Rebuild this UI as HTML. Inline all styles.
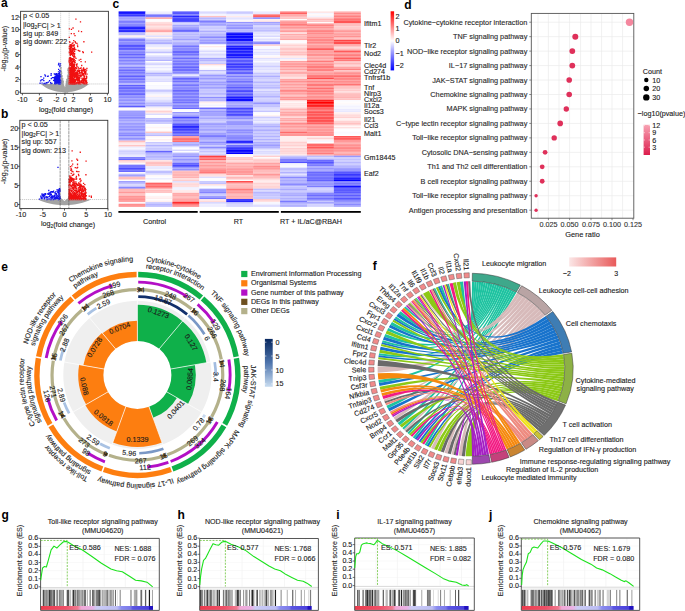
<!DOCTYPE html>
<html><head><meta charset="utf-8"><title>Figure</title>
<style>html,body{margin:0;padding:0;background:#fff;}svg{display:block;}text{font-family:"Liberation Sans", sans-serif;}</style>
</head><body>
<svg width="685" height="611" viewBox="0 0 685 611" font-family="Liberation Sans, sans-serif">
<rect width="685" height="611" fill="#fff"/>
<g>
<clipPath id="cpa"><rect x="20.6" y="11.3" width="87.8" height="82"/></clipPath>
<g clip-path="url(#cpa)">
<path d="M40.68 83.97 L60.57 83.97 L60.57 62.1 C61.93 77.1 64.05 86.16 64.69 88.66 L65.11 88.66 C65.75 86.16 67.88 77.1 69.23 62.1 L69.23 83.97 L89.12 83.97 C83.07 89.26 74.59 92.22 64.9 92.22 C55.21 92.22 46.73 89.26 40.68 83.97 Z" fill="#a3a3a3"/>
<path d="M62.02 82.63h1.3v1.3h-1.3zM63.14 86.59h1.3v1.3h-1.3zM65.32 90.94h1.3v1.3h-1.3zM60.11 67.9h1.3v1.3h-1.3zM62.2 87.96h1.3v1.3h-1.3zM68.46 78.22h1.3v1.3h-1.3zM67.11 81.53h1.3v1.3h-1.3zM65.43 90.15h1.3v1.3h-1.3zM65.4 84.21h1.3v1.3h-1.3zM64.45 90.39h1.3v1.3h-1.3zM65.71 90.77h1.3v1.3h-1.3zM66.44 82.01h1.3v1.3h-1.3zM62.56 91.07h1.3v1.3h-1.3zM67.36 80.76h1.3v1.3h-1.3zM66.11 79.55h1.3v1.3h-1.3zM66.07 79.25h1.3v1.3h-1.3zM63.36 86.24h1.3v1.3h-1.3zM63.78 88.24h1.3v1.3h-1.3zM67.47 89.17h1.3v1.3h-1.3zM61.16 86.56h1.3v1.3h-1.3zM68.21 79.18h1.3v1.3h-1.3zM65.33 89.09h1.3v1.3h-1.3zM64.31 91.28h1.3v1.3h-1.3zM62.98 86.05h1.3v1.3h-1.3zM64.97 86.74h1.3v1.3h-1.3zM65.8 80.99h1.3v1.3h-1.3zM67.28 69.6h1.3v1.3h-1.3zM65.71 89.72h1.3v1.3h-1.3zM67.32 69.92h1.3v1.3h-1.3zM67.69 77.2h1.3v1.3h-1.3zM66.07 88.66h1.3v1.3h-1.3zM67.07 79.68h1.3v1.3h-1.3zM62.42 90.61h1.3v1.3h-1.3zM67.26 69.77h1.3v1.3h-1.3zM60.75 71.07h1.3v1.3h-1.3zM63.49 90.61h1.3v1.3h-1.3zM62.5 81.65h1.3v1.3h-1.3zM67.42 90.43h1.3v1.3h-1.3zM65.22 91.13h1.3v1.3h-1.3zM66.11 86.98h1.3v1.3h-1.3zM67.49 68.34h1.3v1.3h-1.3zM64.3 91.12h1.3v1.3h-1.3zM62.63 90.54h1.3v1.3h-1.3zM65.1 91.26h1.3v1.3h-1.3zM61.68 83.81h1.3v1.3h-1.3zM65.19 90.38h1.3v1.3h-1.3zM60.36 67.04h1.3v1.3h-1.3zM62.67 80.41h1.3v1.3h-1.3zM67.62 82.18h1.3v1.3h-1.3zM63.91 90.18h1.3v1.3h-1.3zM65.47 86.15h1.3v1.3h-1.3zM64.75 89.18h1.3v1.3h-1.3zM68 77.63h1.3v1.3h-1.3zM63.67 88.38h1.3v1.3h-1.3zM62.02 86.56h1.3v1.3h-1.3zM68.31 76.79h1.3v1.3h-1.3zM64.66 91.42h1.3v1.3h-1.3zM63.53 88.41h1.3v1.3h-1.3zM60.17 74.13h1.3v1.3h-1.3zM65.37 90.96h1.3v1.3h-1.3zM65.33 87.78h1.3v1.3h-1.3zM65.77 87.54h1.3v1.3h-1.3zM66.01 82h1.3v1.3h-1.3zM60.19 89.75h1.3v1.3h-1.3zM65.75 80.96h1.3v1.3h-1.3zM62.13 84.42h1.3v1.3h-1.3zM65.04 89.61h1.3v1.3h-1.3zM63.09 88.82h1.3v1.3h-1.3zM63.14 86.63h1.3v1.3h-1.3zM62.55 86.79h1.3v1.3h-1.3zM66.56 91h1.3v1.3h-1.3zM64.84 88.3h1.3v1.3h-1.3zM62.64 88.83h1.3v1.3h-1.3zM66.83 86.96h1.3v1.3h-1.3zM61.59 83.03h1.3v1.3h-1.3zM65.93 90.2h1.3v1.3h-1.3zM62.74 87.77h1.3v1.3h-1.3zM67.09 82.4h1.3v1.3h-1.3zM67.27 87.73h1.3v1.3h-1.3zM62.86 84.88h1.3v1.3h-1.3zM67.52 80.71h1.3v1.3h-1.3zM61.91 89.39h1.3v1.3h-1.3zM64.5 91.1h1.3v1.3h-1.3zM66.86 75.53h1.3v1.3h-1.3zM61.56 86h1.3v1.3h-1.3zM66.86 79.25h1.3v1.3h-1.3zM66.85 84.91h1.3v1.3h-1.3zM61.1 84.76h1.3v1.3h-1.3zM66.75 86.52h1.3v1.3h-1.3zM62.94 87.49h1.3v1.3h-1.3zM63.57 89.42h1.3v1.3h-1.3zM67.83 87.39h1.3v1.3h-1.3zM60.04 64.92h1.3v1.3h-1.3zM67.48 68.25h1.3v1.3h-1.3zM63.69 87.59h1.3v1.3h-1.3zM67.88 85.58h1.3v1.3h-1.3zM66.34 78.74h1.3v1.3h-1.3zM65.64 86.22h1.3v1.3h-1.3zM62.46 87h1.3v1.3h-1.3zM61.93 90.3h1.3v1.3h-1.3zM65 89.88h1.3v1.3h-1.3zM66.89 90.58h1.3v1.3h-1.3zM67.68 74.13h1.3v1.3h-1.3zM67.85 67.94h1.3v1.3h-1.3zM67.65 77.18h1.3v1.3h-1.3zM60.11 70.49h1.3v1.3h-1.3zM61.46 85.36h1.3v1.3h-1.3zM65.63 86.16h1.3v1.3h-1.3zM63.52 86.44h1.3v1.3h-1.3zM65.2 89.08h1.3v1.3h-1.3zM62.15 78.25h1.3v1.3h-1.3zM64.06 90.35h1.3v1.3h-1.3zM62.99 89.64h1.3v1.3h-1.3zM64.54 89.7h1.3v1.3h-1.3zM61.46 75.35h1.3v1.3h-1.3zM67.84 70.41h1.3v1.3h-1.3zM67 91.3h1.3v1.3h-1.3zM65.34 84.59h1.3v1.3h-1.3zM60.42 83.89h1.3v1.3h-1.3zM62.28 83.9h1.3v1.3h-1.3zM63.6 89.2h1.3v1.3h-1.3zM66.6 91.42h1.3v1.3h-1.3zM60.47 87.96h1.3v1.3h-1.3zM61.06 89.86h1.3v1.3h-1.3zM68.28 67.42h1.3v1.3h-1.3zM60.73 78.59h1.3v1.3h-1.3zM62.69 87.87h1.3v1.3h-1.3zM62.99 85.5h1.3v1.3h-1.3zM64.99 89.52h1.3v1.3h-1.3zM61.62 85.17h1.3v1.3h-1.3zM61.05 78.52h1.3v1.3h-1.3zM66.09 86.37h1.3v1.3h-1.3zM60.68 86.81h1.3v1.3h-1.3zM63.17 86.71h1.3v1.3h-1.3zM66.65 84.8h1.3v1.3h-1.3zM66.81 79.84h1.3v1.3h-1.3zM63.67 89.87h1.3v1.3h-1.3zM64.22 91.28h1.3v1.3h-1.3zM63.57 88.04h1.3v1.3h-1.3zM63.92 90.86h1.3v1.3h-1.3zM64.55 89.91h1.3v1.3h-1.3zM60.61 80.19h1.3v1.3h-1.3zM63.62 87.41h1.3v1.3h-1.3zM67.96 81.34h1.3v1.3h-1.3zM67.63 71.98h1.3v1.3h-1.3zM62.23 84.62h1.3v1.3h-1.3zM61.05 72.49h1.3v1.3h-1.3zM65.63 82.54h1.3v1.3h-1.3zM66.74 79.37h1.3v1.3h-1.3zM66.24 83.3h1.3v1.3h-1.3z" fill="#a3a3a3"/>
<path d="M59.26 78h1.3v1.3h-1.3zM59.88 82.47h1.3v1.3h-1.3zM54.98 83.14h1.3v1.3h-1.3zM59.33 82.8h1.3v1.3h-1.3zM54.3 82.19h1.3v1.3h-1.3zM59.77 74.83h1.3v1.3h-1.3zM59.14 74.8h1.3v1.3h-1.3zM55.62 74.9h1.3v1.3h-1.3zM53.84 78.1h1.3v1.3h-1.3zM54.82 83.18h1.3v1.3h-1.3zM55.02 78.88h1.3v1.3h-1.3zM55.36 82.75h1.3v1.3h-1.3zM55.14 73.59h1.3v1.3h-1.3zM59.53 80.87h1.3v1.3h-1.3zM56.32 75.01h1.3v1.3h-1.3zM58.37 82.18h1.3v1.3h-1.3zM58.32 77.67h1.3v1.3h-1.3zM55.11 80.16h1.3v1.3h-1.3zM57.57 80.13h1.3v1.3h-1.3zM57.68 79.9h1.3v1.3h-1.3zM59.38 79.01h1.3v1.3h-1.3zM53.71 79.96h1.3v1.3h-1.3zM55.15 82.34h1.3v1.3h-1.3zM55.51 75.94h1.3v1.3h-1.3zM55.62 78.82h1.3v1.3h-1.3zM56.83 77.34h1.3v1.3h-1.3zM54.19 82.43h1.3v1.3h-1.3zM59.3 76.04h1.3v1.3h-1.3zM54.07 78.82h1.3v1.3h-1.3zM57.09 76.41h1.3v1.3h-1.3zM58.73 81.41h1.3v1.3h-1.3zM58.65 78.03h1.3v1.3h-1.3zM57.91 81.73h1.3v1.3h-1.3zM55.51 73.34h1.3v1.3h-1.3zM58.03 76.58h1.3v1.3h-1.3zM57.28 74.68h1.3v1.3h-1.3zM56.19 81.41h1.3v1.3h-1.3zM58.53 83.25h1.3v1.3h-1.3zM56.86 80.28h1.3v1.3h-1.3zM58.82 80.5h1.3v1.3h-1.3zM57.86 75.71h1.3v1.3h-1.3zM59 72.82h1.3v1.3h-1.3zM56.86 77.87h1.3v1.3h-1.3zM56.93 74.93h1.3v1.3h-1.3zM54.68 78.36h1.3v1.3h-1.3zM56.85 76.38h1.3v1.3h-1.3zM54.45 80.09h1.3v1.3h-1.3zM55.24 73.25h1.3v1.3h-1.3zM56.94 81.76h1.3v1.3h-1.3zM58.42 76.42h1.3v1.3h-1.3zM55.61 73.27h1.3v1.3h-1.3zM54.47 81.64h1.3v1.3h-1.3zM58.71 81.49h1.3v1.3h-1.3zM58.72 76.58h1.3v1.3h-1.3zM54.44 74.06h1.3v1.3h-1.3zM58.29 74.52h1.3v1.3h-1.3zM57.92 79.85h1.3v1.3h-1.3zM55.27 82.89h1.3v1.3h-1.3zM59.32 74.93h1.3v1.3h-1.3zM58.06 80.54h1.3v1.3h-1.3zM56.22 76.94h1.3v1.3h-1.3zM59.87 80.76h1.3v1.3h-1.3zM57.13 79.17h1.3v1.3h-1.3zM58.58 78.03h1.3v1.3h-1.3zM53.82 80.19h1.3v1.3h-1.3zM56.44 82.66h1.3v1.3h-1.3zM58.16 77.07h1.3v1.3h-1.3zM59.2 74.23h1.3v1.3h-1.3zM54.12 82.81h1.3v1.3h-1.3zM53.91 80.36h1.3v1.3h-1.3zM54.99 75.92h1.3v1.3h-1.3zM58.03 76.94h1.3v1.3h-1.3zM55.75 75.3h1.3v1.3h-1.3zM58.22 75.96h1.3v1.3h-1.3zM53.79 76.98h1.3v1.3h-1.3zM56.5 82.7h1.3v1.3h-1.3zM56.77 80.59h1.3v1.3h-1.3zM55.34 76.91h1.3v1.3h-1.3zM56.3 82.17h1.3v1.3h-1.3zM55.8 77.49h1.3v1.3h-1.3zM58.77 74.19h1.3v1.3h-1.3zM55.74 82.63h1.3v1.3h-1.3zM53.97 82.49h1.3v1.3h-1.3zM57.8 76.39h1.3v1.3h-1.3zM56.11 78.38h1.3v1.3h-1.3zM55.79 79.48h1.3v1.3h-1.3zM57.92 82.21h1.3v1.3h-1.3zM59.48 76.45h1.3v1.3h-1.3zM55.11 78.52h1.3v1.3h-1.3zM55.2 80.52h1.3v1.3h-1.3zM58.22 80.27h1.3v1.3h-1.3zM54.35 83.15h1.3v1.3h-1.3zM56.7 81.6h1.3v1.3h-1.3zM55.01 80.57h1.3v1.3h-1.3zM57.79 80.06h1.3v1.3h-1.3zM56.46 75.74h1.3v1.3h-1.3zM57.67 74.76h1.3v1.3h-1.3zM59.2 81.38h1.3v1.3h-1.3zM59.28 82.7h1.3v1.3h-1.3zM54.95 76.3h1.3v1.3h-1.3zM58.74 82.11h1.3v1.3h-1.3zM57.26 76.1h1.3v1.3h-1.3zM54.71 76.03h1.3v1.3h-1.3zM56.14 82.45h1.3v1.3h-1.3zM57.38 82.07h1.3v1.3h-1.3zM56.55 78.23h1.3v1.3h-1.3zM58.63 81.57h1.3v1.3h-1.3zM54.93 83.21h1.3v1.3h-1.3zM54.79 74.18h1.3v1.3h-1.3zM53.86 80.27h1.3v1.3h-1.3zM56.39 78.06h1.3v1.3h-1.3zM55.88 73.02h1.3v1.3h-1.3zM55.54 81.11h1.3v1.3h-1.3zM54.43 79.19h1.3v1.3h-1.3zM56.08 76.31h1.3v1.3h-1.3zM59.9 75.75h1.3v1.3h-1.3zM55.7 79.1h1.3v1.3h-1.3zM56.58 79.45h1.3v1.3h-1.3zM58.68 78.68h1.3v1.3h-1.3zM59.68 79h1.3v1.3h-1.3zM55.8 79.62h1.3v1.3h-1.3zM56.31 73.26h1.3v1.3h-1.3zM54.23 82.53h1.3v1.3h-1.3zM54.86 77.58h1.3v1.3h-1.3zM59.59 80.51h1.3v1.3h-1.3zM58.43 82.94h1.3v1.3h-1.3zM56.48 73.66h1.3v1.3h-1.3zM57.86 74.45h1.3v1.3h-1.3zM55.49 82.54h1.3v1.3h-1.3zM54.44 77.84h1.3v1.3h-1.3zM54.01 76.44h1.3v1.3h-1.3zM55.2 80.68h1.3v1.3h-1.3zM54.77 73.63h1.3v1.3h-1.3zM54.42 79.7h1.3v1.3h-1.3zM55.09 79.18h1.3v1.3h-1.3zM59.22 83.15h1.3v1.3h-1.3zM59.42 82.01h1.3v1.3h-1.3zM58.89 79.04h1.3v1.3h-1.3zM55.46 78.59h1.3v1.3h-1.3zM57.22 77.27h1.3v1.3h-1.3z" fill="#1212ee"/>
<path d="M59.14 74.86h1.3v1.3h-1.3zM57.98 76.22h1.3v1.3h-1.3zM59.45 64.61h1.3v1.3h-1.3zM58.08 76.94h1.3v1.3h-1.3zM58.97 73.42h1.3v1.3h-1.3zM58.39 79.8h1.3v1.3h-1.3zM59.91 80.08h1.3v1.3h-1.3zM57.92 81.26h1.3v1.3h-1.3zM58.74 80.33h1.3v1.3h-1.3zM59.38 80.78h1.3v1.3h-1.3zM58.89 80.82h1.3v1.3h-1.3zM59.84 81.82h1.3v1.3h-1.3zM59.49 74.29h1.3v1.3h-1.3zM59.76 83.1h1.3v1.3h-1.3zM58.77 76.08h1.3v1.3h-1.3zM58.12 82.73h1.3v1.3h-1.3zM58.89 76.32h1.3v1.3h-1.3zM59.85 62.95h1.3v1.3h-1.3zM59.36 82.08h1.3v1.3h-1.3zM58.7 80.88h1.3v1.3h-1.3zM58.33 77.37h1.3v1.3h-1.3zM59.6 82.71h1.3v1.3h-1.3zM58.06 78.81h1.3v1.3h-1.3zM57.91 74.84h1.3v1.3h-1.3zM57.54 78.3h1.3v1.3h-1.3zM59.28 78.99h1.3v1.3h-1.3zM57.84 71.14h1.3v1.3h-1.3zM59.04 82.08h1.3v1.3h-1.3zM58.17 62.86h1.3v1.3h-1.3zM58.4 83.3h1.3v1.3h-1.3zM59.84 82.14h1.3v1.3h-1.3zM59.48 82.92h1.3v1.3h-1.3zM59.78 70.55h1.3v1.3h-1.3zM57.62 80.23h1.3v1.3h-1.3zM57.43 74.59h1.3v1.3h-1.3zM57.87 64.16h1.3v1.3h-1.3zM57.52 82.95h1.3v1.3h-1.3zM59.14 71.65h1.3v1.3h-1.3zM57.5 82.18h1.3v1.3h-1.3zM59.17 65.84h1.3v1.3h-1.3zM59.62 76.46h1.3v1.3h-1.3zM59.06 69.95h1.3v1.3h-1.3zM57.55 80.71h1.3v1.3h-1.3zM58.03 68.66h1.3v1.3h-1.3zM57.78 72.88h1.3v1.3h-1.3z" fill="#1212ee"/>
<path d="M39.92 80.18h1.3v1.3h-1.3zM47.7 81.51h1.3v1.3h-1.3zM42.12 78.91h1.3v1.3h-1.3zM49.93 82.06h1.3v1.3h-1.3zM43.02 77.5h1.3v1.3h-1.3zM43.18 79.93h1.3v1.3h-1.3zM46.6 82.2h1.3v1.3h-1.3zM43.18 83.21h1.3v1.3h-1.3zM46.91 75.7h1.3v1.3h-1.3zM43.69 82.68h1.3v1.3h-1.3zM50.42 74.66h1.3v1.3h-1.3zM44.22 74.23h1.3v1.3h-1.3zM40.7 79.25h1.3v1.3h-1.3zM40.33 76.01h1.3v1.3h-1.3zM48.94 80.1h1.3v1.3h-1.3zM52.95 79.79h1.3v1.3h-1.3zM39.43 82.61h1.3v1.3h-1.3zM45.35 82.57h1.3v1.3h-1.3zM52.81 77h1.3v1.3h-1.3zM50.37 83.04h1.3v1.3h-1.3zM51.71 77.05h1.3v1.3h-1.3zM45.09 83.27h1.3v1.3h-1.3zM50.53 73.12h1.3v1.3h-1.3zM50.68 78h1.3v1.3h-1.3zM47.63 75.43h1.3v1.3h-1.3zM44.8 75.33h1.3v1.3h-1.3zM45.86 81.89h1.3v1.3h-1.3zM51.33 82.82h1.3v1.3h-1.3zM41.42 82.55h1.3v1.3h-1.3zM53.68 73.13h1.3v1.3h-1.3z" fill="#1212ee"/>
<path d="M69.38 50.08h1.3v1.3h-1.3zM68.87 70.83h1.3v1.3h-1.3zM69.5 53.58h1.3v1.3h-1.3zM71.67 63.08h1.3v1.3h-1.3zM72.57 51.28h1.3v1.3h-1.3zM70.13 64.88h1.3v1.3h-1.3zM70.68 81.87h1.3v1.3h-1.3zM73.04 65.28h1.3v1.3h-1.3zM72.91 79.64h1.3v1.3h-1.3zM71.22 70.87h1.3v1.3h-1.3zM72.36 82.48h1.3v1.3h-1.3zM70.13 70.04h1.3v1.3h-1.3zM68.82 67.15h1.3v1.3h-1.3zM72.41 72.5h1.3v1.3h-1.3zM71.87 64.76h1.3v1.3h-1.3zM69.45 75.15h1.3v1.3h-1.3zM74.08 75.68h1.3v1.3h-1.3zM70.6 82.36h1.3v1.3h-1.3zM69.47 80.68h1.3v1.3h-1.3zM73.66 58.95h1.3v1.3h-1.3zM73.29 44.74h1.3v1.3h-1.3zM71.65 47.93h1.3v1.3h-1.3zM71.2 72.66h1.3v1.3h-1.3zM73.77 49.53h1.3v1.3h-1.3zM73.78 70.06h1.3v1.3h-1.3zM72.64 73.1h1.3v1.3h-1.3zM74.09 48.56h1.3v1.3h-1.3zM69.85 47.77h1.3v1.3h-1.3zM69.31 82.16h1.3v1.3h-1.3zM72.32 77.04h1.3v1.3h-1.3zM71.1 63.2h1.3v1.3h-1.3zM68.7 58h1.3v1.3h-1.3zM69.76 72.13h1.3v1.3h-1.3zM70.12 58.15h1.3v1.3h-1.3zM72.48 77.26h1.3v1.3h-1.3zM68.95 76.88h1.3v1.3h-1.3zM70.49 82.47h1.3v1.3h-1.3zM69.17 57.1h1.3v1.3h-1.3zM72.19 45.34h1.3v1.3h-1.3zM73.98 51.03h1.3v1.3h-1.3zM70.27 80.77h1.3v1.3h-1.3zM69.95 70.91h1.3v1.3h-1.3zM71.14 67.61h1.3v1.3h-1.3zM70.2 52.32h1.3v1.3h-1.3zM69.81 70.91h1.3v1.3h-1.3zM73.37 54.77h1.3v1.3h-1.3zM69.87 78.62h1.3v1.3h-1.3zM72.85 83.29h1.3v1.3h-1.3zM69.07 68.1h1.3v1.3h-1.3zM71.2 80.67h1.3v1.3h-1.3zM68.74 79.7h1.3v1.3h-1.3zM72.62 70.81h1.3v1.3h-1.3zM73.97 55.91h1.3v1.3h-1.3zM73.97 83.07h1.3v1.3h-1.3zM69.31 83.27h1.3v1.3h-1.3zM70.6 75.58h1.3v1.3h-1.3zM68.74 67.44h1.3v1.3h-1.3zM68.91 76.48h1.3v1.3h-1.3zM69.62 55.04h1.3v1.3h-1.3zM70.53 78.09h1.3v1.3h-1.3zM68.72 72.24h1.3v1.3h-1.3zM71.74 61.48h1.3v1.3h-1.3zM73.54 54.7h1.3v1.3h-1.3zM69.62 81.36h1.3v1.3h-1.3zM72.55 55.7h1.3v1.3h-1.3zM71.04 53.5h1.3v1.3h-1.3zM71.29 77.5h1.3v1.3h-1.3zM69.24 83.24h1.3v1.3h-1.3zM71.84 49.88h1.3v1.3h-1.3zM73.49 70.74h1.3v1.3h-1.3zM71.97 48.09h1.3v1.3h-1.3zM72.9 64.9h1.3v1.3h-1.3zM70.5 68.63h1.3v1.3h-1.3zM69.25 80.24h1.3v1.3h-1.3zM72.09 44.41h1.3v1.3h-1.3zM71.26 73.06h1.3v1.3h-1.3zM70.16 71.24h1.3v1.3h-1.3zM72.83 71.34h1.3v1.3h-1.3zM73.84 80.92h1.3v1.3h-1.3zM69.97 68.48h1.3v1.3h-1.3zM70.49 52.41h1.3v1.3h-1.3zM72.99 47.94h1.3v1.3h-1.3zM71.65 83.11h1.3v1.3h-1.3zM71.43 67.28h1.3v1.3h-1.3zM70.92 77.5h1.3v1.3h-1.3zM72.24 49.05h1.3v1.3h-1.3zM68.94 61.79h1.3v1.3h-1.3zM70.27 68.78h1.3v1.3h-1.3zM73.43 46.27h1.3v1.3h-1.3zM71.84 79.93h1.3v1.3h-1.3zM73.59 80.29h1.3v1.3h-1.3zM70.33 53.65h1.3v1.3h-1.3zM69.97 77.77h1.3v1.3h-1.3zM73.78 47.22h1.3v1.3h-1.3zM69.98 73.64h1.3v1.3h-1.3zM69.79 81.45h1.3v1.3h-1.3zM69.63 45.12h1.3v1.3h-1.3zM68.85 78.99h1.3v1.3h-1.3zM69.39 82.44h1.3v1.3h-1.3zM71.14 58.11h1.3v1.3h-1.3zM73.06 63.58h1.3v1.3h-1.3zM72.93 83.31h1.3v1.3h-1.3zM69.8 46.22h1.3v1.3h-1.3zM68.81 77.87h1.3v1.3h-1.3zM70.89 77.87h1.3v1.3h-1.3zM71.26 82.92h1.3v1.3h-1.3zM69.56 46.43h1.3v1.3h-1.3zM69.13 49.4h1.3v1.3h-1.3zM69.28 44.37h1.3v1.3h-1.3zM72.03 62.84h1.3v1.3h-1.3zM69.12 82.82h1.3v1.3h-1.3zM72.56 80.41h1.3v1.3h-1.3zM69.34 53.94h1.3v1.3h-1.3zM73.29 82.9h1.3v1.3h-1.3zM73.85 67.93h1.3v1.3h-1.3zM70.33 81.95h1.3v1.3h-1.3zM70.37 44.68h1.3v1.3h-1.3zM69.79 81.45h1.3v1.3h-1.3zM69.13 81.54h1.3v1.3h-1.3zM70.17 48.86h1.3v1.3h-1.3zM68.84 80.01h1.3v1.3h-1.3zM73.71 44.13h1.3v1.3h-1.3zM73.98 78.52h1.3v1.3h-1.3zM70.18 46.82h1.3v1.3h-1.3zM70.9 60.1h1.3v1.3h-1.3zM69.96 83.2h1.3v1.3h-1.3zM70.13 57.84h1.3v1.3h-1.3zM72.7 66.43h1.3v1.3h-1.3zM70.78 67.78h1.3v1.3h-1.3zM70.66 67.94h1.3v1.3h-1.3zM73.02 79.79h1.3v1.3h-1.3zM71.54 47.85h1.3v1.3h-1.3zM73.12 80.33h1.3v1.3h-1.3zM73.87 53.01h1.3v1.3h-1.3zM69.23 77.93h1.3v1.3h-1.3zM69.4 82.84h1.3v1.3h-1.3zM73.97 73.01h1.3v1.3h-1.3zM73.28 81.8h1.3v1.3h-1.3zM68.62 51.39h1.3v1.3h-1.3zM72.77 44.45h1.3v1.3h-1.3zM72.1 68.34h1.3v1.3h-1.3zM72.6 82.22h1.3v1.3h-1.3zM71.22 71.79h1.3v1.3h-1.3zM69.14 65.01h1.3v1.3h-1.3zM70.01 69.14h1.3v1.3h-1.3zM70.28 76.26h1.3v1.3h-1.3zM70.2 64.98h1.3v1.3h-1.3zM73.98 47.66h1.3v1.3h-1.3zM73.21 53.27h1.3v1.3h-1.3zM69.82 45.32h1.3v1.3h-1.3zM69.73 81.62h1.3v1.3h-1.3zM70.99 58.65h1.3v1.3h-1.3zM70.1 62.92h1.3v1.3h-1.3zM69.8 45.89h1.3v1.3h-1.3zM70.72 70.32h1.3v1.3h-1.3zM71.17 51.1h1.3v1.3h-1.3zM74.02 68.2h1.3v1.3h-1.3zM70.66 64.2h1.3v1.3h-1.3zM68.81 72.4h1.3v1.3h-1.3zM73.11 56.34h1.3v1.3h-1.3zM68.77 52.22h1.3v1.3h-1.3zM70.34 45.05h1.3v1.3h-1.3zM70.24 79.41h1.3v1.3h-1.3zM71.27 50.61h1.3v1.3h-1.3zM70.6 51.51h1.3v1.3h-1.3zM72.26 74.77h1.3v1.3h-1.3zM69.89 69.18h1.3v1.3h-1.3zM70.42 74.37h1.3v1.3h-1.3zM71.89 51.09h1.3v1.3h-1.3zM71.49 81.12h1.3v1.3h-1.3zM69.48 74.43h1.3v1.3h-1.3zM71.67 81.27h1.3v1.3h-1.3zM68.86 76.18h1.3v1.3h-1.3zM69.8 83.13h1.3v1.3h-1.3zM71.22 48.5h1.3v1.3h-1.3zM71.19 58.39h1.3v1.3h-1.3zM72.99 53.14h1.3v1.3h-1.3zM73.54 71.78h1.3v1.3h-1.3zM72.08 81.67h1.3v1.3h-1.3zM73.32 74.17h1.3v1.3h-1.3zM70.85 50.25h1.3v1.3h-1.3zM69.82 80.07h1.3v1.3h-1.3zM72.96 65.08h1.3v1.3h-1.3zM68.87 83.14h1.3v1.3h-1.3zM70.16 83.3h1.3v1.3h-1.3zM73.02 80.23h1.3v1.3h-1.3zM69.75 73.78h1.3v1.3h-1.3zM71.06 72.13h1.3v1.3h-1.3zM71.75 62.22h1.3v1.3h-1.3zM70.63 82.13h1.3v1.3h-1.3zM73.97 60.7h1.3v1.3h-1.3zM68.87 71.77h1.3v1.3h-1.3zM72.52 44.43h1.3v1.3h-1.3zM68.8 83.29h1.3v1.3h-1.3zM70.87 72.53h1.3v1.3h-1.3zM73.42 53.74h1.3v1.3h-1.3zM70.05 72.65h1.3v1.3h-1.3zM71.48 50.59h1.3v1.3h-1.3zM69.4 73.67h1.3v1.3h-1.3zM68.89 63.1h1.3v1.3h-1.3zM68.66 47.72h1.3v1.3h-1.3zM71.13 66.21h1.3v1.3h-1.3zM68.87 78.92h1.3v1.3h-1.3zM70.81 52.07h1.3v1.3h-1.3zM71.22 77.35h1.3v1.3h-1.3zM73.99 62.14h1.3v1.3h-1.3zM71.15 79.74h1.3v1.3h-1.3zM69.88 49.71h1.3v1.3h-1.3zM69.08 68.06h1.3v1.3h-1.3zM71.7 75h1.3v1.3h-1.3zM72.61 49.15h1.3v1.3h-1.3zM73.18 58.36h1.3v1.3h-1.3zM69.4 82.75h1.3v1.3h-1.3zM70.61 76.46h1.3v1.3h-1.3zM69.36 51.3h1.3v1.3h-1.3zM69.46 53.94h1.3v1.3h-1.3zM73.7 81.69h1.3v1.3h-1.3zM73.54 73.47h1.3v1.3h-1.3zM69.44 80.15h1.3v1.3h-1.3zM68.69 69.46h1.3v1.3h-1.3zM70.34 52.39h1.3v1.3h-1.3zM73.02 82.79h1.3v1.3h-1.3zM70.43 73.76h1.3v1.3h-1.3zM69.28 78.38h1.3v1.3h-1.3zM69.7 60.55h1.3v1.3h-1.3zM70.1 81.87h1.3v1.3h-1.3zM69.48 71.75h1.3v1.3h-1.3zM71.37 78.54h1.3v1.3h-1.3zM72.18 79.39h1.3v1.3h-1.3zM72.01 64.6h1.3v1.3h-1.3zM69.27 57.7h1.3v1.3h-1.3zM70.39 67.72h1.3v1.3h-1.3zM71.56 63.72h1.3v1.3h-1.3zM70.66 82.8h1.3v1.3h-1.3zM72.73 51.94h1.3v1.3h-1.3zM70.93 65.98h1.3v1.3h-1.3zM69.73 49.78h1.3v1.3h-1.3zM72.1 79.21h1.3v1.3h-1.3zM72.92 44.77h1.3v1.3h-1.3zM70.13 44.21h1.3v1.3h-1.3zM70.89 80.35h1.3v1.3h-1.3zM72.29 75.56h1.3v1.3h-1.3zM72.39 65.78h1.3v1.3h-1.3zM68.97 68.21h1.3v1.3h-1.3zM73.14 70.32h1.3v1.3h-1.3zM71.22 51.75h1.3v1.3h-1.3zM70.69 69.71h1.3v1.3h-1.3zM71.48 53.88h1.3v1.3h-1.3zM69.4 82.2h1.3v1.3h-1.3zM72.57 67.15h1.3v1.3h-1.3zM69.9 50.14h1.3v1.3h-1.3zM73.35 67.64h1.3v1.3h-1.3zM74.03 53.23h1.3v1.3h-1.3zM72.48 77.13h1.3v1.3h-1.3zM68.61 61.31h1.3v1.3h-1.3zM72.4 75.15h1.3v1.3h-1.3zM70.87 66.51h1.3v1.3h-1.3zM69.63 60.38h1.3v1.3h-1.3zM71.36 73.9h1.3v1.3h-1.3zM68.97 67.09h1.3v1.3h-1.3zM69.99 59.02h1.3v1.3h-1.3zM69.26 73.57h1.3v1.3h-1.3zM69.37 73.05h1.3v1.3h-1.3zM71.44 81.95h1.3v1.3h-1.3zM68.75 70.14h1.3v1.3h-1.3zM69.39 69.19h1.3v1.3h-1.3zM69.23 82.07h1.3v1.3h-1.3zM71.21 48.4h1.3v1.3h-1.3zM73.25 68.75h1.3v1.3h-1.3zM70.41 82.66h1.3v1.3h-1.3zM69.77 76.39h1.3v1.3h-1.3zM73.72 81.75h1.3v1.3h-1.3zM73.77 70.36h1.3v1.3h-1.3zM70.61 78.04h1.3v1.3h-1.3zM73.86 80.16h1.3v1.3h-1.3zM71.41 68.95h1.3v1.3h-1.3zM69.38 79.18h1.3v1.3h-1.3zM74.01 55.64h1.3v1.3h-1.3zM72.39 49.54h1.3v1.3h-1.3zM68.93 60.09h1.3v1.3h-1.3zM72.5 79.11h1.3v1.3h-1.3zM70.74 45.45h1.3v1.3h-1.3zM70.03 57.12h1.3v1.3h-1.3zM69.22 61.87h1.3v1.3h-1.3zM69.73 69.03h1.3v1.3h-1.3zM70.27 51.36h1.3v1.3h-1.3zM72.46 69.23h1.3v1.3h-1.3zM72.11 72.31h1.3v1.3h-1.3zM72.84 78.18h1.3v1.3h-1.3zM71.25 65.68h1.3v1.3h-1.3zM70.36 82.93h1.3v1.3h-1.3zM69.24 63.14h1.3v1.3h-1.3zM69.44 57.33h1.3v1.3h-1.3zM71.02 46.69h1.3v1.3h-1.3zM73.12 58.9h1.3v1.3h-1.3zM70.27 82.97h1.3v1.3h-1.3zM71.32 57.97h1.3v1.3h-1.3zM73.59 79.73h1.3v1.3h-1.3zM69.19 45.1h1.3v1.3h-1.3zM72.43 70.04h1.3v1.3h-1.3zM72.43 81.05h1.3v1.3h-1.3zM71.25 61.8h1.3v1.3h-1.3zM71.6 80.78h1.3v1.3h-1.3zM69.09 63.88h1.3v1.3h-1.3zM73.35 81.3h1.3v1.3h-1.3zM68.6 82.39h1.3v1.3h-1.3zM72.72 73.71h1.3v1.3h-1.3zM70.74 44.3h1.3v1.3h-1.3zM71.64 78h1.3v1.3h-1.3zM72.19 83.32h1.3v1.3h-1.3zM69.79 60.33h1.3v1.3h-1.3zM69.25 83.09h1.3v1.3h-1.3zM71.1 75.93h1.3v1.3h-1.3zM73.92 82.05h1.3v1.3h-1.3zM72.83 73.79h1.3v1.3h-1.3zM72.85 71.63h1.3v1.3h-1.3zM71.99 75.98h1.3v1.3h-1.3zM69.51 71.34h1.3v1.3h-1.3zM72.81 75.34h1.3v1.3h-1.3zM69.53 72.77h1.3v1.3h-1.3zM68.92 76.34h1.3v1.3h-1.3zM71.42 67.46h1.3v1.3h-1.3zM71.56 77.18h1.3v1.3h-1.3zM68.65 83.16h1.3v1.3h-1.3zM70.09 79.9h1.3v1.3h-1.3zM71.39 77.94h1.3v1.3h-1.3zM72.57 64.96h1.3v1.3h-1.3zM71.95 58.49h1.3v1.3h-1.3zM71.12 72.35h1.3v1.3h-1.3zM69.93 82.7h1.3v1.3h-1.3zM72.78 69.4h1.3v1.3h-1.3zM68.93 48.2h1.3v1.3h-1.3zM71.47 63.94h1.3v1.3h-1.3zM70.64 81.56h1.3v1.3h-1.3zM74.11 80.61h1.3v1.3h-1.3zM70.24 43.99h1.3v1.3h-1.3zM69.03 69.42h1.3v1.3h-1.3zM70.87 78.47h1.3v1.3h-1.3zM73.61 72.83h1.3v1.3h-1.3zM68.61 70.49h1.3v1.3h-1.3zM68.59 59.84h1.3v1.3h-1.3zM73.25 49.39h1.3v1.3h-1.3zM68.73 61.48h1.3v1.3h-1.3zM69.91 70.53h1.3v1.3h-1.3zM69.89 76.69h1.3v1.3h-1.3zM69.07 63.84h1.3v1.3h-1.3zM68.89 46.05h1.3v1.3h-1.3zM68.71 46.05h1.3v1.3h-1.3zM69.35 82.38h1.3v1.3h-1.3zM72.46 68.09h1.3v1.3h-1.3zM72.62 69.05h1.3v1.3h-1.3zM71.76 82.39h1.3v1.3h-1.3zM72.03 68.88h1.3v1.3h-1.3zM73.86 83.31h1.3v1.3h-1.3zM68.81 61.43h1.3v1.3h-1.3zM73.62 72.54h1.3v1.3h-1.3zM72.25 66.8h1.3v1.3h-1.3zM70.37 70.82h1.3v1.3h-1.3zM71.59 83.13h1.3v1.3h-1.3zM69.92 58.36h1.3v1.3h-1.3zM69.67 70.51h1.3v1.3h-1.3zM69.67 74.9h1.3v1.3h-1.3zM71.88 58.07h1.3v1.3h-1.3zM73.82 70.36h1.3v1.3h-1.3zM69.4 75.62h1.3v1.3h-1.3zM68.77 78.71h1.3v1.3h-1.3zM71.49 64.52h1.3v1.3h-1.3zM69.59 80.28h1.3v1.3h-1.3zM68.93 80.35h1.3v1.3h-1.3zM71 78.25h1.3v1.3h-1.3zM73.35 66.61h1.3v1.3h-1.3zM70.1 72.18h1.3v1.3h-1.3zM68.7 58.62h1.3v1.3h-1.3zM72.5 74.69h1.3v1.3h-1.3zM72.34 77.72h1.3v1.3h-1.3zM69.48 79.03h1.3v1.3h-1.3zM69.37 64.76h1.3v1.3h-1.3zM71.83 58.88h1.3v1.3h-1.3zM68.95 56.91h1.3v1.3h-1.3zM70.87 74.16h1.3v1.3h-1.3z" fill="#f01010"/>
<path d="M76.41 77.86h1.3v1.3h-1.3zM71.17 78.47h1.3v1.3h-1.3zM79.15 72.81h1.3v1.3h-1.3zM84.63 81.39h1.3v1.3h-1.3zM84.13 71.16h1.3v1.3h-1.3zM80.48 67.51h1.3v1.3h-1.3zM70.24 71.63h1.3v1.3h-1.3zM84.3 82.27h1.3v1.3h-1.3zM78.15 68.19h1.3v1.3h-1.3zM72.68 70.06h1.3v1.3h-1.3zM84.45 77.82h1.3v1.3h-1.3zM70.35 81.11h1.3v1.3h-1.3zM82.86 78.03h1.3v1.3h-1.3zM73.06 77.69h1.3v1.3h-1.3zM84.91 80.59h1.3v1.3h-1.3zM68.73 68.14h1.3v1.3h-1.3zM73.08 78.62h1.3v1.3h-1.3zM85.92 80.19h1.3v1.3h-1.3zM69.52 69.41h1.3v1.3h-1.3zM71.87 81.03h1.3v1.3h-1.3zM85.11 80.93h1.3v1.3h-1.3zM84.34 79.43h1.3v1.3h-1.3zM72.85 81.11h1.3v1.3h-1.3zM77.15 75.68h1.3v1.3h-1.3zM74.5 76.6h1.3v1.3h-1.3zM72.76 70.42h1.3v1.3h-1.3zM85.03 72.09h1.3v1.3h-1.3zM82.65 82.81h1.3v1.3h-1.3zM71.97 81.27h1.3v1.3h-1.3zM70.49 67.74h1.3v1.3h-1.3zM84.43 68.86h1.3v1.3h-1.3zM77.45 82.33h1.3v1.3h-1.3zM75.01 82.94h1.3v1.3h-1.3zM84.41 80.43h1.3v1.3h-1.3zM72.6 68.21h1.3v1.3h-1.3zM71.18 68.69h1.3v1.3h-1.3zM72.98 73.77h1.3v1.3h-1.3zM69.8 69.19h1.3v1.3h-1.3zM74.5 79.25h1.3v1.3h-1.3zM79.32 75.08h1.3v1.3h-1.3zM71.98 82.25h1.3v1.3h-1.3zM77.78 83.19h1.3v1.3h-1.3zM83.72 79.27h1.3v1.3h-1.3zM70.71 79.51h1.3v1.3h-1.3zM69.9 79.68h1.3v1.3h-1.3zM77.17 78.28h1.3v1.3h-1.3zM73.38 80.06h1.3v1.3h-1.3zM76.1 71.59h1.3v1.3h-1.3zM75.21 71.8h1.3v1.3h-1.3zM76.03 82.29h1.3v1.3h-1.3zM70.72 70.22h1.3v1.3h-1.3zM75.97 78.67h1.3v1.3h-1.3zM76.65 70.25h1.3v1.3h-1.3zM74.09 78.99h1.3v1.3h-1.3zM73.93 83.28h1.3v1.3h-1.3zM77.2 77.08h1.3v1.3h-1.3zM76.28 77.54h1.3v1.3h-1.3zM75.84 72.81h1.3v1.3h-1.3zM70.96 67.47h1.3v1.3h-1.3zM69.91 69.84h1.3v1.3h-1.3zM70.79 71.26h1.3v1.3h-1.3zM72.14 82.73h1.3v1.3h-1.3zM77.12 70.39h1.3v1.3h-1.3zM83.18 69.62h1.3v1.3h-1.3zM86 82.97h1.3v1.3h-1.3zM74.16 82.44h1.3v1.3h-1.3zM81.33 77.55h1.3v1.3h-1.3zM81.1 71.25h1.3v1.3h-1.3zM86.41 73.54h1.3v1.3h-1.3zM83.8 75.88h1.3v1.3h-1.3zM69.46 69.34h1.3v1.3h-1.3zM69.59 82.66h1.3v1.3h-1.3zM82.87 80.21h1.3v1.3h-1.3zM79.47 83.16h1.3v1.3h-1.3zM71.34 72.81h1.3v1.3h-1.3zM68.93 76.54h1.3v1.3h-1.3zM85.1 81.13h1.3v1.3h-1.3zM80.32 72.26h1.3v1.3h-1.3zM78.64 71.83h1.3v1.3h-1.3zM80.18 83.26h1.3v1.3h-1.3zM71.05 76.09h1.3v1.3h-1.3zM85.79 81.1h1.3v1.3h-1.3zM78 82.2h1.3v1.3h-1.3zM83.21 77.65h1.3v1.3h-1.3zM76.77 73.68h1.3v1.3h-1.3zM70.22 72.55h1.3v1.3h-1.3zM82.24 69.98h1.3v1.3h-1.3zM72.48 80.86h1.3v1.3h-1.3zM70.64 69.17h1.3v1.3h-1.3zM75.21 78.55h1.3v1.3h-1.3zM76.74 73.13h1.3v1.3h-1.3zM73.1 79.38h1.3v1.3h-1.3zM81.55 71.63h1.3v1.3h-1.3zM72.73 82.78h1.3v1.3h-1.3zM84.91 72.54h1.3v1.3h-1.3zM78.14 78.31h1.3v1.3h-1.3zM85.56 77.89h1.3v1.3h-1.3zM71.43 82.51h1.3v1.3h-1.3zM73.67 74.95h1.3v1.3h-1.3zM73.9 68.18h1.3v1.3h-1.3zM79.23 77.43h1.3v1.3h-1.3zM79.43 74.93h1.3v1.3h-1.3zM78.6 76.81h1.3v1.3h-1.3zM76.79 76.88h1.3v1.3h-1.3zM82.89 81.42h1.3v1.3h-1.3zM81.94 79.95h1.3v1.3h-1.3zM83.25 82.79h1.3v1.3h-1.3zM76.08 77.69h1.3v1.3h-1.3zM80.45 81.29h1.3v1.3h-1.3zM72.17 82.15h1.3v1.3h-1.3zM77.51 75.38h1.3v1.3h-1.3zM68.59 81.6h1.3v1.3h-1.3zM71.17 67.97h1.3v1.3h-1.3zM75.52 75.58h1.3v1.3h-1.3zM72.62 73.86h1.3v1.3h-1.3zM82.51 73.65h1.3v1.3h-1.3zM68.59 77.74h1.3v1.3h-1.3zM76.15 83.04h1.3v1.3h-1.3zM82.04 79.65h1.3v1.3h-1.3zM72.68 74.5h1.3v1.3h-1.3zM77.96 76.79h1.3v1.3h-1.3zM83.47 76.4h1.3v1.3h-1.3zM73.53 82.87h1.3v1.3h-1.3zM77.35 78.97h1.3v1.3h-1.3zM77.04 79.21h1.3v1.3h-1.3zM68.63 83.1h1.3v1.3h-1.3zM70.53 82.57h1.3v1.3h-1.3zM83.3 75.31h1.3v1.3h-1.3zM71.78 72.9h1.3v1.3h-1.3zM78.93 82.89h1.3v1.3h-1.3zM81.25 80.94h1.3v1.3h-1.3zM86.38 82.04h1.3v1.3h-1.3zM72.56 80.66h1.3v1.3h-1.3zM83.53 70.8h1.3v1.3h-1.3zM77.86 81.96h1.3v1.3h-1.3zM75.04 73.07h1.3v1.3h-1.3zM69.17 68.73h1.3v1.3h-1.3zM83.09 68.5h1.3v1.3h-1.3zM80.19 74.64h1.3v1.3h-1.3zM85.9 80.41h1.3v1.3h-1.3zM72.89 82.26h1.3v1.3h-1.3zM70.87 71.2h1.3v1.3h-1.3zM69.65 72.26h1.3v1.3h-1.3zM74.46 69.61h1.3v1.3h-1.3zM81.42 73.35h1.3v1.3h-1.3zM83.17 83.06h1.3v1.3h-1.3zM72.22 78.89h1.3v1.3h-1.3zM75.06 73.66h1.3v1.3h-1.3zM83.88 72.34h1.3v1.3h-1.3zM84.92 73.18h1.3v1.3h-1.3zM73.76 76.59h1.3v1.3h-1.3zM81.19 70.87h1.3v1.3h-1.3zM74 79.09h1.3v1.3h-1.3zM78.54 80.94h1.3v1.3h-1.3zM83.96 83.32h1.3v1.3h-1.3zM79.2 76.97h1.3v1.3h-1.3zM71.1 75.5h1.3v1.3h-1.3zM75.88 67.87h1.3v1.3h-1.3zM83.99 75.2h1.3v1.3h-1.3zM83.72 69.49h1.3v1.3h-1.3zM70.64 70.62h1.3v1.3h-1.3zM82.93 67.27h1.3v1.3h-1.3zM81.42 78.51h1.3v1.3h-1.3zM71.27 73.99h1.3v1.3h-1.3zM71.34 72h1.3v1.3h-1.3zM77.76 70.66h1.3v1.3h-1.3zM73.76 79.88h1.3v1.3h-1.3zM84.41 73.81h1.3v1.3h-1.3zM74.14 75.67h1.3v1.3h-1.3zM75.17 74.17h1.3v1.3h-1.3zM76.67 80.14h1.3v1.3h-1.3zM86 69.46h1.3v1.3h-1.3zM81.4 80.24h1.3v1.3h-1.3zM71.08 72.51h1.3v1.3h-1.3zM82.7 73.99h1.3v1.3h-1.3zM71.38 72.72h1.3v1.3h-1.3zM76.79 78.81h1.3v1.3h-1.3zM78.04 77.59h1.3v1.3h-1.3zM79.21 72.11h1.3v1.3h-1.3zM86.07 82.39h1.3v1.3h-1.3zM77.7 68.22h1.3v1.3h-1.3zM79.37 75.33h1.3v1.3h-1.3zM83.33 83.14h1.3v1.3h-1.3zM82.09 74.54h1.3v1.3h-1.3zM77.95 79.77h1.3v1.3h-1.3zM78.63 82.23h1.3v1.3h-1.3zM76.83 80.54h1.3v1.3h-1.3zM84.98 71.07h1.3v1.3h-1.3zM75.85 72.05h1.3v1.3h-1.3zM74.26 76.32h1.3v1.3h-1.3zM70.59 70.01h1.3v1.3h-1.3zM81.51 71.95h1.3v1.3h-1.3zM69.49 70.78h1.3v1.3h-1.3zM68.67 75.59h1.3v1.3h-1.3zM76.13 82.91h1.3v1.3h-1.3zM74.92 69.42h1.3v1.3h-1.3zM78.73 79.71h1.3v1.3h-1.3zM82.54 79.09h1.3v1.3h-1.3zM84.25 78.37h1.3v1.3h-1.3zM69.42 67.67h1.3v1.3h-1.3zM69.33 80.6h1.3v1.3h-1.3zM81.65 82.35h1.3v1.3h-1.3zM77.18 69.99h1.3v1.3h-1.3zM78.06 79.2h1.3v1.3h-1.3zM81.39 70.66h1.3v1.3h-1.3zM77.86 74.47h1.3v1.3h-1.3zM73.17 78.27h1.3v1.3h-1.3zM86.26 67.67h1.3v1.3h-1.3zM68.59 81.37h1.3v1.3h-1.3zM71.57 71.31h1.3v1.3h-1.3zM71.18 81.71h1.3v1.3h-1.3zM81.55 81.72h1.3v1.3h-1.3zM85.95 77.48h1.3v1.3h-1.3zM84.29 70.78h1.3v1.3h-1.3zM71.28 71.45h1.3v1.3h-1.3zM74.8 81.03h1.3v1.3h-1.3zM69.03 73.04h1.3v1.3h-1.3zM77.51 79.88h1.3v1.3h-1.3zM82.92 81.36h1.3v1.3h-1.3zM75.34 82.64h1.3v1.3h-1.3zM73.66 69.47h1.3v1.3h-1.3zM76.36 81.9h1.3v1.3h-1.3zM71.75 74.15h1.3v1.3h-1.3zM72.42 69.42h1.3v1.3h-1.3zM69.2 69.79h1.3v1.3h-1.3zM78.68 70.73h1.3v1.3h-1.3zM73.72 82.82h1.3v1.3h-1.3zM70.75 74.47h1.3v1.3h-1.3zM68.81 82.4h1.3v1.3h-1.3zM81.88 69.6h1.3v1.3h-1.3zM83.4 70.42h1.3v1.3h-1.3zM77.39 69.66h1.3v1.3h-1.3zM80.17 75.72h1.3v1.3h-1.3zM74.99 83.2h1.3v1.3h-1.3zM69.57 80.65h1.3v1.3h-1.3zM75.63 82.28h1.3v1.3h-1.3zM85.8 75.38h1.3v1.3h-1.3zM81.03 69.3h1.3v1.3h-1.3zM71.58 69.44h1.3v1.3h-1.3zM85.54 80.4h1.3v1.3h-1.3zM70.06 71.17h1.3v1.3h-1.3zM84.1 71.2h1.3v1.3h-1.3zM74.68 74.92h1.3v1.3h-1.3zM69.9 80.86h1.3v1.3h-1.3zM74.87 72.25h1.3v1.3h-1.3zM69.56 68.57h1.3v1.3h-1.3zM68.85 67.71h1.3v1.3h-1.3zM71.76 70.79h1.3v1.3h-1.3zM82.61 68.03h1.3v1.3h-1.3zM75.8 73.13h1.3v1.3h-1.3zM72.66 70.51h1.3v1.3h-1.3zM69.83 69.49h1.3v1.3h-1.3zM78.11 82.89h1.3v1.3h-1.3zM85.19 79.69h1.3v1.3h-1.3zM69.3 80.52h1.3v1.3h-1.3zM68.82 80.2h1.3v1.3h-1.3zM80.42 67.32h1.3v1.3h-1.3zM78.86 70.09h1.3v1.3h-1.3zM82.7 72.82h1.3v1.3h-1.3zM74.25 80.62h1.3v1.3h-1.3zM70.51 75.91h1.3v1.3h-1.3zM71.24 72.34h1.3v1.3h-1.3zM73.14 75.33h1.3v1.3h-1.3zM77.23 74.45h1.3v1.3h-1.3zM70.5 80.56h1.3v1.3h-1.3zM79.99 81.15h1.3v1.3h-1.3zM79.65 67.81h1.3v1.3h-1.3zM74.34 67.88h1.3v1.3h-1.3zM78.53 68.24h1.3v1.3h-1.3zM76.85 72.09h1.3v1.3h-1.3zM79.87 81.38h1.3v1.3h-1.3zM76.69 75.3h1.3v1.3h-1.3zM75.68 73.86h1.3v1.3h-1.3zM84.51 71.27h1.3v1.3h-1.3zM82.49 82.02h1.3v1.3h-1.3zM80.28 74.46h1.3v1.3h-1.3zM85.12 83.32h1.3v1.3h-1.3zM70.75 67.59h1.3v1.3h-1.3zM74.04 73h1.3v1.3h-1.3zM78.1 78.42h1.3v1.3h-1.3zM75.22 75.64h1.3v1.3h-1.3zM86.12 76.15h1.3v1.3h-1.3zM82.04 79.88h1.3v1.3h-1.3zM80.45 74.88h1.3v1.3h-1.3zM81.09 69.57h1.3v1.3h-1.3zM69.44 67.77h1.3v1.3h-1.3zM78.45 80.51h1.3v1.3h-1.3zM75.69 82.54h1.3v1.3h-1.3zM71.66 70.42h1.3v1.3h-1.3zM80.44 69.84h1.3v1.3h-1.3zM70.6 82.42h1.3v1.3h-1.3zM74.16 76.8h1.3v1.3h-1.3zM80.44 79.95h1.3v1.3h-1.3zM80.97 75.25h1.3v1.3h-1.3zM72.6 71.41h1.3v1.3h-1.3zM69.37 75.1h1.3v1.3h-1.3zM70.98 83.06h1.3v1.3h-1.3zM75.95 76.38h1.3v1.3h-1.3zM78.5 78.78h1.3v1.3h-1.3zM84.94 71.48h1.3v1.3h-1.3zM70.48 83.31h1.3v1.3h-1.3zM85.59 78.21h1.3v1.3h-1.3zM69.78 81.61h1.3v1.3h-1.3zM80.22 81.62h1.3v1.3h-1.3zM74.05 73.54h1.3v1.3h-1.3zM73.69 73.98h1.3v1.3h-1.3zM85.33 71.31h1.3v1.3h-1.3zM78.8 74.49h1.3v1.3h-1.3zM72.96 74.22h1.3v1.3h-1.3zM79.21 75.19h1.3v1.3h-1.3zM76.18 72.12h1.3v1.3h-1.3zM71.24 72.85h1.3v1.3h-1.3zM85.98 83.11h1.3v1.3h-1.3zM72 67.38h1.3v1.3h-1.3zM69.48 70.81h1.3v1.3h-1.3zM77.89 82.82h1.3v1.3h-1.3zM78.83 83.3h1.3v1.3h-1.3zM83.26 79.89h1.3v1.3h-1.3zM84.82 69.2h1.3v1.3h-1.3zM70.22 78.34h1.3v1.3h-1.3z" fill="#f01010"/>
<path d="M75.17 48.88h1.3v1.3h-1.3zM70.78 77.81h1.3v1.3h-1.3zM78.61 50.36h1.3v1.3h-1.3zM68.7 61.25h1.3v1.3h-1.3zM76.71 72.82h1.3v1.3h-1.3zM82.68 51.88h1.3v1.3h-1.3zM72.75 59.39h1.3v1.3h-1.3zM71.88 69.09h1.3v1.3h-1.3zM74.53 41.09h1.3v1.3h-1.3zM74.36 35.05h1.3v1.3h-1.3zM71.46 61.61h1.3v1.3h-1.3zM70.15 73.3h1.3v1.3h-1.3zM73.73 64.03h1.3v1.3h-1.3zM70.9 70.28h1.3v1.3h-1.3zM70.67 33.03h1.3v1.3h-1.3zM74.48 60.06h1.3v1.3h-1.3zM74.42 61.93h1.3v1.3h-1.3zM75.43 82.95h1.3v1.3h-1.3zM73.11 40.04h1.3v1.3h-1.3zM75.57 63.88h1.3v1.3h-1.3zM68.74 28.18h1.3v1.3h-1.3zM69.83 68.72h1.3v1.3h-1.3zM77.61 49.79h1.3v1.3h-1.3zM71.53 78.04h1.3v1.3h-1.3zM72.51 81.4h1.3v1.3h-1.3zM79.84 21.31h1.3v1.3h-1.3zM71.57 42.81h1.3v1.3h-1.3zM80.4 60.94h1.3v1.3h-1.3zM69.39 81.17h1.3v1.3h-1.3zM72.4 27.36h1.3v1.3h-1.3zM75.74 75.22h1.3v1.3h-1.3zM73.56 70.28h1.3v1.3h-1.3zM72.44 42.27h1.3v1.3h-1.3zM91.02 51.4h1.3v1.3h-1.3zM76.89 44.45h1.3v1.3h-1.3zM69.78 67.46h1.3v1.3h-1.3zM72.03 53h1.3v1.3h-1.3zM77.33 79.84h1.3v1.3h-1.3zM70.12 67.72h1.3v1.3h-1.3zM74.12 70.8h1.3v1.3h-1.3zM83.24 41.1h1.3v1.3h-1.3zM78.77 80.78h1.3v1.3h-1.3zM70.64 71.3h1.3v1.3h-1.3zM74.96 42.2h1.3v1.3h-1.3zM70.83 28.8h1.3v1.3h-1.3zM73.45 33.11h1.3v1.3h-1.3zM71.76 58.9h1.3v1.3h-1.3zM71.24 73.06h1.3v1.3h-1.3zM75 79.96h1.3v1.3h-1.3zM73.2 79.25h1.3v1.3h-1.3zM70.81 62.86h1.3v1.3h-1.3zM70.83 77.2h1.3v1.3h-1.3zM80.13 58.68h1.3v1.3h-1.3zM73.28 74.91h1.3v1.3h-1.3zM71.84 83.12h1.3v1.3h-1.3zM69.41 79.81h1.3v1.3h-1.3zM81.07 64.87h1.3v1.3h-1.3zM69.71 63.25h1.3v1.3h-1.3zM69.4 73.74h1.3v1.3h-1.3zM78.56 79.31h1.3v1.3h-1.3zM75.66 67.22h1.3v1.3h-1.3zM74.25 56.55h1.3v1.3h-1.3zM73.03 61.24h1.3v1.3h-1.3zM69.97 48.76h1.3v1.3h-1.3zM69.3 75.18h1.3v1.3h-1.3zM69.01 59.07h1.3v1.3h-1.3zM74.02 82.6h1.3v1.3h-1.3zM71.43 67.23h1.3v1.3h-1.3zM73.82 70.22h1.3v1.3h-1.3zM69.07 73.38h1.3v1.3h-1.3zM71.9 70.89h1.3v1.3h-1.3zM73.81 65.88h1.3v1.3h-1.3zM84.73 61.13h1.3v1.3h-1.3zM79.92 74.45h1.3v1.3h-1.3zM68.96 61.1h1.3v1.3h-1.3zM73.84 82.71h1.3v1.3h-1.3zM71.28 69.16h1.3v1.3h-1.3zM69.21 41.79h1.3v1.3h-1.3zM74.47 66.9h1.3v1.3h-1.3zM77.81 77.22h1.3v1.3h-1.3zM69.17 78.4h1.3v1.3h-1.3zM72.78 60.12h1.3v1.3h-1.3zM77.96 30.49h1.3v1.3h-1.3zM68.85 60.12h1.3v1.3h-1.3zM75.79 79.21h1.3v1.3h-1.3zM74.71 74.37h1.3v1.3h-1.3zM75.87 64.43h1.3v1.3h-1.3zM68.93 40.99h1.3v1.3h-1.3zM74.15 79.61h1.3v1.3h-1.3zM71.99 59.14h1.3v1.3h-1.3zM73.34 73.08h1.3v1.3h-1.3zM75.4 74.72h1.3v1.3h-1.3zM82.15 51.12h1.3v1.3h-1.3zM70.86 71.51h1.3v1.3h-1.3zM68.88 66.51h1.3v1.3h-1.3zM75.34 57.77h1.3v1.3h-1.3zM76.39 79.29h1.3v1.3h-1.3zM77.52 66.75h1.3v1.3h-1.3zM71.75 61.03h1.3v1.3h-1.3zM72.91 71.34h1.3v1.3h-1.3zM77.85 73.29h1.3v1.3h-1.3zM76.32 73.63h1.3v1.3h-1.3zM72.92 83.1h1.3v1.3h-1.3zM68.68 36.71h1.3v1.3h-1.3zM71.18 70.06h1.3v1.3h-1.3zM70.37 53.7h1.3v1.3h-1.3zM73.67 69.52h1.3v1.3h-1.3zM70.68 67.64h1.3v1.3h-1.3zM77.79 82.36h1.3v1.3h-1.3zM76.29 65.58h1.3v1.3h-1.3zM75.27 18.5h1.3v1.3h-1.3zM71.92 78.29h1.3v1.3h-1.3zM70.66 61.62h1.3v1.3h-1.3zM79.21 50.48h1.3v1.3h-1.3zM78.61 59.39h1.3v1.3h-1.3zM80.87 31.04h1.3v1.3h-1.3zM78.17 70.47h1.3v1.3h-1.3zM76.31 42.79h1.3v1.3h-1.3zM72.16 66.58h1.3v1.3h-1.3zM70.82 53.01h1.3v1.3h-1.3zM73.95 70.86h1.3v1.3h-1.3zM77.05 46.02h1.3v1.3h-1.3zM71.84 54.78h1.3v1.3h-1.3zM70.09 67.81h1.3v1.3h-1.3zM69.84 71.13h1.3v1.3h-1.3zM76.42 63.36h1.3v1.3h-1.3zM69.34 67.31h1.3v1.3h-1.3zM74.73 66.95h1.3v1.3h-1.3zM69.6 72.61h1.3v1.3h-1.3zM73.68 64.65h1.3v1.3h-1.3z" fill="#f01010"/>
</g>
<line x1="60.65" y1="11.3" x2="60.65" y2="93.3" stroke="#aaa" stroke-width="0.6" stroke-dasharray="1 1"/>
<line x1="69.15" y1="11.3" x2="69.15" y2="93.3" stroke="#aaa" stroke-width="0.6" stroke-dasharray="1 1"/>
<line x1="20.6" y1="83.97" x2="108.4" y2="83.97" stroke="#999" stroke-width="0.6" stroke-dasharray="1 1"/>
<rect x="20.6" y="11.3" width="87.8" height="82" fill="none" stroke="#333" stroke-width="0.9"/>
<line x1="18.6" y1="92.1" x2="20.6" y2="92.1" stroke="#333" stroke-width="0.8"/>
<text x="19" y="92.1" font-size="7.2" text-anchor="end" dominant-baseline="central" fill="#222" stroke="#222" stroke-width="0.12">0</text>
<line x1="18.6" y1="79.6" x2="20.6" y2="79.6" stroke="#333" stroke-width="0.8"/>
<text x="19" y="79.6" font-size="7.2" text-anchor="end" dominant-baseline="central" fill="#222" stroke="#222" stroke-width="0.12">2</text>
<line x1="18.6" y1="67.1" x2="20.6" y2="67.1" stroke="#333" stroke-width="0.8"/>
<text x="19" y="67.1" font-size="7.2" text-anchor="end" dominant-baseline="central" fill="#222" stroke="#222" stroke-width="0.12">4</text>
<line x1="18.6" y1="54.6" x2="20.6" y2="54.6" stroke="#333" stroke-width="0.8"/>
<text x="19" y="54.6" font-size="7.2" text-anchor="end" dominant-baseline="central" fill="#222" stroke="#222" stroke-width="0.12">6</text>
<line x1="18.6" y1="42.1" x2="20.6" y2="42.1" stroke="#333" stroke-width="0.8"/>
<text x="19" y="42.1" font-size="7.2" text-anchor="end" dominant-baseline="central" fill="#222" stroke="#222" stroke-width="0.12">8</text>
<line x1="18.6" y1="29.6" x2="20.6" y2="29.6" stroke="#333" stroke-width="0.8"/>
<text x="19" y="29.6" font-size="7.2" text-anchor="end" dominant-baseline="central" fill="#222" stroke="#222" stroke-width="0.12">10</text>
<line x1="18.6" y1="17.1" x2="20.6" y2="17.1" stroke="#333" stroke-width="0.8"/>
<text x="19" y="17.1" font-size="7.2" text-anchor="end" dominant-baseline="central" fill="#222" stroke="#222" stroke-width="0.12">12</text>
<line x1="22.4" y1="93.3" x2="22.4" y2="95.3" stroke="#333" stroke-width="0.8"/>
<text x="22.4" y="99.6" font-size="7.2" text-anchor="middle" dominant-baseline="central" fill="#222" stroke="#222" stroke-width="0.12">-10</text>
<line x1="39.4" y1="93.3" x2="39.4" y2="95.3" stroke="#333" stroke-width="0.8"/>
<text x="39.4" y="99.6" font-size="7.2" text-anchor="middle" dominant-baseline="central" fill="#222" stroke="#222" stroke-width="0.12">-6</text>
<line x1="56.4" y1="93.3" x2="56.4" y2="95.3" stroke="#333" stroke-width="0.8"/>
<text x="56.4" y="99.6" font-size="7.2" text-anchor="middle" dominant-baseline="central" fill="#222" stroke="#222" stroke-width="0.12">-2</text>
<line x1="64.9" y1="93.3" x2="64.9" y2="95.3" stroke="#333" stroke-width="0.8"/>
<text x="64.9" y="99.6" font-size="7.2" text-anchor="middle" dominant-baseline="central" fill="#222" stroke="#222" stroke-width="0.12">0</text>
<line x1="73.4" y1="93.3" x2="73.4" y2="95.3" stroke="#333" stroke-width="0.8"/>
<text x="73.4" y="99.6" font-size="7.2" text-anchor="middle" dominant-baseline="central" fill="#222" stroke="#222" stroke-width="0.12">2</text>
<line x1="90.4" y1="93.3" x2="90.4" y2="95.3" stroke="#333" stroke-width="0.8"/>
<text x="90.4" y="99.6" font-size="7.2" text-anchor="middle" dominant-baseline="central" fill="#222" stroke="#222" stroke-width="0.12">6</text>
<line x1="107.4" y1="93.3" x2="107.4" y2="95.3" stroke="#333" stroke-width="0.8"/>
<text x="107.4" y="99.6" font-size="7.2" text-anchor="middle" dominant-baseline="central" fill="#222" stroke="#222" stroke-width="0.12">10</text>
<text x="66" y="109" font-size="7.2" text-anchor="middle" dominant-baseline="central" fill="#222" stroke="#222" stroke-width="0.12">log<tspan font-size="4.8" dy="2">2</tspan><tspan dy="-2">(fold change)</tspan></text>
<text x="3.6" y="48.6" font-size="7.2" text-anchor="middle" dominant-baseline="central" fill="#222" stroke="#222" stroke-width="0.12" transform="rotate(-90 3.6 48.6)">-log<tspan font-size="4.8" dy="2">10</tspan><tspan dy="-2">(p-value)</tspan></text>
<text x="23" y="15.8" font-size="7.2" text-anchor="start" dominant-baseline="central" fill="#222" stroke="#222" stroke-width="0.12">p &lt; 0.05</text>
<text x="23" y="24.5" font-size="7.2" dominant-baseline="central" fill="#222" stroke="#222" stroke-width="0.12">|log<tspan font-size="4.8" dy="2">2</tspan><tspan dy="-2">FC| &gt; 1</tspan></text>
<text x="23" y="33.2" font-size="7.2" text-anchor="start" dominant-baseline="central" fill="#222" stroke="#222" stroke-width="0.12">sig up: 849</text>
<text x="23" y="41.9" font-size="7.2" text-anchor="start" dominant-baseline="central" fill="#222" stroke="#222" stroke-width="0.12">sig down: 222</text>
<text x="0.9" y="7.4" font-size="12" text-anchor="start" dominant-baseline="alphabetic" fill="#000" font-weight="bold">a</text>
</g>
<g>
<clipPath id="cpb"><rect x="19.8" y="120.3" width="88" height="88.3"/></clipPath>
<g clip-path="url(#cpb)">
<path d="M37.97 199.53 L60.06 199.53 L60.06 196.1 C61.45 200.3 63.63 199.53 64.28 201.06 L64.72 201.06 C65.37 199.53 67.55 200.3 68.94 196.1 L68.94 199.53 L91.03 199.53 C84.4 202.76 75.11 205.26 64.5 205.26 C53.89 205.26 44.6 202.76 37.97 199.53 Z" fill="#a3a3a3"/>
<path d="M62.32 203.45h1.3v1.3h-1.3zM65.16 203.68h1.3v1.3h-1.3zM64.16 203.65h1.3v1.3h-1.3zM60 200.46h1.3v1.3h-1.3zM59.83 200.87h1.3v1.3h-1.3zM60.11 203.26h1.3v1.3h-1.3zM63.19 202.91h1.3v1.3h-1.3zM60.58 202.58h1.3v1.3h-1.3zM64.96 202.02h1.3v1.3h-1.3zM64.52 203.39h1.3v1.3h-1.3zM67.99 203.53h1.3v1.3h-1.3zM66.97 202.28h1.3v1.3h-1.3zM60.76 203.22h1.3v1.3h-1.3zM62.18 201.49h1.3v1.3h-1.3zM61.07 201.04h1.3v1.3h-1.3zM65.06 203.07h1.3v1.3h-1.3zM64.27 203.8h1.3v1.3h-1.3zM60.02 202.48h1.3v1.3h-1.3zM65.42 202.68h1.3v1.3h-1.3zM62.23 202.2h1.3v1.3h-1.3zM63.44 203.64h1.3v1.3h-1.3zM66.41 200.74h1.3v1.3h-1.3zM61.62 201.63h1.3v1.3h-1.3zM64.07 203.52h1.3v1.3h-1.3zM65.85 202.85h1.3v1.3h-1.3zM68.03 203.04h1.3v1.3h-1.3zM63.14 202.91h1.3v1.3h-1.3zM60.82 201.28h1.3v1.3h-1.3zM59.84 199.26h1.3v1.3h-1.3zM66.15 201.56h1.3v1.3h-1.3zM67.12 202.07h1.3v1.3h-1.3zM65.55 202.09h1.3v1.3h-1.3zM64.55 203.3h1.3v1.3h-1.3zM66.81 198.99h1.3v1.3h-1.3zM63.62 203.59h1.3v1.3h-1.3zM60.03 199.19h1.3v1.3h-1.3zM65.13 201.64h1.3v1.3h-1.3zM66.65 202.46h1.3v1.3h-1.3zM62.86 202.69h1.3v1.3h-1.3zM59.7 200.68h1.3v1.3h-1.3zM60.96 203.26h1.3v1.3h-1.3zM60.01 198.72h1.3v1.3h-1.3zM60.63 202.46h1.3v1.3h-1.3zM62.9 202.41h1.3v1.3h-1.3zM60.2 201h1.3v1.3h-1.3zM64.28 203.19h1.3v1.3h-1.3zM66.63 199.68h1.3v1.3h-1.3zM61.92 202.46h1.3v1.3h-1.3zM62.62 201.96h1.3v1.3h-1.3zM67.83 202.81h1.3v1.3h-1.3zM61.03 202.71h1.3v1.3h-1.3zM61.53 201.89h1.3v1.3h-1.3zM64.63 203.5h1.3v1.3h-1.3zM59.54 200.97h1.3v1.3h-1.3zM62.71 202.73h1.3v1.3h-1.3zM67.79 199.12h1.3v1.3h-1.3zM63.98 203.71h1.3v1.3h-1.3zM65.38 203.71h1.3v1.3h-1.3zM67.33 199.14h1.3v1.3h-1.3zM67.11 199.33h1.3v1.3h-1.3z" fill="#a3a3a3"/>
<path d="M53.13 196.37h1.3v1.3h-1.3zM58.21 193.08h1.3v1.3h-1.3zM58.8 198.63h1.3v1.3h-1.3zM56.51 198.07h1.3v1.3h-1.3zM54.14 198.73h1.3v1.3h-1.3zM59.5 198.07h1.3v1.3h-1.3zM58.24 196.22h1.3v1.3h-1.3zM59.26 189.46h1.3v1.3h-1.3zM48.6 198.37h1.3v1.3h-1.3zM55.75 196.59h1.3v1.3h-1.3zM53.68 198.39h1.3v1.3h-1.3zM43.42 193.41h1.3v1.3h-1.3zM51.67 195.78h1.3v1.3h-1.3zM58.47 198.43h1.3v1.3h-1.3zM54.09 197.41h1.3v1.3h-1.3zM43.87 198.44h1.3v1.3h-1.3zM59.29 188.28h1.3v1.3h-1.3zM50.4 198.33h1.3v1.3h-1.3zM50.09 198.83h1.3v1.3h-1.3zM50.4 191.02h1.3v1.3h-1.3zM43.09 195.63h1.3v1.3h-1.3zM55.59 196.42h1.3v1.3h-1.3zM57.21 191.49h1.3v1.3h-1.3zM50.31 193.19h1.3v1.3h-1.3zM54.33 197.71h1.3v1.3h-1.3zM44.26 193.17h1.3v1.3h-1.3zM43.33 194.82h1.3v1.3h-1.3zM44.11 195.09h1.3v1.3h-1.3zM56.2 194.81h1.3v1.3h-1.3zM53.84 198.82h1.3v1.3h-1.3zM59.23 196.98h1.3v1.3h-1.3zM55.63 192.89h1.3v1.3h-1.3zM40.94 197.39h1.3v1.3h-1.3zM41.39 194.18h1.3v1.3h-1.3zM40.98 197.76h1.3v1.3h-1.3zM56.31 197.6h1.3v1.3h-1.3zM56.72 197.75h1.3v1.3h-1.3zM48.38 192.53h1.3v1.3h-1.3zM43.61 196.88h1.3v1.3h-1.3zM47.76 193.67h1.3v1.3h-1.3zM58.49 192.68h1.3v1.3h-1.3zM42.02 195.33h1.3v1.3h-1.3zM45.64 196.63h1.3v1.3h-1.3zM57.02 191.31h1.3v1.3h-1.3zM54.28 191.9h1.3v1.3h-1.3zM40.59 197.66h1.3v1.3h-1.3zM52.95 190.5h1.3v1.3h-1.3zM46.2 198.34h1.3v1.3h-1.3zM57.85 198.11h1.3v1.3h-1.3zM42.14 195.14h1.3v1.3h-1.3zM57.55 190.66h1.3v1.3h-1.3zM40.39 196.43h1.3v1.3h-1.3zM53.94 194.82h1.3v1.3h-1.3zM57.79 198.86h1.3v1.3h-1.3zM40.61 196.43h1.3v1.3h-1.3zM50.43 191.51h1.3v1.3h-1.3zM52.31 191.61h1.3v1.3h-1.3zM43.93 198.24h1.3v1.3h-1.3zM55.76 197.08h1.3v1.3h-1.3zM55.96 194.07h1.3v1.3h-1.3zM55.62 195.92h1.3v1.3h-1.3zM57.79 189.39h1.3v1.3h-1.3zM53.87 195.74h1.3v1.3h-1.3zM49.25 192.21h1.3v1.3h-1.3zM52.58 190.99h1.3v1.3h-1.3zM50.95 195.45h1.3v1.3h-1.3zM50.5 198.85h1.3v1.3h-1.3zM52.19 198.07h1.3v1.3h-1.3zM59.47 190.52h1.3v1.3h-1.3zM57.13 195.17h1.3v1.3h-1.3zM46.19 196h1.3v1.3h-1.3zM54.4 195.07h1.3v1.3h-1.3zM49.83 193.27h1.3v1.3h-1.3zM58.17 194.01h1.3v1.3h-1.3zM55.82 197.21h1.3v1.3h-1.3zM45.14 196.5h1.3v1.3h-1.3zM49.7 193.54h1.3v1.3h-1.3zM41.96 197.29h1.3v1.3h-1.3zM48.63 196.02h1.3v1.3h-1.3zM50.73 193.96h1.3v1.3h-1.3zM51.94 195.29h1.3v1.3h-1.3zM51.43 191.09h1.3v1.3h-1.3zM46.76 193.26h1.3v1.3h-1.3zM41.28 198.17h1.3v1.3h-1.3zM49.75 191.64h1.3v1.3h-1.3zM43.62 198.54h1.3v1.3h-1.3zM57.94 195.41h1.3v1.3h-1.3zM58.66 197.37h1.3v1.3h-1.3zM58.65 192.53h1.3v1.3h-1.3zM44.88 193.67h1.3v1.3h-1.3zM57.42 192.18h1.3v1.3h-1.3zM47.61 198.42h1.3v1.3h-1.3zM42.64 193.88h1.3v1.3h-1.3zM56.33 189.27h1.3v1.3h-1.3zM53.02 195.57h1.3v1.3h-1.3zM40.16 195.54h1.3v1.3h-1.3zM57.31 195.6h1.3v1.3h-1.3zM50.66 197.08h1.3v1.3h-1.3zM56.73 196.78h1.3v1.3h-1.3zM46.25 198.86h1.3v1.3h-1.3zM49.86 196.38h1.3v1.3h-1.3zM59.34 196.45h1.3v1.3h-1.3zM48.39 196h1.3v1.3h-1.3zM58.77 187.93h1.3v1.3h-1.3zM44.78 193.09h1.3v1.3h-1.3zM58.19 197.17h1.3v1.3h-1.3zM59.09 190.91h1.3v1.3h-1.3zM55.42 198.31h1.3v1.3h-1.3zM52.54 191.07h1.3v1.3h-1.3zM44.1 198.01h1.3v1.3h-1.3zM57.5 189.35h1.3v1.3h-1.3zM49.52 194.16h1.3v1.3h-1.3zM58.42 198.68h1.3v1.3h-1.3zM47 196.81h1.3v1.3h-1.3zM58.66 188.68h1.3v1.3h-1.3zM48.16 193.54h1.3v1.3h-1.3zM58.5 189.96h1.3v1.3h-1.3zM58.74 189.79h1.3v1.3h-1.3zM51.92 196.98h1.3v1.3h-1.3zM49.88 191.77h1.3v1.3h-1.3zM55.47 198.32h1.3v1.3h-1.3zM50.43 197.79h1.3v1.3h-1.3zM58.12 198.03h1.3v1.3h-1.3zM58.96 197.69h1.3v1.3h-1.3zM54.66 197.05h1.3v1.3h-1.3z" fill="#1212ee"/>
<path d="M58.88 194.15h1.3v1.3h-1.3zM52.61 198.88h1.3v1.3h-1.3zM58.22 197.98h1.3v1.3h-1.3zM59.41 197.88h1.3v1.3h-1.3zM57.95 191.67h1.3v1.3h-1.3zM54.83 192.85h1.3v1.3h-1.3zM54.69 197.8h1.3v1.3h-1.3zM54.56 193.35h1.3v1.3h-1.3zM38.79 198.54h1.3v1.3h-1.3zM49.29 194.64h1.3v1.3h-1.3zM48.11 189.84h1.3v1.3h-1.3zM55.26 191.04h1.3v1.3h-1.3zM51.11 195.9h1.3v1.3h-1.3zM54.01 197.87h1.3v1.3h-1.3zM43.28 194.84h1.3v1.3h-1.3zM59.18 195.47h1.3v1.3h-1.3zM41.42 193.32h1.3v1.3h-1.3zM48.28 192.68h1.3v1.3h-1.3z" fill="#1212ee"/>
<path d="M57.33 166.8h1.3v1.3h-1.3z" fill="#1212ee"/>
<path d="M71.64 197.59h1.3v1.3h-1.3zM71.82 194.25h1.3v1.3h-1.3zM69.86 194.21h1.3v1.3h-1.3zM71.36 178.22h1.3v1.3h-1.3zM85.07 195.44h1.3v1.3h-1.3zM71.07 177.85h1.3v1.3h-1.3zM72.08 196.12h1.3v1.3h-1.3zM68.29 195.28h1.3v1.3h-1.3zM74.89 193.94h1.3v1.3h-1.3zM70.45 193.01h1.3v1.3h-1.3zM68.3 197.16h1.3v1.3h-1.3zM69.04 195.03h1.3v1.3h-1.3zM68.57 198.87h1.3v1.3h-1.3zM71.99 197.7h1.3v1.3h-1.3zM76.96 193.87h1.3v1.3h-1.3zM80.27 192.27h1.3v1.3h-1.3zM79.56 186.63h1.3v1.3h-1.3zM73.39 196.68h1.3v1.3h-1.3zM85.34 198.63h1.3v1.3h-1.3zM79.72 192.38h1.3v1.3h-1.3zM68.59 181.77h1.3v1.3h-1.3zM83.28 193.8h1.3v1.3h-1.3zM79.92 188.62h1.3v1.3h-1.3zM69.63 192.38h1.3v1.3h-1.3zM75.43 185.56h1.3v1.3h-1.3zM81.4 189.05h1.3v1.3h-1.3zM76.94 184.59h1.3v1.3h-1.3zM78.88 191.01h1.3v1.3h-1.3zM70.86 198.86h1.3v1.3h-1.3zM69.55 195.79h1.3v1.3h-1.3zM69.22 182.1h1.3v1.3h-1.3zM76.45 191.67h1.3v1.3h-1.3zM77.76 190.88h1.3v1.3h-1.3zM75.16 198.88h1.3v1.3h-1.3zM81.26 190.76h1.3v1.3h-1.3zM75.41 193.4h1.3v1.3h-1.3zM78.41 198.81h1.3v1.3h-1.3zM79.98 197.9h1.3v1.3h-1.3zM68.88 197.17h1.3v1.3h-1.3zM79.83 198.23h1.3v1.3h-1.3zM80.05 184.16h1.3v1.3h-1.3zM75.24 196.06h1.3v1.3h-1.3zM74.97 189.78h1.3v1.3h-1.3zM80.61 193.17h1.3v1.3h-1.3zM78.08 198.78h1.3v1.3h-1.3zM69.73 197.36h1.3v1.3h-1.3zM80.12 197.46h1.3v1.3h-1.3zM76.62 198.88h1.3v1.3h-1.3zM68.74 197.12h1.3v1.3h-1.3zM78.67 190.95h1.3v1.3h-1.3zM78.74 197.49h1.3v1.3h-1.3zM75.66 194.8h1.3v1.3h-1.3zM74.74 198.61h1.3v1.3h-1.3zM83.32 198.37h1.3v1.3h-1.3zM85.19 188.89h1.3v1.3h-1.3zM68.38 193.68h1.3v1.3h-1.3zM81.73 185.63h1.3v1.3h-1.3zM74.44 197.45h1.3v1.3h-1.3zM70.57 178.36h1.3v1.3h-1.3zM70.58 191.13h1.3v1.3h-1.3zM69.66 192.38h1.3v1.3h-1.3zM84.63 198.68h1.3v1.3h-1.3zM81.73 195.23h1.3v1.3h-1.3zM83.17 192.45h1.3v1.3h-1.3zM70.88 180.58h1.3v1.3h-1.3zM75.1 198.87h1.3v1.3h-1.3zM68.3 192.9h1.3v1.3h-1.3zM74.46 197.07h1.3v1.3h-1.3zM69.65 196.08h1.3v1.3h-1.3zM72.18 183.58h1.3v1.3h-1.3zM68.29 184.93h1.3v1.3h-1.3zM82.14 198.68h1.3v1.3h-1.3zM84.04 192.63h1.3v1.3h-1.3zM83.49 197.81h1.3v1.3h-1.3zM73.1 195.65h1.3v1.3h-1.3zM85.66 195.05h1.3v1.3h-1.3zM72.91 195.02h1.3v1.3h-1.3zM71.54 198.83h1.3v1.3h-1.3zM69.18 182.12h1.3v1.3h-1.3zM71.7 179.57h1.3v1.3h-1.3zM71.15 197.3h1.3v1.3h-1.3zM75.56 198.2h1.3v1.3h-1.3zM73.12 179.74h1.3v1.3h-1.3zM83.12 190.29h1.3v1.3h-1.3zM77.85 184.53h1.3v1.3h-1.3zM84.36 195.25h1.3v1.3h-1.3zM79.63 198.85h1.3v1.3h-1.3zM79.89 195.72h1.3v1.3h-1.3zM80.31 192.55h1.3v1.3h-1.3zM71.71 198.83h1.3v1.3h-1.3zM84.05 198.68h1.3v1.3h-1.3zM74.85 196.57h1.3v1.3h-1.3zM71.89 186.92h1.3v1.3h-1.3zM85.15 198.11h1.3v1.3h-1.3zM78.35 197.36h1.3v1.3h-1.3zM76.42 196.03h1.3v1.3h-1.3zM69.99 198.27h1.3v1.3h-1.3zM70.54 180.03h1.3v1.3h-1.3zM75.3 197.95h1.3v1.3h-1.3zM83.6 186.31h1.3v1.3h-1.3zM74.45 198.5h1.3v1.3h-1.3zM70.33 198.69h1.3v1.3h-1.3zM72.6 198.71h1.3v1.3h-1.3zM71 197.37h1.3v1.3h-1.3zM76.66 184.6h1.3v1.3h-1.3zM80.25 196.28h1.3v1.3h-1.3zM73.81 193.28h1.3v1.3h-1.3zM73.18 196.49h1.3v1.3h-1.3zM68.76 197.01h1.3v1.3h-1.3zM84.96 198.7h1.3v1.3h-1.3zM75.42 191.3h1.3v1.3h-1.3zM82.65 198.26h1.3v1.3h-1.3zM71.47 197.51h1.3v1.3h-1.3zM73.57 194.79h1.3v1.3h-1.3zM84.65 190.37h1.3v1.3h-1.3zM82.87 198.88h1.3v1.3h-1.3zM68.49 186.5h1.3v1.3h-1.3zM83.37 196.01h1.3v1.3h-1.3zM77 198.88h1.3v1.3h-1.3zM73.43 181.1h1.3v1.3h-1.3zM81.85 188.61h1.3v1.3h-1.3zM85.06 198.17h1.3v1.3h-1.3zM69.26 198.31h1.3v1.3h-1.3zM75.77 190.11h1.3v1.3h-1.3zM84.38 192.61h1.3v1.3h-1.3zM78.17 188.97h1.3v1.3h-1.3zM74.58 192.87h1.3v1.3h-1.3zM68.55 183.86h1.3v1.3h-1.3zM70.9 179.68h1.3v1.3h-1.3zM78.14 197.32h1.3v1.3h-1.3zM69.49 197.37h1.3v1.3h-1.3zM77.95 190.53h1.3v1.3h-1.3zM69.3 198.77h1.3v1.3h-1.3zM75.81 192.49h1.3v1.3h-1.3zM73.37 197.85h1.3v1.3h-1.3zM77.26 198.88h1.3v1.3h-1.3zM71.95 194.24h1.3v1.3h-1.3zM84.76 194.01h1.3v1.3h-1.3zM83.11 195.94h1.3v1.3h-1.3zM70.93 197.5h1.3v1.3h-1.3zM84.8 193.07h1.3v1.3h-1.3zM72.04 198.87h1.3v1.3h-1.3zM75.32 190.15h1.3v1.3h-1.3zM73.92 197.54h1.3v1.3h-1.3zM78.57 184.65h1.3v1.3h-1.3zM70.82 198.86h1.3v1.3h-1.3zM72.54 195.1h1.3v1.3h-1.3zM78.88 198.24h1.3v1.3h-1.3zM81.24 190.95h1.3v1.3h-1.3zM75.44 198.08h1.3v1.3h-1.3zM85.01 197.76h1.3v1.3h-1.3zM81.73 198.13h1.3v1.3h-1.3zM70.74 185.68h1.3v1.3h-1.3zM71.84 178.99h1.3v1.3h-1.3zM75.28 198.21h1.3v1.3h-1.3zM70.77 194.92h1.3v1.3h-1.3zM78.53 183.88h1.3v1.3h-1.3zM69.72 195.23h1.3v1.3h-1.3zM70.62 177.14h1.3v1.3h-1.3zM69.66 198.82h1.3v1.3h-1.3zM68.74 195.11h1.3v1.3h-1.3zM83.42 188.89h1.3v1.3h-1.3zM79.9 183.38h1.3v1.3h-1.3zM84.16 197.56h1.3v1.3h-1.3zM70.23 178.54h1.3v1.3h-1.3zM80.18 198.87h1.3v1.3h-1.3zM78.51 196.49h1.3v1.3h-1.3zM73.13 196.58h1.3v1.3h-1.3zM70.02 198.88h1.3v1.3h-1.3zM71.61 196.15h1.3v1.3h-1.3zM84.69 198.7h1.3v1.3h-1.3zM84.88 198.38h1.3v1.3h-1.3zM72.84 184.6h1.3v1.3h-1.3zM81.77 196.25h1.3v1.3h-1.3zM68.63 193.39h1.3v1.3h-1.3zM73.11 181.17h1.3v1.3h-1.3zM70.34 195.81h1.3v1.3h-1.3zM83.39 198.87h1.3v1.3h-1.3zM73.76 185.42h1.3v1.3h-1.3zM80.6 198.86h1.3v1.3h-1.3zM68.51 198.79h1.3v1.3h-1.3zM83.9 198.06h1.3v1.3h-1.3zM80.2 186.49h1.3v1.3h-1.3zM72.55 197.3h1.3v1.3h-1.3zM84.74 194.41h1.3v1.3h-1.3zM71.34 187.41h1.3v1.3h-1.3zM72.19 197.24h1.3v1.3h-1.3zM68.3 184.75h1.3v1.3h-1.3zM83.82 193.87h1.3v1.3h-1.3zM84.41 198.88h1.3v1.3h-1.3zM70.92 193.76h1.3v1.3h-1.3zM84.72 188.17h1.3v1.3h-1.3zM73.34 197.58h1.3v1.3h-1.3zM74.09 193.97h1.3v1.3h-1.3zM84.08 198.47h1.3v1.3h-1.3zM81.36 191.01h1.3v1.3h-1.3zM81.79 190.47h1.3v1.3h-1.3zM77.38 197h1.3v1.3h-1.3zM72.24 196.05h1.3v1.3h-1.3zM80.93 198.79h1.3v1.3h-1.3zM70.4 185.79h1.3v1.3h-1.3zM71.12 198.79h1.3v1.3h-1.3zM68.5 191.37h1.3v1.3h-1.3zM72.34 178.17h1.3v1.3h-1.3zM83.1 186.15h1.3v1.3h-1.3zM71.38 198.73h1.3v1.3h-1.3zM69.12 192.89h1.3v1.3h-1.3zM79.43 195.7h1.3v1.3h-1.3zM70.92 194.94h1.3v1.3h-1.3zM77.64 190.99h1.3v1.3h-1.3zM80.22 187.88h1.3v1.3h-1.3zM78.51 198.64h1.3v1.3h-1.3zM82.18 197.69h1.3v1.3h-1.3zM76.61 196.35h1.3v1.3h-1.3zM80.01 198.27h1.3v1.3h-1.3zM71.12 197.53h1.3v1.3h-1.3zM69.81 180.47h1.3v1.3h-1.3zM76.82 196.97h1.3v1.3h-1.3zM73.51 178.56h1.3v1.3h-1.3zM75.49 197.86h1.3v1.3h-1.3zM81.48 192.77h1.3v1.3h-1.3zM85.48 198.77h1.3v1.3h-1.3zM74.89 185.77h1.3v1.3h-1.3zM82.17 187.36h1.3v1.3h-1.3zM68.56 196.77h1.3v1.3h-1.3zM69.38 198.03h1.3v1.3h-1.3zM85.08 194.98h1.3v1.3h-1.3zM84.12 197.19h1.3v1.3h-1.3zM82.72 196.19h1.3v1.3h-1.3zM71.31 185.35h1.3v1.3h-1.3zM84.47 198.75h1.3v1.3h-1.3zM77.17 192.07h1.3v1.3h-1.3zM70.68 195.78h1.3v1.3h-1.3zM69.65 197.9h1.3v1.3h-1.3zM71.23 190.82h1.3v1.3h-1.3zM78.26 198.19h1.3v1.3h-1.3zM68.34 196.24h1.3v1.3h-1.3zM78.79 198.32h1.3v1.3h-1.3zM72.12 197.98h1.3v1.3h-1.3zM81.21 194.51h1.3v1.3h-1.3zM68.77 198.63h1.3v1.3h-1.3zM73.49 192.64h1.3v1.3h-1.3zM78.01 198.74h1.3v1.3h-1.3zM69.94 187.54h1.3v1.3h-1.3zM73.74 197.24h1.3v1.3h-1.3zM72.04 179.09h1.3v1.3h-1.3zM72.12 191.91h1.3v1.3h-1.3zM72.85 195.22h1.3v1.3h-1.3zM82.68 185.59h1.3v1.3h-1.3zM72.96 198.06h1.3v1.3h-1.3zM79.8 198.23h1.3v1.3h-1.3zM68.31 178.77h1.3v1.3h-1.3zM73.99 185.25h1.3v1.3h-1.3zM73.68 182.91h1.3v1.3h-1.3zM74.64 198.36h1.3v1.3h-1.3zM68.36 191.37h1.3v1.3h-1.3zM78.04 184.77h1.3v1.3h-1.3zM69.04 189.53h1.3v1.3h-1.3zM73.08 193.55h1.3v1.3h-1.3zM69.71 196.99h1.3v1.3h-1.3zM75.74 182.72h1.3v1.3h-1.3zM69.26 193.11h1.3v1.3h-1.3zM81.41 185.43h1.3v1.3h-1.3zM70.4 198.51h1.3v1.3h-1.3zM84.41 187.45h1.3v1.3h-1.3zM75.04 198.83h1.3v1.3h-1.3zM84.04 197.03h1.3v1.3h-1.3zM83.55 194h1.3v1.3h-1.3zM81.83 198.52h1.3v1.3h-1.3zM81.01 198.16h1.3v1.3h-1.3zM73.65 184.18h1.3v1.3h-1.3zM81.93 198.42h1.3v1.3h-1.3zM70.69 195.23h1.3v1.3h-1.3zM75.68 196.1h1.3v1.3h-1.3zM69.43 197.43h1.3v1.3h-1.3zM79.74 186.24h1.3v1.3h-1.3zM68.56 191.12h1.3v1.3h-1.3zM80.41 198.86h1.3v1.3h-1.3zM82.12 198.69h1.3v1.3h-1.3zM77.23 193.53h1.3v1.3h-1.3zM77.77 197.27h1.3v1.3h-1.3zM73.92 191.99h1.3v1.3h-1.3zM74.02 190.1h1.3v1.3h-1.3zM74.39 195.05h1.3v1.3h-1.3zM68.42 189.44h1.3v1.3h-1.3zM75.16 197.81h1.3v1.3h-1.3zM80.54 189.71h1.3v1.3h-1.3zM74.6 198.25h1.3v1.3h-1.3zM74.87 198.66h1.3v1.3h-1.3zM69.49 194.47h1.3v1.3h-1.3zM69.07 194.17h1.3v1.3h-1.3zM75.54 198.85h1.3v1.3h-1.3zM77.96 198.77h1.3v1.3h-1.3zM79.92 189.47h1.3v1.3h-1.3zM75.57 198.83h1.3v1.3h-1.3zM75.43 196.15h1.3v1.3h-1.3zM84.58 198.66h1.3v1.3h-1.3zM82.53 185.48h1.3v1.3h-1.3zM79.89 188.53h1.3v1.3h-1.3zM70.35 176.59h1.3v1.3h-1.3zM75.2 181.23h1.3v1.3h-1.3zM83.81 198.54h1.3v1.3h-1.3zM81.06 186.18h1.3v1.3h-1.3zM68.79 195.88h1.3v1.3h-1.3zM80.39 198.5h1.3v1.3h-1.3zM83.38 197.91h1.3v1.3h-1.3zM81.64 198.59h1.3v1.3h-1.3zM75.39 182.68h1.3v1.3h-1.3zM70.55 197.3h1.3v1.3h-1.3zM75.46 196.94h1.3v1.3h-1.3zM68.53 198.07h1.3v1.3h-1.3zM69.91 178.3h1.3v1.3h-1.3zM78.82 185.71h1.3v1.3h-1.3zM70.01 184.47h1.3v1.3h-1.3zM69.33 192.14h1.3v1.3h-1.3zM77.95 196.67h1.3v1.3h-1.3zM82.87 194.8h1.3v1.3h-1.3zM76.86 184.87h1.3v1.3h-1.3zM69.21 175.19h1.3v1.3h-1.3zM77.83 196.21h1.3v1.3h-1.3zM81.26 197.87h1.3v1.3h-1.3zM85.47 195.16h1.3v1.3h-1.3zM72.9 186.54h1.3v1.3h-1.3zM74.31 198.26h1.3v1.3h-1.3zM80.13 198.85h1.3v1.3h-1.3zM81.73 197.97h1.3v1.3h-1.3zM78.01 182.35h1.3v1.3h-1.3zM76.97 191h1.3v1.3h-1.3zM72.13 198.88h1.3v1.3h-1.3zM68.5 198.34h1.3v1.3h-1.3zM77.56 195.63h1.3v1.3h-1.3zM75.59 183.65h1.3v1.3h-1.3zM69.54 197.66h1.3v1.3h-1.3zM78.29 198.88h1.3v1.3h-1.3zM68.29 195.76h1.3v1.3h-1.3zM69.23 195.82h1.3v1.3h-1.3zM70.78 191.12h1.3v1.3h-1.3zM77.03 198.14h1.3v1.3h-1.3zM77.71 194.98h1.3v1.3h-1.3zM69.57 178.05h1.3v1.3h-1.3zM71.06 198.38h1.3v1.3h-1.3zM69.11 189.06h1.3v1.3h-1.3zM82.83 190.77h1.3v1.3h-1.3zM73.61 197.45h1.3v1.3h-1.3zM68.34 188.6h1.3v1.3h-1.3zM76.52 196.64h1.3v1.3h-1.3zM78.14 195.54h1.3v1.3h-1.3zM84.28 192.36h1.3v1.3h-1.3zM71.13 180.51h1.3v1.3h-1.3zM68.59 191.96h1.3v1.3h-1.3zM73.68 197.73h1.3v1.3h-1.3zM68.72 184.07h1.3v1.3h-1.3zM68.34 191.38h1.3v1.3h-1.3zM84.36 198.64h1.3v1.3h-1.3zM70.43 190.35h1.3v1.3h-1.3zM75.48 191.03h1.3v1.3h-1.3zM81.59 198.45h1.3v1.3h-1.3zM72.07 196.92h1.3v1.3h-1.3zM68.63 179.51h1.3v1.3h-1.3zM80.95 191.33h1.3v1.3h-1.3zM68.31 181.24h1.3v1.3h-1.3zM80.16 195.55h1.3v1.3h-1.3zM80.09 195.72h1.3v1.3h-1.3zM70.8 198.63h1.3v1.3h-1.3zM70.9 198.85h1.3v1.3h-1.3zM72.49 186.84h1.3v1.3h-1.3zM79.13 187.31h1.3v1.3h-1.3zM79.47 197.76h1.3v1.3h-1.3zM76.36 195.39h1.3v1.3h-1.3zM81.06 194.87h1.3v1.3h-1.3zM71.39 189.69h1.3v1.3h-1.3zM84.9 198.34h1.3v1.3h-1.3zM83.02 198.88h1.3v1.3h-1.3zM71.31 197.64h1.3v1.3h-1.3zM80.13 185.14h1.3v1.3h-1.3zM80.18 197.24h1.3v1.3h-1.3zM83.03 197.47h1.3v1.3h-1.3zM71 180.25h1.3v1.3h-1.3zM77.84 190.62h1.3v1.3h-1.3zM78.53 182.91h1.3v1.3h-1.3zM74.8 185.05h1.3v1.3h-1.3zM79.18 187.01h1.3v1.3h-1.3zM74.22 188.35h1.3v1.3h-1.3zM76.67 197.17h1.3v1.3h-1.3zM70.6 189.99h1.3v1.3h-1.3zM68.92 178.76h1.3v1.3h-1.3zM69.7 198.87h1.3v1.3h-1.3zM69.24 178.16h1.3v1.3h-1.3zM72.65 198.46h1.3v1.3h-1.3zM68.46 198.84h1.3v1.3h-1.3zM79.08 192.36h1.3v1.3h-1.3zM79.17 190.11h1.3v1.3h-1.3zM68.79 190.39h1.3v1.3h-1.3zM72.95 184.8h1.3v1.3h-1.3zM81.72 187.65h1.3v1.3h-1.3zM68.79 180.54h1.3v1.3h-1.3zM83.78 187.72h1.3v1.3h-1.3zM69.24 197.87h1.3v1.3h-1.3zM69.3 198.86h1.3v1.3h-1.3zM82.32 189.87h1.3v1.3h-1.3zM77.91 187.21h1.3v1.3h-1.3zM77.86 197.46h1.3v1.3h-1.3zM69.16 198.65h1.3v1.3h-1.3zM80.41 198.25h1.3v1.3h-1.3zM72.23 195h1.3v1.3h-1.3zM68.4 197.26h1.3v1.3h-1.3zM71.65 187.56h1.3v1.3h-1.3zM73.03 196.72h1.3v1.3h-1.3zM84.88 195.93h1.3v1.3h-1.3zM82.4 193.68h1.3v1.3h-1.3zM68.48 194.69h1.3v1.3h-1.3zM74.21 186.88h1.3v1.3h-1.3zM72.68 188.31h1.3v1.3h-1.3zM76.06 198.01h1.3v1.3h-1.3zM82.64 198.77h1.3v1.3h-1.3zM81.73 198.47h1.3v1.3h-1.3zM68.29 197.87h1.3v1.3h-1.3zM80.51 184.45h1.3v1.3h-1.3zM68.3 192.92h1.3v1.3h-1.3zM75.2 186.63h1.3v1.3h-1.3zM70.22 193.2h1.3v1.3h-1.3zM72.69 184.16h1.3v1.3h-1.3zM71.32 178.96h1.3v1.3h-1.3zM71.67 197.87h1.3v1.3h-1.3zM79.22 194.88h1.3v1.3h-1.3zM69.27 189.17h1.3v1.3h-1.3zM68.95 183.84h1.3v1.3h-1.3zM79.17 188.88h1.3v1.3h-1.3zM77.79 196.7h1.3v1.3h-1.3zM73.6 195.68h1.3v1.3h-1.3zM83.25 198.79h1.3v1.3h-1.3zM83.21 198.88h1.3v1.3h-1.3zM70.52 197.29h1.3v1.3h-1.3zM83.49 195.68h1.3v1.3h-1.3zM73.22 182.58h1.3v1.3h-1.3zM70.91 194.06h1.3v1.3h-1.3zM75.94 188.23h1.3v1.3h-1.3zM80.32 192.51h1.3v1.3h-1.3zM72.71 196.61h1.3v1.3h-1.3zM69.83 182.15h1.3v1.3h-1.3zM78.47 189.68h1.3v1.3h-1.3zM70.02 194.38h1.3v1.3h-1.3zM80.75 193.88h1.3v1.3h-1.3zM69.47 193.8h1.3v1.3h-1.3zM83.13 198.15h1.3v1.3h-1.3zM70.32 196.78h1.3v1.3h-1.3zM79.3 187.45h1.3v1.3h-1.3zM69.82 198.31h1.3v1.3h-1.3zM71.12 196.48h1.3v1.3h-1.3zM75.76 198.4h1.3v1.3h-1.3zM72.37 198.11h1.3v1.3h-1.3zM85.13 192.8h1.3v1.3h-1.3zM69.18 176.6h1.3v1.3h-1.3zM69.18 195.33h1.3v1.3h-1.3zM85.32 191.75h1.3v1.3h-1.3zM79.91 195.94h1.3v1.3h-1.3zM70.38 189.48h1.3v1.3h-1.3zM69.24 197.86h1.3v1.3h-1.3zM73.37 198.86h1.3v1.3h-1.3zM73.56 186h1.3v1.3h-1.3z" fill="#f01010"/>
<path d="M71.68 177.79h1.3v1.3h-1.3zM74.5 183.14h1.3v1.3h-1.3zM75.36 178.67h1.3v1.3h-1.3zM79.51 181.19h1.3v1.3h-1.3zM75.63 187.82h1.3v1.3h-1.3zM80.57 184.65h1.3v1.3h-1.3zM73.53 192.34h1.3v1.3h-1.3zM71.24 160.14h1.3v1.3h-1.3zM70.22 169.58h1.3v1.3h-1.3zM75.77 175.83h1.3v1.3h-1.3zM74.01 182.57h1.3v1.3h-1.3zM72.77 174.09h1.3v1.3h-1.3zM75.33 187.39h1.3v1.3h-1.3zM70.93 169.32h1.3v1.3h-1.3zM72.59 188.35h1.3v1.3h-1.3zM76.37 189.16h1.3v1.3h-1.3zM74.41 185.33h1.3v1.3h-1.3zM76.92 159.59h1.3v1.3h-1.3zM73.21 173.46h1.3v1.3h-1.3zM69.73 180.23h1.3v1.3h-1.3zM90.64 195.58h1.3v1.3h-1.3zM78.34 193.21h1.3v1.3h-1.3zM75.95 170.65h1.3v1.3h-1.3zM77.6 190.45h1.3v1.3h-1.3zM76.99 184.07h1.3v1.3h-1.3zM80.99 191.14h1.3v1.3h-1.3zM80.05 196.8h1.3v1.3h-1.3zM73.07 178.49h1.3v1.3h-1.3zM85.28 174.09h1.3v1.3h-1.3zM71.4 170.78h1.3v1.3h-1.3zM79.23 178.63h1.3v1.3h-1.3zM85.43 160.55h1.3v1.3h-1.3zM70.02 193.74h1.3v1.3h-1.3zM69.56 179.81h1.3v1.3h-1.3zM76.86 197.22h1.3v1.3h-1.3zM79.52 184.73h1.3v1.3h-1.3zM72.17 186.87h1.3v1.3h-1.3zM70.46 167.87h1.3v1.3h-1.3zM77.69 190.27h1.3v1.3h-1.3zM71.17 165.19h1.3v1.3h-1.3zM72.73 190.61h1.3v1.3h-1.3zM78.13 174.88h1.3v1.3h-1.3zM72.57 173.67h1.3v1.3h-1.3zM78.71 194.16h1.3v1.3h-1.3zM71.49 150.22h1.3v1.3h-1.3zM75.41 177.15h1.3v1.3h-1.3zM74.65 166.96h1.3v1.3h-1.3zM75.05 195.71h1.3v1.3h-1.3zM72.37 195.93h1.3v1.3h-1.3zM72.17 183.42h1.3v1.3h-1.3zM72.14 186.73h1.3v1.3h-1.3zM72.79 188.63h1.3v1.3h-1.3zM73.03 193.4h1.3v1.3h-1.3zM81.51 198.37h1.3v1.3h-1.3zM69.49 184.84h1.3v1.3h-1.3zM71.31 178.2h1.3v1.3h-1.3zM78.89 187.07h1.3v1.3h-1.3zM72.52 183.63h1.3v1.3h-1.3zM82.91 182.65h1.3v1.3h-1.3zM82.81 186.31h1.3v1.3h-1.3zM80.3 180.23h1.3v1.3h-1.3zM78.2 171.06h1.3v1.3h-1.3zM69.25 196.42h1.3v1.3h-1.3zM88.59 195.49h1.3v1.3h-1.3zM71.78 186.85h1.3v1.3h-1.3zM71.97 192.57h1.3v1.3h-1.3zM69.75 166h1.3v1.3h-1.3zM71 189.85h1.3v1.3h-1.3zM80.35 179.71h1.3v1.3h-1.3zM76.87 163.89h1.3v1.3h-1.3zM79.48 177.92h1.3v1.3h-1.3zM76.87 163.62h1.3v1.3h-1.3zM72.03 163.43h1.3v1.3h-1.3zM72.41 171.13h1.3v1.3h-1.3zM81.64 192.84h1.3v1.3h-1.3zM84.14 184h1.3v1.3h-1.3zM74.38 193.81h1.3v1.3h-1.3zM68.74 188.47h1.3v1.3h-1.3zM71.15 198.6h1.3v1.3h-1.3zM72.8 196.69h1.3v1.3h-1.3zM77.98 197.67h1.3v1.3h-1.3zM84.26 189.52h1.3v1.3h-1.3zM84.12 197.36h1.3v1.3h-1.3zM78.7 193.97h1.3v1.3h-1.3zM76.32 167.34h1.3v1.3h-1.3zM74.37 184.81h1.3v1.3h-1.3zM71.46 197.03h1.3v1.3h-1.3zM75.95 178.28h1.3v1.3h-1.3zM79.44 194.21h1.3v1.3h-1.3zM76.15 158.57h1.3v1.3h-1.3zM79.61 151.61h1.3v1.3h-1.3zM77.78 197.42h1.3v1.3h-1.3zM70.02 195.87h1.3v1.3h-1.3zM70.59 172.66h1.3v1.3h-1.3zM76.97 166.63h1.3v1.3h-1.3zM74.54 182.74h1.3v1.3h-1.3zM82.29 193.65h1.3v1.3h-1.3zM70.45 179.09h1.3v1.3h-1.3zM77.57 187.51h1.3v1.3h-1.3zM71.48 184.79h1.3v1.3h-1.3zM72.23 181.73h1.3v1.3h-1.3zM74.87 198.53h1.3v1.3h-1.3zM90.72 196.79h1.3v1.3h-1.3zM76.55 170.94h1.3v1.3h-1.3zM71.8 184.31h1.3v1.3h-1.3zM71.63 174.71h1.3v1.3h-1.3zM77.87 173.82h1.3v1.3h-1.3zM81.11 191.27h1.3v1.3h-1.3zM76.1 183.09h1.3v1.3h-1.3zM74.94 193.92h1.3v1.3h-1.3z" fill="#f01010"/>
</g>
<line x1="60.15" y1="120.3" x2="60.15" y2="208.6" stroke="#555" stroke-width="0.6" stroke-dasharray="3 0.6"/>
<line x1="68.85" y1="120.3" x2="68.85" y2="208.6" stroke="#555" stroke-width="0.6" stroke-dasharray="3 0.6"/>
<line x1="19.8" y1="199.53" x2="107.8" y2="199.53" stroke="#999" stroke-width="0.6" stroke-dasharray="1 1"/>
<rect x="19.8" y="120.3" width="88" height="88.3" fill="none" stroke="#333" stroke-width="0.9"/>
<line x1="17.8" y1="204.5" x2="19.8" y2="204.5" stroke="#333" stroke-width="0.8"/>
<text x="18.2" y="204.5" font-size="7.2" text-anchor="end" dominant-baseline="central" fill="#222" stroke="#222" stroke-width="0.12">0</text>
<line x1="17.8" y1="185.4" x2="19.8" y2="185.4" stroke="#333" stroke-width="0.8"/>
<text x="18.2" y="185.4" font-size="7.2" text-anchor="end" dominant-baseline="central" fill="#222" stroke="#222" stroke-width="0.12">5</text>
<line x1="17.8" y1="166.3" x2="19.8" y2="166.3" stroke="#333" stroke-width="0.8"/>
<text x="18.2" y="166.3" font-size="7.2" text-anchor="end" dominant-baseline="central" fill="#222" stroke="#222" stroke-width="0.12">10</text>
<line x1="17.8" y1="147.2" x2="19.8" y2="147.2" stroke="#333" stroke-width="0.8"/>
<text x="18.2" y="147.2" font-size="7.2" text-anchor="end" dominant-baseline="central" fill="#222" stroke="#222" stroke-width="0.12">15</text>
<line x1="17.8" y1="128.1" x2="19.8" y2="128.1" stroke="#333" stroke-width="0.8"/>
<text x="18.2" y="128.1" font-size="7.2" text-anchor="end" dominant-baseline="central" fill="#222" stroke="#222" stroke-width="0.12">20</text>
<line x1="21" y1="208.6" x2="21" y2="210.6" stroke="#333" stroke-width="0.8"/>
<text x="21" y="214.9" font-size="7.2" text-anchor="middle" dominant-baseline="central" fill="#222" stroke="#222" stroke-width="0.12">-10</text>
<line x1="42.75" y1="208.6" x2="42.75" y2="210.6" stroke="#333" stroke-width="0.8"/>
<text x="42.75" y="214.9" font-size="7.2" text-anchor="middle" dominant-baseline="central" fill="#222" stroke="#222" stroke-width="0.12">-5</text>
<line x1="64.5" y1="208.6" x2="64.5" y2="210.6" stroke="#333" stroke-width="0.8"/>
<text x="64.5" y="214.9" font-size="7.2" text-anchor="middle" dominant-baseline="central" fill="#222" stroke="#222" stroke-width="0.12">0</text>
<line x1="86.25" y1="208.6" x2="86.25" y2="210.6" stroke="#333" stroke-width="0.8"/>
<text x="86.25" y="214.9" font-size="7.2" text-anchor="middle" dominant-baseline="central" fill="#222" stroke="#222" stroke-width="0.12">5</text>
<line x1="108" y1="208.6" x2="108" y2="210.6" stroke="#333" stroke-width="0.8"/>
<text x="108" y="214.9" font-size="7.2" text-anchor="middle" dominant-baseline="central" fill="#222" stroke="#222" stroke-width="0.12">10</text>
<text x="68" y="223.8" font-size="7.2" text-anchor="middle" dominant-baseline="central" fill="#222" stroke="#222" stroke-width="0.12">log<tspan font-size="4.8" dy="2">2</tspan><tspan dy="-2">(fold change)</tspan></text>
<text x="3.7" y="161.4" font-size="7.2" text-anchor="middle" dominant-baseline="central" fill="#222" stroke="#222" stroke-width="0.12" transform="rotate(-90 3.7 161.4)">-log<tspan font-size="4.8" dy="2">10</tspan><tspan dy="-2">(p-value)</tspan></text>
<text x="21.6" y="124.6" font-size="7.2" text-anchor="start" dominant-baseline="central" fill="#222" stroke="#222" stroke-width="0.12">p &lt; 0.05</text>
<text x="21.6" y="133.1" font-size="7.2" dominant-baseline="central" fill="#222" stroke="#222" stroke-width="0.12">|log<tspan font-size="4.8" dy="2">2</tspan><tspan dy="-2">FC| &gt; 1</tspan></text>
<text x="21.6" y="141.6" font-size="7.2" text-anchor="start" dominant-baseline="central" fill="#222" stroke="#222" stroke-width="0.12">sig up: 557</text>
<text x="21.6" y="150.1" font-size="7.2" text-anchor="start" dominant-baseline="central" fill="#222" stroke="#222" stroke-width="0.12">sig down: 213</text>
<text x="1" y="117.6" font-size="12" text-anchor="start" dominant-baseline="alphabetic" fill="#000" font-weight="bold">b</text>
</g>
<g>
<rect x="118.6" y="11.4" width="26.96" height="1.55" fill="#0707ff"/>
<rect x="118.6" y="12.9" width="26.96" height="1.55" fill="#1f1fff"/>
<rect x="118.6" y="14.4" width="26.96" height="1.55" fill="#2929ff"/>
<rect x="118.6" y="15.91" width="26.96" height="1.55" fill="#7878ff"/>
<rect x="118.6" y="17.41" width="26.96" height="1.55" fill="#9e9eff"/>
<rect x="118.6" y="18.91" width="26.96" height="1.55" fill="#b1b1ff"/>
<rect x="118.6" y="20.41" width="26.96" height="1.55" fill="#7a7aff"/>
<rect x="118.6" y="21.92" width="26.96" height="1.55" fill="#8484ff"/>
<rect x="118.6" y="23.42" width="26.96" height="1.55" fill="#8686ff"/>
<rect x="118.6" y="24.92" width="26.96" height="1.55" fill="#8585ff"/>
<rect x="118.6" y="26.42" width="26.96" height="1.55" fill="#2424ff"/>
<rect x="118.6" y="27.93" width="26.96" height="1.55" fill="#2121ff"/>
<rect x="118.6" y="29.43" width="26.96" height="1.55" fill="#3131ff"/>
<rect x="118.6" y="30.93" width="26.96" height="1.55" fill="#2929ff"/>
<rect x="118.6" y="32.43" width="26.96" height="1.55" fill="#bebeff"/>
<rect x="118.6" y="33.93" width="26.96" height="1.55" fill="#bbbbff"/>
<rect x="118.6" y="35.44" width="26.96" height="1.55" fill="#fff1f1"/>
<rect x="118.6" y="36.94" width="26.96" height="1.55" fill="#e1e1ff"/>
<rect x="118.6" y="38.44" width="26.96" height="1.55" fill="#8080ff"/>
<rect x="118.6" y="39.94" width="26.96" height="1.55" fill="#7b7bff"/>
<rect x="118.6" y="41.45" width="26.96" height="3.05" fill="#8e8eff"/>
<rect x="118.6" y="44.45" width="26.96" height="1.55" fill="#5454ff"/>
<rect x="118.6" y="45.95" width="26.96" height="1.55" fill="#5858ff"/>
<rect x="118.6" y="47.46" width="26.96" height="1.55" fill="#5d5dff"/>
<rect x="118.6" y="48.96" width="26.96" height="1.55" fill="#6464ff"/>
<rect x="118.6" y="50.46" width="26.96" height="1.55" fill="#9090ff"/>
<rect x="118.6" y="51.96" width="26.96" height="1.55" fill="#8383ff"/>
<rect x="118.6" y="53.46" width="26.96" height="1.55" fill="#6464ff"/>
<rect x="118.6" y="54.97" width="26.96" height="1.55" fill="#8a8aff"/>
<rect x="118.6" y="56.47" width="26.96" height="1.55" fill="#6a6aff"/>
<rect x="118.6" y="57.97" width="26.96" height="1.55" fill="#9696ff"/>
<rect x="118.6" y="59.47" width="26.96" height="1.55" fill="#8282ff"/>
<rect x="118.6" y="60.98" width="26.96" height="1.55" fill="#9999ff"/>
<rect x="118.6" y="62.48" width="26.96" height="1.55" fill="#8d8dff"/>
<rect x="118.6" y="63.98" width="26.96" height="1.55" fill="#9c9cff"/>
<rect x="118.6" y="65.48" width="26.96" height="1.55" fill="#b2b2ff"/>
<rect x="118.6" y="66.99" width="26.96" height="1.55" fill="#7f7fff"/>
<rect x="118.6" y="68.49" width="26.96" height="1.55" fill="#8c8cff"/>
<rect x="118.6" y="69.99" width="26.96" height="1.55" fill="#6b6bff"/>
<rect x="118.6" y="71.49" width="26.96" height="1.55" fill="#7b7bff"/>
<rect x="118.6" y="72.99" width="26.96" height="1.55" fill="#8a8aff"/>
<rect x="118.6" y="74.5" width="26.96" height="1.55" fill="#7e7eff"/>
<rect x="118.6" y="76" width="26.96" height="1.55" fill="#5f5fff"/>
<rect x="118.6" y="77.5" width="26.96" height="1.55" fill="#8181ff"/>
<rect x="118.6" y="79" width="26.96" height="1.55" fill="#7070ff"/>
<rect x="118.6" y="80.51" width="26.96" height="1.55" fill="#8888ff"/>
<rect x="118.6" y="82.01" width="26.96" height="1.55" fill="#8d8dff"/>
<rect x="118.6" y="83.51" width="26.96" height="1.55" fill="#b6b6ff"/>
<rect x="118.6" y="85.01" width="26.96" height="1.55" fill="#5e5eff"/>
<rect x="118.6" y="86.52" width="26.96" height="1.55" fill="#7070ff"/>
<rect x="118.6" y="88.02" width="26.96" height="1.55" fill="#6666ff"/>
<rect x="118.6" y="89.52" width="26.96" height="1.55" fill="#7575ff"/>
<rect x="118.6" y="91.02" width="26.96" height="1.55" fill="#7676ff"/>
<rect x="118.6" y="92.52" width="26.96" height="1.55" fill="#7575ff"/>
<rect x="118.6" y="94.03" width="26.96" height="1.55" fill="#6464ff"/>
<rect x="118.6" y="95.53" width="26.96" height="1.55" fill="#9393ff"/>
<rect x="118.6" y="97.03" width="26.96" height="1.55" fill="#8989ff"/>
<rect x="118.6" y="98.53" width="26.96" height="1.55" fill="#9b9bff"/>
<rect x="118.6" y="100.04" width="26.96" height="1.55" fill="#8d8dff"/>
<rect x="118.6" y="101.54" width="26.96" height="1.55" fill="#a5a5ff"/>
<rect x="118.6" y="103.04" width="26.96" height="1.55" fill="#8787ff"/>
<rect x="118.6" y="104.54" width="26.96" height="1.55" fill="#9999ff"/>
<rect x="118.6" y="106.05" width="26.96" height="1.55" fill="#5353ff"/>
<rect x="118.6" y="107.55" width="26.96" height="3.05" fill="#fffbfb"/>
<rect x="118.6" y="110.55" width="26.96" height="1.55" fill="#9d9dff"/>
<rect x="118.6" y="112.05" width="26.96" height="3.05" fill="#9c9cff"/>
<rect x="118.6" y="115.06" width="26.96" height="1.55" fill="#9090ff"/>
<rect x="118.6" y="116.56" width="26.96" height="1.55" fill="#8989ff"/>
<rect x="118.6" y="118.06" width="26.96" height="1.55" fill="#9393ff"/>
<rect x="118.6" y="119.57" width="26.96" height="1.55" fill="#a2a2ff"/>
<rect x="118.6" y="121.07" width="26.96" height="1.55" fill="#b0b0ff"/>
<rect x="118.6" y="122.57" width="26.96" height="1.55" fill="#9b9bff"/>
<rect x="118.6" y="124.07" width="26.96" height="1.55" fill="#9c9cff"/>
<rect x="118.6" y="125.58" width="26.96" height="1.55" fill="#9898ff"/>
<rect x="118.6" y="127.08" width="26.96" height="1.55" fill="#9797ff"/>
<rect x="118.6" y="128.58" width="26.96" height="1.55" fill="#8f8fff"/>
<rect x="118.6" y="130.08" width="26.96" height="1.55" fill="#9898ff"/>
<rect x="118.6" y="131.58" width="26.96" height="1.55" fill="#a7a7ff"/>
<rect x="118.6" y="133.09" width="26.96" height="1.55" fill="#8787ff"/>
<rect x="118.6" y="134.59" width="26.96" height="1.55" fill="#8282ff"/>
<rect x="118.6" y="136.09" width="26.96" height="1.55" fill="#aaaaff"/>
<rect x="118.6" y="137.59" width="26.96" height="1.55" fill="#9090ff"/>
<rect x="118.6" y="139.1" width="26.96" height="1.55" fill="#9b9bff"/>
<rect x="118.6" y="140.6" width="26.96" height="1.55" fill="#ffbfbf"/>
<rect x="118.6" y="142.1" width="26.96" height="1.55" fill="#ffdddd"/>
<rect x="118.6" y="143.6" width="26.96" height="1.55" fill="#ffecec"/>
<rect x="118.6" y="145.11" width="26.96" height="1.55" fill="#ffbebe"/>
<rect x="118.6" y="146.61" width="26.96" height="1.55" fill="#efefff"/>
<rect x="118.6" y="148.11" width="26.96" height="1.55" fill="#f7f7ff"/>
<rect x="118.6" y="149.61" width="26.96" height="1.55" fill="#dbdbff"/>
<rect x="118.6" y="151.11" width="26.96" height="1.55" fill="#cbcbff"/>
<rect x="118.6" y="152.62" width="26.96" height="1.55" fill="#d7d7ff"/>
<rect x="118.6" y="154.12" width="26.96" height="1.55" fill="#dedeff"/>
<rect x="118.6" y="155.62" width="26.96" height="1.55" fill="#eaeaff"/>
<rect x="118.6" y="157.12" width="26.96" height="1.55" fill="#7171ff"/>
<rect x="118.6" y="158.63" width="26.96" height="1.55" fill="#6767ff"/>
<rect x="118.6" y="160.13" width="26.96" height="1.55" fill="#ffc4c4"/>
<rect x="118.6" y="161.63" width="26.96" height="1.55" fill="#ffe4e4"/>
<rect x="118.6" y="163.13" width="26.96" height="1.55" fill="#fff9f9"/>
<rect x="118.6" y="164.64" width="26.96" height="1.55" fill="#7777ff"/>
<rect x="118.6" y="166.14" width="26.96" height="1.55" fill="#6262ff"/>
<rect x="118.6" y="167.64" width="26.96" height="1.55" fill="#4b4bff"/>
<rect x="118.6" y="169.14" width="26.96" height="1.55" fill="#5858ff"/>
<rect x="118.6" y="170.64" width="26.96" height="1.55" fill="#6a6aff"/>
<rect x="118.6" y="172.15" width="26.96" height="1.55" fill="#fffbfb"/>
<rect x="118.6" y="173.65" width="26.96" height="1.55" fill="#bdbdff"/>
<rect x="118.6" y="175.15" width="26.96" height="1.55" fill="#9696ff"/>
<rect x="118.6" y="176.65" width="26.96" height="1.55" fill="#ffbfbf"/>
<rect x="118.6" y="178.16" width="26.96" height="1.55" fill="#ffb5b5"/>
<rect x="118.6" y="179.66" width="26.96" height="1.55" fill="#fefeff"/>
<rect x="118.6" y="181.16" width="26.96" height="1.55" fill="#8e8eff"/>
<rect x="118.6" y="182.66" width="26.96" height="1.55" fill="#bfbfff"/>
<rect x="118.6" y="184.17" width="26.96" height="1.55" fill="#d6d6ff"/>
<rect x="118.6" y="185.67" width="26.96" height="1.55" fill="#c2c2ff"/>
<rect x="118.6" y="187.17" width="26.96" height="1.55" fill="#7171ff"/>
<rect x="118.6" y="188.67" width="26.96" height="1.55" fill="#ffb9b9"/>
<rect x="118.6" y="190.17" width="26.96" height="1.55" fill="#ffafaf"/>
<rect x="118.6" y="191.68" width="26.96" height="1.55" fill="#ff9999"/>
<rect x="118.6" y="193.18" width="26.96" height="1.55" fill="#ffb6b6"/>
<rect x="118.6" y="194.68" width="26.96" height="1.55" fill="#ffbebe"/>
<rect x="118.6" y="196.18" width="26.96" height="1.55" fill="#ff8181"/>
<rect x="118.6" y="197.69" width="26.96" height="1.55" fill="#ff9a9a"/>
<rect x="118.6" y="199.19" width="26.96" height="1.55" fill="#ff7d7d"/>
<rect x="118.6" y="200.69" width="26.96" height="1.55" fill="#ffa3a3"/>
<rect x="118.6" y="202.19" width="26.96" height="1.55" fill="#fbfbff"/>
<rect x="118.6" y="203.7" width="26.96" height="1.55" fill="#ff8e8e"/>
<rect x="118.6" y="205.2" width="26.96" height="1.55" fill="#ff8383"/>
<rect x="145.51" y="11.4" width="26.96" height="1.55" fill="#f0f0ff"/>
<rect x="145.51" y="12.9" width="26.96" height="1.55" fill="#eaeaff"/>
<rect x="145.51" y="14.4" width="26.96" height="1.55" fill="#7070ff"/>
<rect x="145.51" y="15.91" width="26.96" height="1.55" fill="#8181ff"/>
<rect x="145.51" y="17.41" width="26.96" height="1.55" fill="#ffa2a2"/>
<rect x="145.51" y="18.91" width="26.96" height="1.55" fill="#fbfbff"/>
<rect x="145.51" y="20.41" width="26.96" height="1.55" fill="#fffbfb"/>
<rect x="145.51" y="21.92" width="26.96" height="1.55" fill="#ffdede"/>
<rect x="145.51" y="23.42" width="26.96" height="1.55" fill="#ffcdcd"/>
<rect x="145.51" y="24.92" width="26.96" height="1.55" fill="#ffd7d7"/>
<rect x="145.51" y="26.42" width="26.96" height="1.55" fill="#ffdede"/>
<rect x="145.51" y="27.93" width="26.96" height="1.55" fill="#ffd7d7"/>
<rect x="145.51" y="29.43" width="26.96" height="1.55" fill="#ffacac"/>
<rect x="145.51" y="30.93" width="26.96" height="1.55" fill="#ffa5a5"/>
<rect x="145.51" y="32.43" width="26.96" height="1.55" fill="#ffeded"/>
<rect x="145.51" y="33.93" width="26.96" height="1.55" fill="#ffe9e9"/>
<rect x="145.51" y="35.44" width="26.96" height="1.55" fill="#ddddff"/>
<rect x="145.51" y="36.94" width="26.96" height="1.55" fill="#fff3f3"/>
<rect x="145.51" y="38.44" width="26.96" height="1.55" fill="#d5d5ff"/>
<rect x="145.51" y="39.94" width="26.96" height="1.55" fill="#bdbdff"/>
<rect x="145.51" y="41.45" width="26.96" height="1.55" fill="#b8b8ff"/>
<rect x="145.51" y="42.95" width="26.96" height="1.55" fill="#acacff"/>
<rect x="145.51" y="44.45" width="26.96" height="1.55" fill="#e8e8ff"/>
<rect x="145.51" y="45.95" width="26.96" height="1.55" fill="#e9e9ff"/>
<rect x="145.51" y="47.46" width="26.96" height="1.55" fill="#fff7f7"/>
<rect x="145.51" y="48.96" width="26.96" height="1.55" fill="#e9e9ff"/>
<rect x="145.51" y="50.46" width="26.96" height="1.55" fill="#dadaff"/>
<rect x="145.51" y="51.96" width="26.96" height="1.55" fill="#c0c0ff"/>
<rect x="145.51" y="53.46" width="26.96" height="1.55" fill="#fbfbff"/>
<rect x="145.51" y="54.97" width="26.96" height="1.55" fill="#e8e8ff"/>
<rect x="145.51" y="56.47" width="26.96" height="1.55" fill="#cdcdff"/>
<rect x="145.51" y="57.97" width="26.96" height="1.55" fill="#cfcfff"/>
<rect x="145.51" y="59.47" width="26.96" height="1.55" fill="#b3b3ff"/>
<rect x="145.51" y="60.98" width="26.96" height="1.55" fill="#fffdfd"/>
<rect x="145.51" y="62.48" width="26.96" height="1.55" fill="#ddddff"/>
<rect x="145.51" y="63.98" width="26.96" height="1.55" fill="#d5d5ff"/>
<rect x="145.51" y="65.48" width="26.96" height="1.55" fill="#f7f7ff"/>
<rect x="145.51" y="66.99" width="26.96" height="1.55" fill="#e8e8ff"/>
<rect x="145.51" y="68.49" width="26.96" height="1.55" fill="#f8f8ff"/>
<rect x="145.51" y="69.99" width="26.96" height="1.55" fill="#ededff"/>
<rect x="145.51" y="71.49" width="26.96" height="1.55" fill="#d5d5ff"/>
<rect x="145.51" y="72.99" width="26.96" height="1.55" fill="#ababff"/>
<rect x="145.51" y="74.5" width="26.96" height="1.55" fill="#bebeff"/>
<rect x="145.51" y="76" width="26.96" height="1.55" fill="#dfdfff"/>
<rect x="145.51" y="77.5" width="26.96" height="1.55" fill="#e5e5ff"/>
<rect x="145.51" y="79" width="26.96" height="1.55" fill="#e0e0ff"/>
<rect x="145.51" y="80.51" width="26.96" height="1.55" fill="#dbdbff"/>
<rect x="145.51" y="82.01" width="26.96" height="1.55" fill="#fffefe"/>
<rect x="145.51" y="83.51" width="26.96" height="1.55" fill="#ffffff"/>
<rect x="145.51" y="85.01" width="26.96" height="1.55" fill="#f7f7ff"/>
<rect x="145.51" y="86.52" width="26.96" height="3.05" fill="#fafaff"/>
<rect x="145.51" y="89.52" width="26.96" height="1.55" fill="#c7c7ff"/>
<rect x="145.51" y="91.02" width="26.96" height="1.55" fill="#ceceff"/>
<rect x="145.51" y="92.52" width="26.96" height="1.55" fill="#ececff"/>
<rect x="145.51" y="94.03" width="26.96" height="1.55" fill="#f6f6ff"/>
<rect x="145.51" y="95.53" width="26.96" height="1.55" fill="#fff3f3"/>
<rect x="145.51" y="97.03" width="26.96" height="1.55" fill="#ebebff"/>
<rect x="145.51" y="98.53" width="26.96" height="1.55" fill="#eaeaff"/>
<rect x="145.51" y="100.04" width="26.96" height="1.55" fill="#ddddff"/>
<rect x="145.51" y="101.54" width="26.96" height="1.55" fill="#cacaff"/>
<rect x="145.51" y="103.04" width="26.96" height="1.55" fill="#b8b8ff"/>
<rect x="145.51" y="104.54" width="26.96" height="1.55" fill="#b1b1ff"/>
<rect x="145.51" y="106.05" width="26.96" height="1.55" fill="#d7d7ff"/>
<rect x="145.51" y="107.55" width="26.96" height="1.55" fill="#fff4f4"/>
<rect x="145.51" y="109.05" width="26.96" height="1.55" fill="#fff9f9"/>
<rect x="145.51" y="110.55" width="26.96" height="1.55" fill="#ffd1d1"/>
<rect x="145.51" y="112.05" width="26.96" height="1.55" fill="#ffe2e2"/>
<rect x="145.51" y="113.56" width="26.96" height="1.55" fill="#dbdbff"/>
<rect x="145.51" y="115.06" width="26.96" height="1.55" fill="#fffefe"/>
<rect x="145.51" y="116.56" width="26.96" height="1.55" fill="#fcfcff"/>
<rect x="145.51" y="118.06" width="26.96" height="1.55" fill="#bbbbff"/>
<rect x="145.51" y="119.57" width="26.96" height="1.55" fill="#b2b2ff"/>
<rect x="145.51" y="121.07" width="26.96" height="1.55" fill="#b5b5ff"/>
<rect x="145.51" y="122.57" width="26.96" height="1.55" fill="#ccccff"/>
<rect x="145.51" y="124.07" width="26.96" height="1.55" fill="#fffefe"/>
<rect x="145.51" y="125.58" width="26.96" height="1.55" fill="#fbfbff"/>
<rect x="145.51" y="127.08" width="26.96" height="1.55" fill="#fff4f4"/>
<rect x="145.51" y="128.58" width="26.96" height="1.55" fill="#fffefe"/>
<rect x="145.51" y="130.08" width="26.96" height="1.55" fill="#fffbfb"/>
<rect x="145.51" y="131.58" width="26.96" height="1.55" fill="#ffc6c6"/>
<rect x="145.51" y="133.09" width="26.96" height="1.55" fill="#ccccff"/>
<rect x="145.51" y="134.59" width="26.96" height="1.55" fill="#bbbbff"/>
<rect x="145.51" y="136.09" width="26.96" height="1.55" fill="#fff3f3"/>
<rect x="145.51" y="137.59" width="26.96" height="1.55" fill="#fffefe"/>
<rect x="145.51" y="139.1" width="26.96" height="1.55" fill="#ffefef"/>
<rect x="145.51" y="140.6" width="26.96" height="1.55" fill="#fffcfc"/>
<rect x="145.51" y="142.1" width="26.96" height="1.55" fill="#c2c2ff"/>
<rect x="145.51" y="143.6" width="26.96" height="1.55" fill="#d8d8ff"/>
<rect x="145.51" y="145.11" width="26.96" height="1.55" fill="#acacff"/>
<rect x="145.51" y="146.61" width="26.96" height="1.55" fill="#d7d7ff"/>
<rect x="145.51" y="148.11" width="26.96" height="1.55" fill="#c2c2ff"/>
<rect x="145.51" y="149.61" width="26.96" height="1.55" fill="#c0c0ff"/>
<rect x="145.51" y="151.11" width="26.96" height="1.55" fill="#5353ff"/>
<rect x="145.51" y="152.62" width="26.96" height="1.55" fill="#b2b2ff"/>
<rect x="145.51" y="154.12" width="26.96" height="1.55" fill="#b3b3ff"/>
<rect x="145.51" y="155.62" width="26.96" height="1.55" fill="#b5b5ff"/>
<rect x="145.51" y="157.12" width="26.96" height="1.55" fill="#b3b3ff"/>
<rect x="145.51" y="158.63" width="26.96" height="1.55" fill="#c3c3ff"/>
<rect x="145.51" y="160.13" width="26.96" height="1.55" fill="#ffe4e4"/>
<rect x="145.51" y="161.63" width="26.96" height="1.55" fill="#ffc1c1"/>
<rect x="145.51" y="163.13" width="26.96" height="1.55" fill="#ffb6b6"/>
<rect x="145.51" y="164.64" width="26.96" height="1.55" fill="#ffcbcb"/>
<rect x="145.51" y="166.14" width="26.96" height="3.05" fill="#e9e9ff"/>
<rect x="145.51" y="169.14" width="26.96" height="1.55" fill="#f5f5ff"/>
<rect x="145.51" y="170.64" width="26.96" height="3.05" fill="#bfbfff"/>
<rect x="145.51" y="173.65" width="26.96" height="1.55" fill="#e0e0ff"/>
<rect x="145.51" y="175.15" width="26.96" height="1.55" fill="#fff7f7"/>
<rect x="145.51" y="176.65" width="26.96" height="1.55" fill="#fdfdff"/>
<rect x="145.51" y="178.16" width="26.96" height="1.55" fill="#eaeaff"/>
<rect x="145.51" y="179.66" width="26.96" height="1.55" fill="#fffdfd"/>
<rect x="145.51" y="181.16" width="26.96" height="1.55" fill="#fffefe"/>
<rect x="145.51" y="182.66" width="26.96" height="1.55" fill="#ff6363"/>
<rect x="145.51" y="184.17" width="26.96" height="1.55" fill="#ff6969"/>
<rect x="145.51" y="185.67" width="26.96" height="1.55" fill="#ff6b6b"/>
<rect x="145.51" y="187.17" width="26.96" height="1.55" fill="#ff7979"/>
<rect x="145.51" y="188.67" width="26.96" height="1.55" fill="#ffd6d6"/>
<rect x="145.51" y="190.17" width="26.96" height="1.55" fill="#ffb3b3"/>
<rect x="145.51" y="191.68" width="26.96" height="1.55" fill="#ffc4c4"/>
<rect x="145.51" y="193.18" width="26.96" height="1.55" fill="#ffffff"/>
<rect x="145.51" y="194.68" width="26.96" height="1.55" fill="#fdfdff"/>
<rect x="145.51" y="196.18" width="26.96" height="1.55" fill="#fff1f1"/>
<rect x="145.51" y="197.69" width="26.96" height="1.55" fill="#ffeded"/>
<rect x="145.51" y="199.19" width="26.96" height="1.55" fill="#fffcfc"/>
<rect x="145.51" y="200.69" width="26.96" height="1.55" fill="#ffefef"/>
<rect x="145.51" y="202.19" width="26.96" height="1.55" fill="#c3c3ff"/>
<rect x="145.51" y="203.7" width="26.96" height="1.55" fill="#b4b4ff"/>
<rect x="145.51" y="205.2" width="26.96" height="1.55" fill="#b3b3ff"/>
<rect x="172.42" y="11.4" width="26.96" height="1.55" fill="#5757ff"/>
<rect x="172.42" y="12.9" width="26.96" height="1.55" fill="#5656ff"/>
<rect x="172.42" y="14.4" width="26.96" height="1.55" fill="#7474ff"/>
<rect x="172.42" y="15.91" width="26.96" height="1.55" fill="#2828ff"/>
<rect x="172.42" y="17.41" width="26.96" height="1.55" fill="#4848ff"/>
<rect x="172.42" y="18.91" width="26.96" height="3.05" fill="#4343ff"/>
<rect x="172.42" y="21.92" width="26.96" height="1.55" fill="#c1c1ff"/>
<rect x="172.42" y="23.42" width="26.96" height="1.55" fill="#d1d1ff"/>
<rect x="172.42" y="24.92" width="26.96" height="1.55" fill="#a7a7ff"/>
<rect x="172.42" y="26.42" width="26.96" height="1.55" fill="#a4a4ff"/>
<rect x="172.42" y="27.93" width="26.96" height="1.55" fill="#9c9cff"/>
<rect x="172.42" y="29.43" width="26.96" height="1.55" fill="#6464ff"/>
<rect x="172.42" y="30.93" width="26.96" height="1.55" fill="#7474ff"/>
<rect x="172.42" y="32.43" width="26.96" height="1.55" fill="#c6c6ff"/>
<rect x="172.42" y="33.93" width="26.96" height="1.55" fill="#babaff"/>
<rect x="172.42" y="35.44" width="26.96" height="1.55" fill="#b9b9ff"/>
<rect x="172.42" y="36.94" width="26.96" height="1.55" fill="#bbbbff"/>
<rect x="172.42" y="38.44" width="26.96" height="1.55" fill="#9d9dff"/>
<rect x="172.42" y="39.94" width="26.96" height="1.55" fill="#c3c3ff"/>
<rect x="172.42" y="41.45" width="26.96" height="1.55" fill="#b8b8ff"/>
<rect x="172.42" y="42.95" width="26.96" height="1.55" fill="#afafff"/>
<rect x="172.42" y="44.45" width="26.96" height="1.55" fill="#9696ff"/>
<rect x="172.42" y="45.95" width="26.96" height="1.55" fill="#7575ff"/>
<rect x="172.42" y="47.46" width="26.96" height="1.55" fill="#8b8bff"/>
<rect x="172.42" y="48.96" width="26.96" height="1.55" fill="#8c8cff"/>
<rect x="172.42" y="50.46" width="26.96" height="3.05" fill="#6868ff"/>
<rect x="172.42" y="53.46" width="26.96" height="1.55" fill="#7171ff"/>
<rect x="172.42" y="54.97" width="26.96" height="1.55" fill="#8d8dff"/>
<rect x="172.42" y="56.47" width="26.96" height="1.55" fill="#9393ff"/>
<rect x="172.42" y="57.97" width="26.96" height="1.55" fill="#6d6dff"/>
<rect x="172.42" y="59.47" width="26.96" height="1.55" fill="#9090ff"/>
<rect x="172.42" y="60.98" width="26.96" height="1.55" fill="#7a7aff"/>
<rect x="172.42" y="62.48" width="26.96" height="1.55" fill="#7979ff"/>
<rect x="172.42" y="63.98" width="26.96" height="1.55" fill="#7777ff"/>
<rect x="172.42" y="65.48" width="26.96" height="1.55" fill="#7b7bff"/>
<rect x="172.42" y="66.99" width="26.96" height="1.55" fill="#6464ff"/>
<rect x="172.42" y="68.49" width="26.96" height="1.55" fill="#7070ff"/>
<rect x="172.42" y="69.99" width="26.96" height="1.55" fill="#6d6dff"/>
<rect x="172.42" y="71.49" width="26.96" height="1.55" fill="#8787ff"/>
<rect x="172.42" y="72.99" width="26.96" height="1.55" fill="#9f9fff"/>
<rect x="172.42" y="74.5" width="26.96" height="1.55" fill="#e9e9ff"/>
<rect x="172.42" y="76" width="26.96" height="1.55" fill="#babaff"/>
<rect x="172.42" y="77.5" width="26.96" height="1.55" fill="#6565ff"/>
<rect x="172.42" y="79" width="26.96" height="1.55" fill="#7979ff"/>
<rect x="172.42" y="80.51" width="26.96" height="1.55" fill="#7171ff"/>
<rect x="172.42" y="82.01" width="26.96" height="1.55" fill="#9e9eff"/>
<rect x="172.42" y="83.51" width="26.96" height="1.55" fill="#8888ff"/>
<rect x="172.42" y="85.01" width="26.96" height="1.55" fill="#7474ff"/>
<rect x="172.42" y="86.52" width="26.96" height="1.55" fill="#8e8eff"/>
<rect x="172.42" y="88.02" width="26.96" height="1.55" fill="#8888ff"/>
<rect x="172.42" y="89.52" width="26.96" height="1.55" fill="#6767ff"/>
<rect x="172.42" y="91.02" width="26.96" height="1.55" fill="#7777ff"/>
<rect x="172.42" y="92.52" width="26.96" height="1.55" fill="#7c7cff"/>
<rect x="172.42" y="94.03" width="26.96" height="1.55" fill="#8080ff"/>
<rect x="172.42" y="95.53" width="26.96" height="1.55" fill="#8282ff"/>
<rect x="172.42" y="97.03" width="26.96" height="1.55" fill="#7a7aff"/>
<rect x="172.42" y="98.53" width="26.96" height="1.55" fill="#8282ff"/>
<rect x="172.42" y="100.04" width="26.96" height="1.55" fill="#7777ff"/>
<rect x="172.42" y="101.54" width="26.96" height="1.55" fill="#7272ff"/>
<rect x="172.42" y="103.04" width="26.96" height="1.55" fill="#9797ff"/>
<rect x="172.42" y="104.54" width="26.96" height="1.55" fill="#8585ff"/>
<rect x="172.42" y="106.05" width="26.96" height="1.55" fill="#8686ff"/>
<rect x="172.42" y="107.55" width="26.96" height="1.55" fill="#6767ff"/>
<rect x="172.42" y="109.05" width="26.96" height="1.55" fill="#f7f7ff"/>
<rect x="172.42" y="110.55" width="26.96" height="1.55" fill="#ffffff"/>
<rect x="172.42" y="112.05" width="26.96" height="1.55" fill="#9292ff"/>
<rect x="172.42" y="113.56" width="26.96" height="1.55" fill="#b7b7ff"/>
<rect x="172.42" y="115.06" width="26.96" height="1.55" fill="#a0a0ff"/>
<rect x="172.42" y="116.56" width="26.96" height="1.55" fill="#4646ff"/>
<rect x="172.42" y="118.06" width="26.96" height="1.55" fill="#7d7dff"/>
<rect x="172.42" y="119.57" width="26.96" height="1.55" fill="#8383ff"/>
<rect x="172.42" y="121.07" width="26.96" height="1.55" fill="#9292ff"/>
<rect x="172.42" y="122.57" width="26.96" height="1.55" fill="#7979ff"/>
<rect x="172.42" y="124.07" width="26.96" height="1.55" fill="#4b4bff"/>
<rect x="172.42" y="125.58" width="26.96" height="1.55" fill="#2727ff"/>
<rect x="172.42" y="127.08" width="26.96" height="1.55" fill="#2525ff"/>
<rect x="172.42" y="128.58" width="26.96" height="1.55" fill="#3e3eff"/>
<rect x="172.42" y="130.08" width="26.96" height="1.55" fill="#4949ff"/>
<rect x="172.42" y="131.58" width="26.96" height="1.55" fill="#5454ff"/>
<rect x="172.42" y="133.09" width="26.96" height="1.55" fill="#6767ff"/>
<rect x="172.42" y="134.59" width="26.96" height="1.55" fill="#6c6cff"/>
<rect x="172.42" y="136.09" width="26.96" height="1.55" fill="#ff9b9b"/>
<rect x="172.42" y="137.59" width="26.96" height="1.55" fill="#ff7878"/>
<rect x="172.42" y="139.1" width="26.96" height="1.55" fill="#ff6363"/>
<rect x="172.42" y="140.6" width="26.96" height="1.55" fill="#ff6d6d"/>
<rect x="172.42" y="142.1" width="26.96" height="1.55" fill="#afafff"/>
<rect x="172.42" y="143.6" width="26.96" height="1.55" fill="#a9a9ff"/>
<rect x="172.42" y="145.11" width="26.96" height="1.55" fill="#aeaeff"/>
<rect x="172.42" y="146.61" width="26.96" height="1.55" fill="#f6f6ff"/>
<rect x="172.42" y="148.11" width="26.96" height="1.55" fill="#fdfdff"/>
<rect x="172.42" y="149.61" width="26.96" height="1.55" fill="#d6d6ff"/>
<rect x="172.42" y="151.11" width="26.96" height="1.55" fill="#fefeff"/>
<rect x="172.42" y="152.62" width="26.96" height="1.55" fill="#b8b8ff"/>
<rect x="172.42" y="154.12" width="26.96" height="1.55" fill="#a2a2ff"/>
<rect x="172.42" y="155.62" width="26.96" height="1.55" fill="#8f8fff"/>
<rect x="172.42" y="157.12" width="26.96" height="1.55" fill="#b6b6ff"/>
<rect x="172.42" y="158.63" width="26.96" height="1.55" fill="#9595ff"/>
<rect x="172.42" y="160.13" width="26.96" height="1.55" fill="#9f9fff"/>
<rect x="172.42" y="161.63" width="26.96" height="1.55" fill="#a4a4ff"/>
<rect x="172.42" y="163.13" width="26.96" height="1.55" fill="#5454ff"/>
<rect x="172.42" y="164.64" width="26.96" height="1.55" fill="#4a4aff"/>
<rect x="172.42" y="166.14" width="26.96" height="1.55" fill="#5555ff"/>
<rect x="172.42" y="167.64" width="26.96" height="1.55" fill="#aeaeff"/>
<rect x="172.42" y="169.14" width="26.96" height="1.55" fill="#8383ff"/>
<rect x="172.42" y="170.64" width="26.96" height="1.55" fill="#ffc1c1"/>
<rect x="172.42" y="172.15" width="26.96" height="1.55" fill="#ffaeae"/>
<rect x="172.42" y="173.65" width="26.96" height="3.05" fill="#ffb4b4"/>
<rect x="172.42" y="176.65" width="26.96" height="1.55" fill="#ffb2b2"/>
<rect x="172.42" y="178.16" width="26.96" height="1.55" fill="#ffdddd"/>
<rect x="172.42" y="179.66" width="26.96" height="1.55" fill="#ffcccc"/>
<rect x="172.42" y="181.16" width="26.96" height="1.55" fill="#dbdbff"/>
<rect x="172.42" y="182.66" width="26.96" height="1.55" fill="#ffdede"/>
<rect x="172.42" y="184.17" width="26.96" height="1.55" fill="#ffd2d2"/>
<rect x="172.42" y="185.67" width="26.96" height="1.55" fill="#ffdede"/>
<rect x="172.42" y="187.17" width="26.96" height="1.55" fill="#efefff"/>
<rect x="172.42" y="188.67" width="26.96" height="1.55" fill="#f3f3ff"/>
<rect x="172.42" y="190.17" width="26.96" height="1.55" fill="#ffe9e9"/>
<rect x="172.42" y="191.68" width="26.96" height="1.55" fill="#ffe2e2"/>
<rect x="172.42" y="193.18" width="26.96" height="1.55" fill="#ff9b9b"/>
<rect x="172.42" y="194.68" width="26.96" height="1.55" fill="#ffabab"/>
<rect x="172.42" y="196.18" width="26.96" height="1.55" fill="#ffb2b2"/>
<rect x="172.42" y="197.69" width="26.96" height="1.55" fill="#ffb3b3"/>
<rect x="172.42" y="199.19" width="26.96" height="1.55" fill="#ff9595"/>
<rect x="172.42" y="200.69" width="26.96" height="1.55" fill="#ff9292"/>
<rect x="172.42" y="202.19" width="26.96" height="1.55" fill="#ff0000"/>
<rect x="172.42" y="203.7" width="26.96" height="1.55" fill="#ff7f7f"/>
<rect x="172.42" y="205.2" width="26.96" height="1.55" fill="#ff8080"/>
<rect x="199.33" y="11.4" width="26.96" height="1.55" fill="#d9d9ff"/>
<rect x="199.33" y="12.9" width="26.96" height="1.55" fill="#e3e3ff"/>
<rect x="199.33" y="14.4" width="26.96" height="1.55" fill="#f7f7ff"/>
<rect x="199.33" y="15.91" width="26.96" height="1.55" fill="#ffc2c2"/>
<rect x="199.33" y="17.41" width="26.96" height="1.55" fill="#b4b4ff"/>
<rect x="199.33" y="18.91" width="26.96" height="1.55" fill="#cacaff"/>
<rect x="199.33" y="20.41" width="26.96" height="1.55" fill="#7777ff"/>
<rect x="199.33" y="21.92" width="26.96" height="1.55" fill="#9797ff"/>
<rect x="199.33" y="23.42" width="26.96" height="1.55" fill="#9f9fff"/>
<rect x="199.33" y="24.92" width="26.96" height="1.55" fill="#aeaeff"/>
<rect x="199.33" y="26.42" width="26.96" height="1.55" fill="#cdcdff"/>
<rect x="199.33" y="27.93" width="26.96" height="1.55" fill="#cacaff"/>
<rect x="199.33" y="29.43" width="26.96" height="1.55" fill="#ccccff"/>
<rect x="199.33" y="30.93" width="26.96" height="1.55" fill="#aeaeff"/>
<rect x="199.33" y="32.43" width="26.96" height="1.55" fill="#c6c6ff"/>
<rect x="199.33" y="33.93" width="26.96" height="1.55" fill="#b7b7ff"/>
<rect x="199.33" y="35.44" width="26.96" height="1.55" fill="#a4a4ff"/>
<rect x="199.33" y="36.94" width="26.96" height="1.55" fill="#8a8aff"/>
<rect x="199.33" y="38.44" width="26.96" height="1.55" fill="#b1b1ff"/>
<rect x="199.33" y="39.94" width="26.96" height="1.55" fill="#9e9eff"/>
<rect x="199.33" y="41.45" width="26.96" height="1.55" fill="#9898ff"/>
<rect x="199.33" y="42.95" width="26.96" height="1.55" fill="#9f9fff"/>
<rect x="199.33" y="44.45" width="26.96" height="1.55" fill="#fefeff"/>
<rect x="199.33" y="45.95" width="26.96" height="1.55" fill="#ffebeb"/>
<rect x="199.33" y="47.46" width="26.96" height="1.55" fill="#fcfcff"/>
<rect x="199.33" y="48.96" width="26.96" height="1.55" fill="#f6f6ff"/>
<rect x="199.33" y="50.46" width="26.96" height="1.55" fill="#dadaff"/>
<rect x="199.33" y="51.96" width="26.96" height="1.55" fill="#f1f1ff"/>
<rect x="199.33" y="53.46" width="26.96" height="1.55" fill="#d8d8ff"/>
<rect x="199.33" y="54.97" width="26.96" height="1.55" fill="#e0e0ff"/>
<rect x="199.33" y="56.47" width="26.96" height="1.55" fill="#e1e1ff"/>
<rect x="199.33" y="57.97" width="26.96" height="1.55" fill="#a5a5ff"/>
<rect x="199.33" y="59.47" width="26.96" height="1.55" fill="#b4b4ff"/>
<rect x="199.33" y="60.98" width="26.96" height="1.55" fill="#d1d1ff"/>
<rect x="199.33" y="62.48" width="26.96" height="1.55" fill="#c6c6ff"/>
<rect x="199.33" y="63.98" width="26.96" height="1.55" fill="#ffd8d8"/>
<rect x="199.33" y="65.48" width="26.96" height="1.55" fill="#fffafa"/>
<rect x="199.33" y="66.99" width="26.96" height="1.55" fill="#fffefe"/>
<rect x="199.33" y="68.49" width="26.96" height="1.55" fill="#f8f8ff"/>
<rect x="199.33" y="69.99" width="26.96" height="1.55" fill="#babaff"/>
<rect x="199.33" y="71.49" width="26.96" height="1.55" fill="#e0e0ff"/>
<rect x="199.33" y="72.99" width="26.96" height="1.55" fill="#d7d7ff"/>
<rect x="199.33" y="74.5" width="26.96" height="1.55" fill="#9999ff"/>
<rect x="199.33" y="76" width="26.96" height="1.55" fill="#b2b2ff"/>
<rect x="199.33" y="77.5" width="26.96" height="1.55" fill="#9b9bff"/>
<rect x="199.33" y="79" width="26.96" height="1.55" fill="#b2b2ff"/>
<rect x="199.33" y="80.51" width="26.96" height="1.55" fill="#b5b5ff"/>
<rect x="199.33" y="82.01" width="26.96" height="1.55" fill="#9e9eff"/>
<rect x="199.33" y="83.51" width="26.96" height="1.55" fill="#9c9cff"/>
<rect x="199.33" y="85.01" width="26.96" height="1.55" fill="#b5b5ff"/>
<rect x="199.33" y="86.52" width="26.96" height="1.55" fill="#a1a1ff"/>
<rect x="199.33" y="88.02" width="26.96" height="1.55" fill="#adadff"/>
<rect x="199.33" y="89.52" width="26.96" height="1.55" fill="#c4c4ff"/>
<rect x="199.33" y="91.02" width="26.96" height="1.55" fill="#c8c8ff"/>
<rect x="199.33" y="92.52" width="26.96" height="1.55" fill="#b7b7ff"/>
<rect x="199.33" y="94.03" width="26.96" height="1.55" fill="#bcbcff"/>
<rect x="199.33" y="95.53" width="26.96" height="1.55" fill="#ccccff"/>
<rect x="199.33" y="97.03" width="26.96" height="1.55" fill="#8b8bff"/>
<rect x="199.33" y="98.53" width="26.96" height="1.55" fill="#b9b9ff"/>
<rect x="199.33" y="100.04" width="26.96" height="1.55" fill="#afafff"/>
<rect x="199.33" y="101.54" width="26.96" height="1.55" fill="#ffeeee"/>
<rect x="199.33" y="103.04" width="26.96" height="1.55" fill="#fff8f8"/>
<rect x="199.33" y="104.54" width="26.96" height="1.55" fill="#f2f2ff"/>
<rect x="199.33" y="106.05" width="26.96" height="1.55" fill="#fffcfc"/>
<rect x="199.33" y="107.55" width="26.96" height="1.55" fill="#6b6bff"/>
<rect x="199.33" y="109.05" width="26.96" height="1.55" fill="#b5b5ff"/>
<rect x="199.33" y="110.55" width="26.96" height="1.55" fill="#9696ff"/>
<rect x="199.33" y="112.05" width="26.96" height="4.56" fill="#a4a4ff"/>
<rect x="199.33" y="116.56" width="26.96" height="1.55" fill="#b6b6ff"/>
<rect x="199.33" y="118.06" width="26.96" height="1.55" fill="#a3a3ff"/>
<rect x="199.33" y="119.57" width="26.96" height="1.55" fill="#c6c6ff"/>
<rect x="199.33" y="121.07" width="26.96" height="1.55" fill="#cfcfff"/>
<rect x="199.33" y="122.57" width="26.96" height="1.55" fill="#a5a5ff"/>
<rect x="199.33" y="124.07" width="26.96" height="1.55" fill="#9696ff"/>
<rect x="199.33" y="125.58" width="26.96" height="1.55" fill="#a9a9ff"/>
<rect x="199.33" y="127.08" width="26.96" height="1.55" fill="#aeaeff"/>
<rect x="199.33" y="128.58" width="26.96" height="1.55" fill="#a3a3ff"/>
<rect x="199.33" y="130.08" width="26.96" height="1.55" fill="#a6a6ff"/>
<rect x="199.33" y="131.58" width="26.96" height="1.55" fill="#bbbbff"/>
<rect x="199.33" y="133.09" width="26.96" height="1.55" fill="#9595ff"/>
<rect x="199.33" y="134.59" width="26.96" height="1.55" fill="#8484ff"/>
<rect x="199.33" y="136.09" width="26.96" height="1.55" fill="#6f6fff"/>
<rect x="199.33" y="137.59" width="26.96" height="1.55" fill="#a8a8ff"/>
<rect x="199.33" y="139.1" width="26.96" height="1.55" fill="#a7a7ff"/>
<rect x="199.33" y="140.6" width="26.96" height="1.55" fill="#b1b1ff"/>
<rect x="199.33" y="142.1" width="26.96" height="1.55" fill="#8282ff"/>
<rect x="199.33" y="143.6" width="26.96" height="1.55" fill="#a8a8ff"/>
<rect x="199.33" y="145.11" width="26.96" height="1.55" fill="#c9c9ff"/>
<rect x="199.33" y="146.61" width="26.96" height="1.55" fill="#8b8bff"/>
<rect x="199.33" y="148.11" width="26.96" height="1.55" fill="#aeaeff"/>
<rect x="199.33" y="149.61" width="26.96" height="1.55" fill="#d8d8ff"/>
<rect x="199.33" y="151.11" width="26.96" height="1.55" fill="#bebeff"/>
<rect x="199.33" y="152.62" width="26.96" height="1.55" fill="#dfdfff"/>
<rect x="199.33" y="154.12" width="26.96" height="1.55" fill="#cacaff"/>
<rect x="199.33" y="155.62" width="26.96" height="1.55" fill="#ff4040"/>
<rect x="199.33" y="157.12" width="26.96" height="1.55" fill="#ff6c6c"/>
<rect x="199.33" y="158.63" width="26.96" height="1.55" fill="#ff6262"/>
<rect x="199.33" y="160.13" width="26.96" height="1.55" fill="#ffb2b2"/>
<rect x="199.33" y="161.63" width="26.96" height="1.55" fill="#ff9898"/>
<rect x="199.33" y="163.13" width="26.96" height="1.55" fill="#ffa9a9"/>
<rect x="199.33" y="164.64" width="26.96" height="1.55" fill="#ff9a9a"/>
<rect x="199.33" y="166.14" width="26.96" height="1.55" fill="#ff9f9f"/>
<rect x="199.33" y="167.64" width="26.96" height="1.55" fill="#ffa2a2"/>
<rect x="199.33" y="169.14" width="26.96" height="3.05" fill="#ff8b8b"/>
<rect x="199.33" y="172.15" width="26.96" height="1.55" fill="#ff6565"/>
<rect x="199.33" y="173.65" width="26.96" height="1.55" fill="#ffdada"/>
<rect x="199.33" y="175.15" width="26.96" height="1.55" fill="#ffdcdc"/>
<rect x="199.33" y="176.65" width="26.96" height="1.55" fill="#ddddff"/>
<rect x="199.33" y="178.16" width="26.96" height="1.55" fill="#fdfdff"/>
<rect x="199.33" y="179.66" width="26.96" height="1.55" fill="#fcfcff"/>
<rect x="199.33" y="181.16" width="26.96" height="1.55" fill="#c0c0ff"/>
<rect x="199.33" y="182.66" width="26.96" height="1.55" fill="#c1c1ff"/>
<rect x="199.33" y="184.17" width="26.96" height="1.55" fill="#ffdddd"/>
<rect x="199.33" y="185.67" width="26.96" height="1.55" fill="#f8f8ff"/>
<rect x="199.33" y="187.17" width="26.96" height="1.55" fill="#fdfdff"/>
<rect x="199.33" y="188.67" width="26.96" height="1.55" fill="#a2a2ff"/>
<rect x="199.33" y="190.17" width="26.96" height="1.55" fill="#8c8cff"/>
<rect x="199.33" y="191.68" width="26.96" height="1.55" fill="#8484ff"/>
<rect x="199.33" y="193.18" width="26.96" height="1.55" fill="#b3b3ff"/>
<rect x="199.33" y="194.68" width="26.96" height="1.55" fill="#cfcfff"/>
<rect x="199.33" y="196.18" width="26.96" height="1.55" fill="#8c8cff"/>
<rect x="199.33" y="197.69" width="26.96" height="1.55" fill="#7979ff"/>
<rect x="199.33" y="199.19" width="26.96" height="1.55" fill="#ffe9e9"/>
<rect x="199.33" y="200.69" width="26.96" height="1.55" fill="#ffd9d9"/>
<rect x="199.33" y="202.19" width="26.96" height="1.55" fill="#cfcfff"/>
<rect x="199.33" y="203.7" width="26.96" height="1.55" fill="#efefff"/>
<rect x="199.33" y="205.2" width="26.96" height="1.55" fill="#e9e9ff"/>
<rect x="226.24" y="11.4" width="26.96" height="1.55" fill="#c7c7ff"/>
<rect x="226.24" y="12.9" width="26.96" height="1.55" fill="#d1d1ff"/>
<rect x="226.24" y="14.4" width="26.96" height="1.55" fill="#f2f2ff"/>
<rect x="226.24" y="15.91" width="26.96" height="1.55" fill="#ffebeb"/>
<rect x="226.24" y="17.41" width="26.96" height="1.55" fill="#e1e1ff"/>
<rect x="226.24" y="18.91" width="26.96" height="1.55" fill="#ededff"/>
<rect x="226.24" y="20.41" width="26.96" height="1.55" fill="#fff8f8"/>
<rect x="226.24" y="21.92" width="26.96" height="1.55" fill="#9595ff"/>
<rect x="226.24" y="23.42" width="26.96" height="1.55" fill="#afafff"/>
<rect x="226.24" y="24.92" width="26.96" height="1.55" fill="#9898ff"/>
<rect x="226.24" y="26.42" width="26.96" height="1.55" fill="#9b9bff"/>
<rect x="226.24" y="27.93" width="26.96" height="1.55" fill="#9393ff"/>
<rect x="226.24" y="29.43" width="26.96" height="1.55" fill="#b7b7ff"/>
<rect x="226.24" y="30.93" width="26.96" height="1.55" fill="#bdbdff"/>
<rect x="226.24" y="32.43" width="26.96" height="1.55" fill="#2222ff"/>
<rect x="226.24" y="33.93" width="26.96" height="1.55" fill="#0a0aff"/>
<rect x="226.24" y="35.44" width="26.96" height="1.55" fill="#0909ff"/>
<rect x="226.24" y="36.94" width="26.96" height="1.55" fill="#0f0fff"/>
<rect x="226.24" y="38.44" width="26.96" height="1.55" fill="#0909ff"/>
<rect x="226.24" y="39.94" width="26.96" height="1.55" fill="#1010ff"/>
<rect x="226.24" y="41.45" width="26.96" height="1.55" fill="#6262ff"/>
<rect x="226.24" y="42.95" width="26.96" height="1.55" fill="#6363ff"/>
<rect x="226.24" y="44.45" width="26.96" height="1.55" fill="#7575ff"/>
<rect x="226.24" y="45.95" width="26.96" height="1.55" fill="#2121ff"/>
<rect x="226.24" y="47.46" width="26.96" height="1.55" fill="#1212ff"/>
<rect x="226.24" y="48.96" width="26.96" height="1.55" fill="#2323ff"/>
<rect x="226.24" y="50.46" width="26.96" height="1.55" fill="#1e1eff"/>
<rect x="226.24" y="51.96" width="26.96" height="1.55" fill="#3030ff"/>
<rect x="226.24" y="53.46" width="26.96" height="1.55" fill="#1b1bff"/>
<rect x="226.24" y="54.97" width="26.96" height="1.55" fill="#1616ff"/>
<rect x="226.24" y="56.47" width="26.96" height="1.55" fill="#2121ff"/>
<rect x="226.24" y="57.97" width="26.96" height="1.55" fill="#7171ff"/>
<rect x="226.24" y="59.47" width="26.96" height="1.55" fill="#5959ff"/>
<rect x="226.24" y="60.98" width="26.96" height="1.55" fill="#5c5cff"/>
<rect x="226.24" y="62.48" width="26.96" height="1.55" fill="#5959ff"/>
<rect x="226.24" y="63.98" width="26.96" height="1.55" fill="#3838ff"/>
<rect x="226.24" y="65.48" width="26.96" height="1.55" fill="#4141ff"/>
<rect x="226.24" y="66.99" width="26.96" height="1.55" fill="#4848ff"/>
<rect x="226.24" y="68.49" width="26.96" height="1.55" fill="#4d4dff"/>
<rect x="226.24" y="69.99" width="26.96" height="1.55" fill="#7b7bff"/>
<rect x="226.24" y="71.49" width="26.96" height="1.55" fill="#6666ff"/>
<rect x="226.24" y="72.99" width="26.96" height="1.55" fill="#6161ff"/>
<rect x="226.24" y="74.5" width="26.96" height="1.55" fill="#a4a4ff"/>
<rect x="226.24" y="76" width="26.96" height="1.55" fill="#7d7dff"/>
<rect x="226.24" y="77.5" width="26.96" height="1.55" fill="#9d9dff"/>
<rect x="226.24" y="79" width="26.96" height="1.55" fill="#8e8eff"/>
<rect x="226.24" y="80.51" width="26.96" height="1.55" fill="#7070ff"/>
<rect x="226.24" y="82.01" width="26.96" height="1.55" fill="#8787ff"/>
<rect x="226.24" y="83.51" width="26.96" height="1.55" fill="#8b8bff"/>
<rect x="226.24" y="85.01" width="26.96" height="1.55" fill="#7e7eff"/>
<rect x="226.24" y="86.52" width="26.96" height="1.55" fill="#5c5cff"/>
<rect x="226.24" y="88.02" width="26.96" height="1.55" fill="#7a7aff"/>
<rect x="226.24" y="89.52" width="26.96" height="1.55" fill="#5656ff"/>
<rect x="226.24" y="91.02" width="26.96" height="1.55" fill="#4848ff"/>
<rect x="226.24" y="92.52" width="26.96" height="1.55" fill="#7575ff"/>
<rect x="226.24" y="94.03" width="26.96" height="1.55" fill="#5656ff"/>
<rect x="226.24" y="95.53" width="26.96" height="1.55" fill="#5353ff"/>
<rect x="226.24" y="97.03" width="26.96" height="1.55" fill="#1515ff"/>
<rect x="226.24" y="98.53" width="26.96" height="3.05" fill="#0e0eff"/>
<rect x="226.24" y="101.54" width="26.96" height="1.55" fill="#a7a7ff"/>
<rect x="226.24" y="103.04" width="26.96" height="1.55" fill="#ababff"/>
<rect x="226.24" y="104.54" width="26.96" height="1.55" fill="#9e9eff"/>
<rect x="226.24" y="106.05" width="26.96" height="1.55" fill="#a4a4ff"/>
<rect x="226.24" y="107.55" width="26.96" height="1.55" fill="#4444ff"/>
<rect x="226.24" y="109.05" width="26.96" height="1.55" fill="#6161ff"/>
<rect x="226.24" y="110.55" width="26.96" height="1.55" fill="#4e4eff"/>
<rect x="226.24" y="112.05" width="26.96" height="1.55" fill="#5d5dff"/>
<rect x="226.24" y="113.56" width="26.96" height="1.55" fill="#4b4bff"/>
<rect x="226.24" y="115.06" width="26.96" height="1.55" fill="#5151ff"/>
<rect x="226.24" y="116.56" width="26.96" height="1.55" fill="#9c9cff"/>
<rect x="226.24" y="118.06" width="26.96" height="1.55" fill="#8686ff"/>
<rect x="226.24" y="119.57" width="26.96" height="1.55" fill="#bfbfff"/>
<rect x="226.24" y="121.07" width="26.96" height="3.05" fill="#9898ff"/>
<rect x="226.24" y="124.07" width="26.96" height="1.55" fill="#8e8eff"/>
<rect x="226.24" y="125.58" width="26.96" height="1.55" fill="#b1b1ff"/>
<rect x="226.24" y="127.08" width="26.96" height="1.55" fill="#aeaeff"/>
<rect x="226.24" y="128.58" width="26.96" height="1.55" fill="#9e9eff"/>
<rect x="226.24" y="130.08" width="26.96" height="1.55" fill="#8484ff"/>
<rect x="226.24" y="131.58" width="26.96" height="1.55" fill="#9191ff"/>
<rect x="226.24" y="133.09" width="26.96" height="1.55" fill="#a2a2ff"/>
<rect x="226.24" y="134.59" width="26.96" height="1.55" fill="#9191ff"/>
<rect x="226.24" y="136.09" width="26.96" height="3.05" fill="#8787ff"/>
<rect x="226.24" y="139.1" width="26.96" height="1.55" fill="#8d8dff"/>
<rect x="226.24" y="140.6" width="26.96" height="1.55" fill="#2626ff"/>
<rect x="226.24" y="142.1" width="26.96" height="1.55" fill="#1c1cff"/>
<rect x="226.24" y="143.6" width="26.96" height="1.55" fill="#c0c0ff"/>
<rect x="226.24" y="145.11" width="26.96" height="1.55" fill="#5e5eff"/>
<rect x="226.24" y="146.61" width="26.96" height="1.55" fill="#4e4eff"/>
<rect x="226.24" y="148.11" width="26.96" height="1.55" fill="#2323ff"/>
<rect x="226.24" y="149.61" width="26.96" height="1.55" fill="#0505ff"/>
<rect x="226.24" y="151.11" width="26.96" height="1.55" fill="#0101ff"/>
<rect x="226.24" y="152.62" width="26.96" height="1.55" fill="#0000ff"/>
<rect x="226.24" y="154.12" width="26.96" height="1.55" fill="#fff7f7"/>
<rect x="226.24" y="155.62" width="26.96" height="1.55" fill="#fcfcff"/>
<rect x="226.24" y="157.12" width="26.96" height="1.55" fill="#ffc4c4"/>
<rect x="226.24" y="158.63" width="26.96" height="1.55" fill="#ffc5c5"/>
<rect x="226.24" y="160.13" width="26.96" height="1.55" fill="#ffdada"/>
<rect x="226.24" y="161.63" width="26.96" height="1.55" fill="#ffc5c5"/>
<rect x="226.24" y="163.13" width="26.96" height="1.55" fill="#ff9a9a"/>
<rect x="226.24" y="164.64" width="26.96" height="1.55" fill="#ffbaba"/>
<rect x="226.24" y="166.14" width="26.96" height="1.55" fill="#ffa0a0"/>
<rect x="226.24" y="167.64" width="26.96" height="1.55" fill="#ffa5a5"/>
<rect x="226.24" y="169.14" width="26.96" height="1.55" fill="#ff8d8d"/>
<rect x="226.24" y="170.64" width="26.96" height="1.55" fill="#ff9696"/>
<rect x="226.24" y="172.15" width="26.96" height="1.55" fill="#ff8b8b"/>
<rect x="226.24" y="173.65" width="26.96" height="1.55" fill="#ff9a9a"/>
<rect x="226.24" y="175.15" width="26.96" height="1.55" fill="#ffdcdc"/>
<rect x="226.24" y="176.65" width="26.96" height="1.55" fill="#ffb8b8"/>
<rect x="226.24" y="178.16" width="26.96" height="1.55" fill="#ffbcbc"/>
<rect x="226.24" y="179.66" width="26.96" height="1.55" fill="#fffbfb"/>
<rect x="226.24" y="181.16" width="26.96" height="1.55" fill="#ff2d2d"/>
<rect x="226.24" y="182.66" width="26.96" height="1.55" fill="#ffb1b1"/>
<rect x="226.24" y="184.17" width="26.96" height="3.05" fill="#ffbdbd"/>
<rect x="226.24" y="187.17" width="26.96" height="1.55" fill="#ffadad"/>
<rect x="226.24" y="188.67" width="26.96" height="1.55" fill="#ff7a7a"/>
<rect x="226.24" y="190.17" width="26.96" height="1.55" fill="#ff8d8d"/>
<rect x="226.24" y="191.68" width="26.96" height="1.55" fill="#ff9a9a"/>
<rect x="226.24" y="193.18" width="26.96" height="1.55" fill="#ffa5a5"/>
<rect x="226.24" y="194.68" width="26.96" height="1.55" fill="#ffbbbb"/>
<rect x="226.24" y="196.18" width="26.96" height="1.55" fill="#ffa1a1"/>
<rect x="226.24" y="197.69" width="26.96" height="1.55" fill="#ffb3b3"/>
<rect x="226.24" y="199.19" width="26.96" height="1.55" fill="#1111ff"/>
<rect x="226.24" y="200.69" width="26.96" height="1.55" fill="#2626ff"/>
<rect x="226.24" y="202.19" width="26.96" height="1.55" fill="#b9b9ff"/>
<rect x="226.24" y="203.7" width="26.96" height="1.55" fill="#d9d9ff"/>
<rect x="226.24" y="205.2" width="26.96" height="1.55" fill="#d1d1ff"/>
<rect x="253.15" y="11.4" width="26.96" height="1.55" fill="#ebebff"/>
<rect x="253.15" y="12.9" width="26.96" height="1.55" fill="#e9e9ff"/>
<rect x="253.15" y="14.4" width="26.96" height="1.55" fill="#ff6969"/>
<rect x="253.15" y="15.91" width="26.96" height="1.55" fill="#ff6060"/>
<rect x="253.15" y="17.41" width="26.96" height="1.55" fill="#8787ff"/>
<rect x="253.15" y="18.91" width="26.96" height="1.55" fill="#fff1f1"/>
<rect x="253.15" y="20.41" width="26.96" height="1.55" fill="#ffe5e5"/>
<rect x="253.15" y="21.92" width="26.96" height="1.55" fill="#a0a0ff"/>
<rect x="253.15" y="23.42" width="26.96" height="1.55" fill="#ababff"/>
<rect x="253.15" y="24.92" width="26.96" height="1.55" fill="#d5d5ff"/>
<rect x="253.15" y="26.42" width="26.96" height="1.55" fill="#cbcbff"/>
<rect x="253.15" y="27.93" width="26.96" height="1.55" fill="#c6c6ff"/>
<rect x="253.15" y="29.43" width="26.96" height="1.55" fill="#bcbcff"/>
<rect x="253.15" y="30.93" width="26.96" height="1.55" fill="#ceceff"/>
<rect x="253.15" y="32.43" width="26.96" height="1.55" fill="#e4e4ff"/>
<rect x="253.15" y="33.93" width="26.96" height="1.55" fill="#eeeeff"/>
<rect x="253.15" y="35.44" width="26.96" height="1.55" fill="#d6d6ff"/>
<rect x="253.15" y="36.94" width="26.96" height="1.55" fill="#f9f9ff"/>
<rect x="253.15" y="38.44" width="26.96" height="1.55" fill="#e0e0ff"/>
<rect x="253.15" y="39.94" width="26.96" height="1.55" fill="#ebebff"/>
<rect x="253.15" y="41.45" width="26.96" height="1.55" fill="#9494ff"/>
<rect x="253.15" y="42.95" width="26.96" height="1.55" fill="#8686ff"/>
<rect x="253.15" y="44.45" width="26.96" height="1.55" fill="#ffd3d3"/>
<rect x="253.15" y="45.95" width="26.96" height="3.05" fill="#fafaff"/>
<rect x="253.15" y="48.96" width="26.96" height="1.55" fill="#e3e3ff"/>
<rect x="253.15" y="50.46" width="26.96" height="1.55" fill="#f0f0ff"/>
<rect x="253.15" y="51.96" width="26.96" height="1.55" fill="#e0e0ff"/>
<rect x="253.15" y="53.46" width="26.96" height="1.55" fill="#e6e6ff"/>
<rect x="253.15" y="54.97" width="26.96" height="1.55" fill="#fafaff"/>
<rect x="253.15" y="56.47" width="26.96" height="1.55" fill="#fff4f4"/>
<rect x="253.15" y="57.97" width="26.96" height="1.55" fill="#dfdfff"/>
<rect x="253.15" y="59.47" width="26.96" height="1.55" fill="#ececff"/>
<rect x="253.15" y="60.98" width="26.96" height="1.55" fill="#fafaff"/>
<rect x="253.15" y="62.48" width="26.96" height="1.55" fill="#e2e2ff"/>
<rect x="253.15" y="63.98" width="26.96" height="1.55" fill="#e4e4ff"/>
<rect x="253.15" y="65.48" width="26.96" height="1.55" fill="#cdcdff"/>
<rect x="253.15" y="66.99" width="26.96" height="1.55" fill="#e2e2ff"/>
<rect x="253.15" y="68.49" width="26.96" height="1.55" fill="#dfdfff"/>
<rect x="253.15" y="69.99" width="26.96" height="1.55" fill="#ebebff"/>
<rect x="253.15" y="71.49" width="26.96" height="1.55" fill="#dedeff"/>
<rect x="253.15" y="72.99" width="26.96" height="1.55" fill="#c6c6ff"/>
<rect x="253.15" y="74.5" width="26.96" height="1.55" fill="#c9c9ff"/>
<rect x="253.15" y="76" width="26.96" height="1.55" fill="#aeaeff"/>
<rect x="253.15" y="77.5" width="26.96" height="1.55" fill="#cbcbff"/>
<rect x="253.15" y="79" width="26.96" height="1.55" fill="#d6d6ff"/>
<rect x="253.15" y="80.51" width="26.96" height="1.55" fill="#c8c8ff"/>
<rect x="253.15" y="82.01" width="26.96" height="1.55" fill="#b7b7ff"/>
<rect x="253.15" y="83.51" width="26.96" height="1.55" fill="#d1d1ff"/>
<rect x="253.15" y="85.01" width="26.96" height="1.55" fill="#c2c2ff"/>
<rect x="253.15" y="86.52" width="26.96" height="1.55" fill="#b9b9ff"/>
<rect x="253.15" y="88.02" width="26.96" height="1.55" fill="#c7c7ff"/>
<rect x="253.15" y="89.52" width="26.96" height="1.55" fill="#e2e2ff"/>
<rect x="253.15" y="91.02" width="26.96" height="1.55" fill="#c7c7ff"/>
<rect x="253.15" y="92.52" width="26.96" height="1.55" fill="#ceceff"/>
<rect x="253.15" y="94.03" width="26.96" height="1.55" fill="#c7c7ff"/>
<rect x="253.15" y="95.53" width="26.96" height="1.55" fill="#b2b2ff"/>
<rect x="253.15" y="97.03" width="26.96" height="1.55" fill="#c4c4ff"/>
<rect x="253.15" y="98.53" width="26.96" height="1.55" fill="#d1d1ff"/>
<rect x="253.15" y="100.04" width="26.96" height="1.55" fill="#cfcfff"/>
<rect x="253.15" y="101.54" width="26.96" height="1.55" fill="#b0b0ff"/>
<rect x="253.15" y="103.04" width="26.96" height="1.55" fill="#9292ff"/>
<rect x="253.15" y="104.54" width="26.96" height="1.55" fill="#c5c5ff"/>
<rect x="253.15" y="106.05" width="26.96" height="1.55" fill="#bebeff"/>
<rect x="253.15" y="107.55" width="26.96" height="1.55" fill="#dcdcff"/>
<rect x="253.15" y="109.05" width="26.96" height="1.55" fill="#e0e0ff"/>
<rect x="253.15" y="110.55" width="26.96" height="1.55" fill="#c5c5ff"/>
<rect x="253.15" y="112.05" width="26.96" height="1.55" fill="#fafaff"/>
<rect x="253.15" y="113.56" width="26.96" height="1.55" fill="#fffdfd"/>
<rect x="253.15" y="115.06" width="26.96" height="1.55" fill="#fff2f2"/>
<rect x="253.15" y="116.56" width="26.96" height="1.55" fill="#ccccff"/>
<rect x="253.15" y="118.06" width="26.96" height="1.55" fill="#e2e2ff"/>
<rect x="253.15" y="119.57" width="26.96" height="1.55" fill="#dbdbff"/>
<rect x="253.15" y="121.07" width="26.96" height="1.55" fill="#eeeeff"/>
<rect x="253.15" y="122.57" width="26.96" height="1.55" fill="#d6d6ff"/>
<rect x="253.15" y="124.07" width="26.96" height="1.55" fill="#bbbbff"/>
<rect x="253.15" y="125.58" width="26.96" height="1.55" fill="#acacff"/>
<rect x="253.15" y="127.08" width="26.96" height="1.55" fill="#c0c0ff"/>
<rect x="253.15" y="128.58" width="26.96" height="1.55" fill="#bbbbff"/>
<rect x="253.15" y="130.08" width="26.96" height="1.55" fill="#a8a8ff"/>
<rect x="253.15" y="131.58" width="26.96" height="1.55" fill="#cdcdff"/>
<rect x="253.15" y="133.09" width="26.96" height="1.55" fill="#b7b7ff"/>
<rect x="253.15" y="134.59" width="26.96" height="1.55" fill="#cacaff"/>
<rect x="253.15" y="136.09" width="26.96" height="1.55" fill="#ababff"/>
<rect x="253.15" y="137.59" width="26.96" height="1.55" fill="#d0d0ff"/>
<rect x="253.15" y="139.1" width="26.96" height="1.55" fill="#a9a9ff"/>
<rect x="253.15" y="140.6" width="26.96" height="1.55" fill="#cfcfff"/>
<rect x="253.15" y="142.1" width="26.96" height="1.55" fill="#a4a4ff"/>
<rect x="253.15" y="143.6" width="26.96" height="1.55" fill="#aeaeff"/>
<rect x="253.15" y="145.11" width="26.96" height="1.55" fill="#9393ff"/>
<rect x="253.15" y="146.61" width="26.96" height="1.55" fill="#b4b4ff"/>
<rect x="253.15" y="148.11" width="26.96" height="1.55" fill="#c8c8ff"/>
<rect x="253.15" y="149.61" width="26.96" height="1.55" fill="#ebebff"/>
<rect x="253.15" y="151.11" width="26.96" height="1.55" fill="#d6d6ff"/>
<rect x="253.15" y="152.62" width="26.96" height="1.55" fill="#dedeff"/>
<rect x="253.15" y="154.12" width="26.96" height="1.55" fill="#eaeaff"/>
<rect x="253.15" y="155.62" width="26.96" height="1.55" fill="#ffcfcf"/>
<rect x="253.15" y="157.12" width="26.96" height="1.55" fill="#fffbfb"/>
<rect x="253.15" y="158.63" width="26.96" height="1.55" fill="#ffd3d3"/>
<rect x="253.15" y="160.13" width="26.96" height="1.55" fill="#ffc5c5"/>
<rect x="253.15" y="161.63" width="26.96" height="1.55" fill="#ffc7c7"/>
<rect x="253.15" y="163.13" width="26.96" height="1.55" fill="#ff9696"/>
<rect x="253.15" y="164.64" width="26.96" height="1.55" fill="#ffb0b0"/>
<rect x="253.15" y="166.14" width="26.96" height="1.55" fill="#ff7f7f"/>
<rect x="253.15" y="167.64" width="26.96" height="1.55" fill="#ff9a9a"/>
<rect x="253.15" y="169.14" width="26.96" height="1.55" fill="#ffa1a1"/>
<rect x="253.15" y="170.64" width="26.96" height="1.55" fill="#ffbbbb"/>
<rect x="253.15" y="172.15" width="26.96" height="1.55" fill="#ffbdbd"/>
<rect x="253.15" y="173.65" width="26.96" height="1.55" fill="#ff9797"/>
<rect x="253.15" y="175.15" width="26.96" height="1.55" fill="#ffa2a2"/>
<rect x="253.15" y="176.65" width="26.96" height="1.55" fill="#ffbcbc"/>
<rect x="253.15" y="178.16" width="26.96" height="1.55" fill="#ffc6c6"/>
<rect x="253.15" y="179.66" width="26.96" height="1.55" fill="#ffe9e9"/>
<rect x="253.15" y="181.16" width="26.96" height="1.55" fill="#ffeaea"/>
<rect x="253.15" y="182.66" width="26.96" height="1.55" fill="#ffd2d2"/>
<rect x="253.15" y="184.17" width="26.96" height="1.55" fill="#ffd7d7"/>
<rect x="253.15" y="185.67" width="26.96" height="1.55" fill="#ffd4d4"/>
<rect x="253.15" y="187.17" width="26.96" height="1.55" fill="#ffcfcf"/>
<rect x="253.15" y="188.67" width="26.96" height="1.55" fill="#c1c1ff"/>
<rect x="253.15" y="190.17" width="26.96" height="1.55" fill="#d7d7ff"/>
<rect x="253.15" y="191.68" width="26.96" height="1.55" fill="#b6b6ff"/>
<rect x="253.15" y="193.18" width="26.96" height="1.55" fill="#b9b9ff"/>
<rect x="253.15" y="194.68" width="26.96" height="1.55" fill="#c4c4ff"/>
<rect x="253.15" y="196.18" width="26.96" height="3.05" fill="#cbcbff"/>
<rect x="253.15" y="199.19" width="26.96" height="1.55" fill="#ffc2c2"/>
<rect x="253.15" y="200.69" width="26.96" height="1.55" fill="#ffe0e0"/>
<rect x="253.15" y="202.19" width="26.96" height="1.55" fill="#f7f7ff"/>
<rect x="253.15" y="203.7" width="26.96" height="1.55" fill="#ededff"/>
<rect x="253.15" y="205.2" width="26.96" height="1.55" fill="#d6d6ff"/>
<rect x="280.06" y="11.4" width="26.96" height="1.55" fill="#ff8282"/>
<rect x="280.06" y="12.9" width="26.96" height="1.55" fill="#ff6060"/>
<rect x="280.06" y="14.4" width="26.96" height="1.55" fill="#ffa6a6"/>
<rect x="280.06" y="15.91" width="26.96" height="1.55" fill="#ffbaba"/>
<rect x="280.06" y="17.41" width="26.96" height="1.55" fill="#ffbebe"/>
<rect x="280.06" y="18.91" width="26.96" height="1.55" fill="#fffefe"/>
<rect x="280.06" y="20.41" width="26.96" height="1.55" fill="#ffa4a4"/>
<rect x="280.06" y="21.92" width="26.96" height="1.55" fill="#ff9898"/>
<rect x="280.06" y="23.42" width="26.96" height="1.55" fill="#ff7676"/>
<rect x="280.06" y="24.92" width="26.96" height="1.55" fill="#ff8e8e"/>
<rect x="280.06" y="26.42" width="26.96" height="1.55" fill="#ff9494"/>
<rect x="280.06" y="27.93" width="26.96" height="1.55" fill="#ffa7a7"/>
<rect x="280.06" y="29.43" width="26.96" height="1.55" fill="#ffabab"/>
<rect x="280.06" y="30.93" width="26.96" height="1.55" fill="#ff9c9c"/>
<rect x="280.06" y="32.43" width="26.96" height="1.55" fill="#ffe0e0"/>
<rect x="280.06" y="33.93" width="26.96" height="1.55" fill="#ffabab"/>
<rect x="280.06" y="35.44" width="26.96" height="1.55" fill="#ffb9b9"/>
<rect x="280.06" y="36.94" width="26.96" height="1.55" fill="#ffbcbc"/>
<rect x="280.06" y="38.44" width="26.96" height="1.55" fill="#ffa1a1"/>
<rect x="280.06" y="39.94" width="26.96" height="1.55" fill="#fff8f8"/>
<rect x="280.06" y="41.45" width="26.96" height="1.55" fill="#fcfcff"/>
<rect x="280.06" y="42.95" width="26.96" height="1.55" fill="#ffefef"/>
<rect x="280.06" y="44.45" width="26.96" height="1.55" fill="#ffd1d1"/>
<rect x="280.06" y="45.95" width="26.96" height="1.55" fill="#ffe0e0"/>
<rect x="280.06" y="47.46" width="26.96" height="1.55" fill="#ffc7c7"/>
<rect x="280.06" y="48.96" width="26.96" height="1.55" fill="#ffc5c5"/>
<rect x="280.06" y="50.46" width="26.96" height="1.55" fill="#ffd1d1"/>
<rect x="280.06" y="51.96" width="26.96" height="1.55" fill="#ffc1c1"/>
<rect x="280.06" y="53.46" width="26.96" height="1.55" fill="#ffbfbf"/>
<rect x="280.06" y="54.97" width="26.96" height="1.55" fill="#ffd9d9"/>
<rect x="280.06" y="56.47" width="26.96" height="1.55" fill="#ffebeb"/>
<rect x="280.06" y="57.97" width="26.96" height="1.55" fill="#e7e7ff"/>
<rect x="280.06" y="59.47" width="26.96" height="1.55" fill="#fff4f4"/>
<rect x="280.06" y="60.98" width="26.96" height="1.55" fill="#ffa0a0"/>
<rect x="280.06" y="62.48" width="26.96" height="1.55" fill="#ffa3a3"/>
<rect x="280.06" y="63.98" width="26.96" height="1.55" fill="#ff9d9d"/>
<rect x="280.06" y="65.48" width="26.96" height="1.55" fill="#ff9696"/>
<rect x="280.06" y="66.99" width="26.96" height="1.55" fill="#ffb2b2"/>
<rect x="280.06" y="68.49" width="26.96" height="1.55" fill="#ffa2a2"/>
<rect x="280.06" y="69.99" width="26.96" height="1.55" fill="#ffcaca"/>
<rect x="280.06" y="71.49" width="26.96" height="1.55" fill="#ffa8a8"/>
<rect x="280.06" y="72.99" width="26.96" height="1.55" fill="#ffacac"/>
<rect x="280.06" y="74.5" width="26.96" height="1.55" fill="#ffcdcd"/>
<rect x="280.06" y="76" width="26.96" height="1.55" fill="#ffd3d3"/>
<rect x="280.06" y="77.5" width="26.96" height="1.55" fill="#ffdddd"/>
<rect x="280.06" y="79" width="26.96" height="1.55" fill="#ffa4a4"/>
<rect x="280.06" y="80.51" width="26.96" height="1.55" fill="#ff9292"/>
<rect x="280.06" y="82.01" width="26.96" height="1.55" fill="#ffabab"/>
<rect x="280.06" y="83.51" width="26.96" height="1.55" fill="#ff9e9e"/>
<rect x="280.06" y="85.01" width="26.96" height="1.55" fill="#ffb0b0"/>
<rect x="280.06" y="86.52" width="26.96" height="1.55" fill="#ffa2a2"/>
<rect x="280.06" y="88.02" width="26.96" height="1.55" fill="#ffb5b5"/>
<rect x="280.06" y="89.52" width="26.96" height="1.55" fill="#ff8686"/>
<rect x="280.06" y="91.02" width="26.96" height="1.55" fill="#ff9090"/>
<rect x="280.06" y="92.52" width="26.96" height="1.55" fill="#ffa1a1"/>
<rect x="280.06" y="94.03" width="26.96" height="1.55" fill="#ffafaf"/>
<rect x="280.06" y="95.53" width="26.96" height="1.55" fill="#ffb8b8"/>
<rect x="280.06" y="97.03" width="26.96" height="1.55" fill="#ff9191"/>
<rect x="280.06" y="98.53" width="26.96" height="1.55" fill="#ff9696"/>
<rect x="280.06" y="100.04" width="26.96" height="1.55" fill="#ffdada"/>
<rect x="280.06" y="101.54" width="26.96" height="1.55" fill="#fff7f7"/>
<rect x="280.06" y="103.04" width="26.96" height="1.55" fill="#ffe6e6"/>
<rect x="280.06" y="104.54" width="26.96" height="1.55" fill="#ffe7e7"/>
<rect x="280.06" y="106.05" width="26.96" height="1.55" fill="#ffecec"/>
<rect x="280.06" y="107.55" width="26.96" height="1.55" fill="#ffcaca"/>
<rect x="280.06" y="109.05" width="26.96" height="1.55" fill="#ffaeae"/>
<rect x="280.06" y="110.55" width="26.96" height="1.55" fill="#ffc1c1"/>
<rect x="280.06" y="112.05" width="26.96" height="1.55" fill="#ffa1a1"/>
<rect x="280.06" y="113.56" width="26.96" height="1.55" fill="#ffa6a6"/>
<rect x="280.06" y="115.06" width="26.96" height="1.55" fill="#ffa9a9"/>
<rect x="280.06" y="116.56" width="26.96" height="1.55" fill="#ffd9d9"/>
<rect x="280.06" y="118.06" width="26.96" height="1.55" fill="#ffa9a9"/>
<rect x="280.06" y="119.57" width="26.96" height="1.55" fill="#ffa8a8"/>
<rect x="280.06" y="121.07" width="26.96" height="1.55" fill="#ffc6c6"/>
<rect x="280.06" y="122.57" width="26.96" height="1.55" fill="#ff8a8a"/>
<rect x="280.06" y="124.07" width="26.96" height="1.55" fill="#ff9898"/>
<rect x="280.06" y="125.58" width="26.96" height="1.55" fill="#ff9c9c"/>
<rect x="280.06" y="127.08" width="26.96" height="1.55" fill="#ffa4a4"/>
<rect x="280.06" y="128.58" width="26.96" height="1.55" fill="#ffa9a9"/>
<rect x="280.06" y="130.08" width="26.96" height="1.55" fill="#ffa0a0"/>
<rect x="280.06" y="131.58" width="26.96" height="1.55" fill="#ff6a6a"/>
<rect x="280.06" y="133.09" width="26.96" height="3.05" fill="#ff9696"/>
<rect x="280.06" y="136.09" width="26.96" height="3.05" fill="#ffefef"/>
<rect x="280.06" y="139.1" width="26.96" height="1.55" fill="#ffeeee"/>
<rect x="280.06" y="140.6" width="26.96" height="1.55" fill="#ffe6e6"/>
<rect x="280.06" y="142.1" width="26.96" height="1.55" fill="#ffcbcb"/>
<rect x="280.06" y="143.6" width="26.96" height="1.55" fill="#ffdddd"/>
<rect x="280.06" y="145.11" width="26.96" height="1.55" fill="#ffcccc"/>
<rect x="280.06" y="146.61" width="26.96" height="1.55" fill="#ffeaea"/>
<rect x="280.06" y="148.11" width="26.96" height="1.55" fill="#ffcbcb"/>
<rect x="280.06" y="149.61" width="26.96" height="1.55" fill="#ffd9d9"/>
<rect x="280.06" y="151.11" width="26.96" height="1.55" fill="#ffcfcf"/>
<rect x="280.06" y="152.62" width="26.96" height="1.55" fill="#ffdada"/>
<rect x="280.06" y="154.12" width="26.96" height="1.55" fill="#ffe6e6"/>
<rect x="280.06" y="155.62" width="26.96" height="1.55" fill="#c5c5ff"/>
<rect x="280.06" y="157.12" width="26.96" height="1.55" fill="#acacff"/>
<rect x="280.06" y="158.63" width="26.96" height="1.55" fill="#7d7dff"/>
<rect x="280.06" y="160.13" width="26.96" height="1.55" fill="#7272ff"/>
<rect x="280.06" y="161.63" width="26.96" height="1.55" fill="#5050ff"/>
<rect x="280.06" y="163.13" width="26.96" height="1.55" fill="#ececff"/>
<rect x="280.06" y="164.64" width="26.96" height="1.55" fill="#f7f7ff"/>
<rect x="280.06" y="166.14" width="26.96" height="1.55" fill="#f8f8ff"/>
<rect x="280.06" y="167.64" width="26.96" height="1.55" fill="#c1c1ff"/>
<rect x="280.06" y="169.14" width="26.96" height="1.55" fill="#b6b6ff"/>
<rect x="280.06" y="170.64" width="26.96" height="1.55" fill="#d3d3ff"/>
<rect x="280.06" y="172.15" width="26.96" height="1.55" fill="#a7a7ff"/>
<rect x="280.06" y="173.65" width="26.96" height="1.55" fill="#e3e3ff"/>
<rect x="280.06" y="175.15" width="26.96" height="1.55" fill="#c7c7ff"/>
<rect x="280.06" y="176.65" width="26.96" height="1.55" fill="#8989ff"/>
<rect x="280.06" y="178.16" width="26.96" height="1.55" fill="#acacff"/>
<rect x="280.06" y="179.66" width="26.96" height="1.55" fill="#aaaaff"/>
<rect x="280.06" y="181.16" width="26.96" height="1.55" fill="#acacff"/>
<rect x="280.06" y="182.66" width="26.96" height="1.55" fill="#a1a1ff"/>
<rect x="280.06" y="184.17" width="26.96" height="1.55" fill="#7676ff"/>
<rect x="280.06" y="185.67" width="26.96" height="1.55" fill="#cdcdff"/>
<rect x="280.06" y="187.17" width="26.96" height="1.55" fill="#b8b8ff"/>
<rect x="280.06" y="188.67" width="26.96" height="1.55" fill="#a9a9ff"/>
<rect x="280.06" y="190.17" width="26.96" height="1.55" fill="#bebeff"/>
<rect x="280.06" y="191.68" width="26.96" height="1.55" fill="#c2c2ff"/>
<rect x="280.06" y="193.18" width="26.96" height="1.55" fill="#a3a3ff"/>
<rect x="280.06" y="194.68" width="26.96" height="1.55" fill="#a8a8ff"/>
<rect x="280.06" y="196.18" width="26.96" height="1.55" fill="#bcbcff"/>
<rect x="280.06" y="197.69" width="26.96" height="1.55" fill="#b0b0ff"/>
<rect x="280.06" y="199.19" width="26.96" height="1.55" fill="#b4b4ff"/>
<rect x="280.06" y="200.69" width="26.96" height="1.55" fill="#7979ff"/>
<rect x="280.06" y="202.19" width="26.96" height="1.55" fill="#9a9aff"/>
<rect x="280.06" y="203.7" width="26.96" height="1.55" fill="#c1c1ff"/>
<rect x="280.06" y="205.2" width="26.96" height="1.55" fill="#a3a3ff"/>
<rect x="306.97" y="11.4" width="26.96" height="1.55" fill="#ffe4e4"/>
<rect x="306.97" y="12.9" width="26.96" height="1.55" fill="#f6f6ff"/>
<rect x="306.97" y="14.4" width="26.96" height="1.55" fill="#fff8f8"/>
<rect x="306.97" y="15.91" width="26.96" height="1.55" fill="#f4f4ff"/>
<rect x="306.97" y="17.41" width="26.96" height="1.55" fill="#ffd8d8"/>
<rect x="306.97" y="18.91" width="26.96" height="1.55" fill="#ffb9b9"/>
<rect x="306.97" y="20.41" width="26.96" height="1.55" fill="#ffc0c0"/>
<rect x="306.97" y="21.92" width="26.96" height="1.55" fill="#fffafa"/>
<rect x="306.97" y="23.42" width="26.96" height="1.55" fill="#ff9a9a"/>
<rect x="306.97" y="24.92" width="26.96" height="1.55" fill="#ff8181"/>
<rect x="306.97" y="26.42" width="26.96" height="1.55" fill="#ff8f8f"/>
<rect x="306.97" y="27.93" width="26.96" height="1.55" fill="#ffacac"/>
<rect x="306.97" y="29.43" width="26.96" height="1.55" fill="#ff8b8b"/>
<rect x="306.97" y="30.93" width="26.96" height="1.55" fill="#ff8383"/>
<rect x="306.97" y="32.43" width="26.96" height="1.55" fill="#ff8989"/>
<rect x="306.97" y="33.93" width="26.96" height="3.05" fill="#ffa4a4"/>
<rect x="306.97" y="36.94" width="26.96" height="1.55" fill="#ff8b8b"/>
<rect x="306.97" y="38.44" width="26.96" height="1.55" fill="#ff8a8a"/>
<rect x="306.97" y="39.94" width="26.96" height="1.55" fill="#ff8686"/>
<rect x="306.97" y="41.45" width="26.96" height="1.55" fill="#ff8787"/>
<rect x="306.97" y="42.95" width="26.96" height="1.55" fill="#ff9b9b"/>
<rect x="306.97" y="44.45" width="26.96" height="1.55" fill="#ff9f9f"/>
<rect x="306.97" y="45.95" width="26.96" height="1.55" fill="#ff9c9c"/>
<rect x="306.97" y="47.46" width="26.96" height="1.55" fill="#ff7474"/>
<rect x="306.97" y="48.96" width="26.96" height="1.55" fill="#ff5d5d"/>
<rect x="306.97" y="50.46" width="26.96" height="3.05" fill="#ffa0a0"/>
<rect x="306.97" y="53.46" width="26.96" height="1.55" fill="#ff8f8f"/>
<rect x="306.97" y="54.97" width="26.96" height="1.55" fill="#ff9393"/>
<rect x="306.97" y="56.47" width="26.96" height="1.55" fill="#ffaeae"/>
<rect x="306.97" y="57.97" width="26.96" height="1.55" fill="#ffa4a4"/>
<rect x="306.97" y="59.47" width="26.96" height="1.55" fill="#ffaaaa"/>
<rect x="306.97" y="60.98" width="26.96" height="1.55" fill="#ff7a7a"/>
<rect x="306.97" y="62.48" width="26.96" height="1.55" fill="#ffa4a4"/>
<rect x="306.97" y="63.98" width="26.96" height="1.55" fill="#ff8c8c"/>
<rect x="306.97" y="65.48" width="26.96" height="3.05" fill="#ff7c7c"/>
<rect x="306.97" y="68.49" width="26.96" height="1.55" fill="#ff8383"/>
<rect x="306.97" y="69.99" width="26.96" height="1.55" fill="#ff8080"/>
<rect x="306.97" y="71.49" width="26.96" height="1.55" fill="#ffacac"/>
<rect x="306.97" y="72.99" width="26.96" height="1.55" fill="#ff9e9e"/>
<rect x="306.97" y="74.5" width="26.96" height="1.55" fill="#ff7e7e"/>
<rect x="306.97" y="76" width="26.96" height="1.55" fill="#ff7777"/>
<rect x="306.97" y="77.5" width="26.96" height="1.55" fill="#ff4b4b"/>
<rect x="306.97" y="79" width="26.96" height="1.55" fill="#ffa6a6"/>
<rect x="306.97" y="80.51" width="26.96" height="1.55" fill="#ff8484"/>
<rect x="306.97" y="82.01" width="26.96" height="1.55" fill="#ff9f9f"/>
<rect x="306.97" y="83.51" width="26.96" height="3.05" fill="#ff7878"/>
<rect x="306.97" y="86.52" width="26.96" height="1.55" fill="#ff9494"/>
<rect x="306.97" y="88.02" width="26.96" height="1.55" fill="#ff6d6d"/>
<rect x="306.97" y="89.52" width="26.96" height="1.55" fill="#ff8b8b"/>
<rect x="306.97" y="91.02" width="26.96" height="1.55" fill="#ff7878"/>
<rect x="306.97" y="92.52" width="26.96" height="1.55" fill="#ff8787"/>
<rect x="306.97" y="94.03" width="26.96" height="1.55" fill="#ff9595"/>
<rect x="306.97" y="95.53" width="26.96" height="1.55" fill="#ff9292"/>
<rect x="306.97" y="97.03" width="26.96" height="1.55" fill="#ff8e8e"/>
<rect x="306.97" y="98.53" width="26.96" height="1.55" fill="#ff8383"/>
<rect x="306.97" y="100.04" width="26.96" height="1.55" fill="#ff1818"/>
<rect x="306.97" y="101.54" width="26.96" height="1.55" fill="#ff0000"/>
<rect x="306.97" y="103.04" width="26.96" height="1.55" fill="#ff1c1c"/>
<rect x="306.97" y="104.54" width="26.96" height="1.55" fill="#ff2121"/>
<rect x="306.97" y="106.05" width="26.96" height="1.55" fill="#ff2525"/>
<rect x="306.97" y="107.55" width="26.96" height="1.55" fill="#ff6565"/>
<rect x="306.97" y="109.05" width="26.96" height="1.55" fill="#ff6f6f"/>
<rect x="306.97" y="110.55" width="26.96" height="1.55" fill="#ff6868"/>
<rect x="306.97" y="112.05" width="26.96" height="1.55" fill="#ff4b4b"/>
<rect x="306.97" y="113.56" width="26.96" height="1.55" fill="#ff5858"/>
<rect x="306.97" y="115.06" width="26.96" height="1.55" fill="#ff5c5c"/>
<rect x="306.97" y="116.56" width="26.96" height="1.55" fill="#ff5454"/>
<rect x="306.97" y="118.06" width="26.96" height="1.55" fill="#ff4949"/>
<rect x="306.97" y="119.57" width="26.96" height="1.55" fill="#ff5050"/>
<rect x="306.97" y="121.07" width="26.96" height="1.55" fill="#ff4d4d"/>
<rect x="306.97" y="122.57" width="26.96" height="1.55" fill="#ff6262"/>
<rect x="306.97" y="124.07" width="26.96" height="1.55" fill="#ff9090"/>
<rect x="306.97" y="125.58" width="26.96" height="1.55" fill="#ff9898"/>
<rect x="306.97" y="127.08" width="26.96" height="1.55" fill="#ff8e8e"/>
<rect x="306.97" y="128.58" width="26.96" height="1.55" fill="#ff9999"/>
<rect x="306.97" y="130.08" width="26.96" height="1.55" fill="#ff9292"/>
<rect x="306.97" y="131.58" width="26.96" height="1.55" fill="#ff8f8f"/>
<rect x="306.97" y="133.09" width="26.96" height="3.05" fill="#ff9090"/>
<rect x="306.97" y="136.09" width="26.96" height="1.55" fill="#ffeded"/>
<rect x="306.97" y="137.59" width="26.96" height="1.55" fill="#ffd1d1"/>
<rect x="306.97" y="139.1" width="26.96" height="1.55" fill="#ffebeb"/>
<rect x="306.97" y="140.6" width="26.96" height="1.55" fill="#f7f7ff"/>
<rect x="306.97" y="142.1" width="26.96" height="1.55" fill="#fffefe"/>
<rect x="306.97" y="143.6" width="26.96" height="3.05" fill="#ff6a6a"/>
<rect x="306.97" y="146.61" width="26.96" height="1.55" fill="#ff5858"/>
<rect x="306.97" y="148.11" width="26.96" height="1.55" fill="#ff7373"/>
<rect x="306.97" y="149.61" width="26.96" height="1.55" fill="#ff8b8b"/>
<rect x="306.97" y="151.11" width="26.96" height="1.55" fill="#ff8888"/>
<rect x="306.97" y="152.62" width="26.96" height="1.55" fill="#ff7c7c"/>
<rect x="306.97" y="154.12" width="26.96" height="1.55" fill="#ffa6a6"/>
<rect x="306.97" y="155.62" width="26.96" height="1.55" fill="#bebeff"/>
<rect x="306.97" y="157.12" width="26.96" height="1.55" fill="#d5d5ff"/>
<rect x="306.97" y="158.63" width="26.96" height="1.55" fill="#aeaeff"/>
<rect x="306.97" y="160.13" width="26.96" height="1.55" fill="#5959ff"/>
<rect x="306.97" y="161.63" width="26.96" height="1.55" fill="#5454ff"/>
<rect x="306.97" y="163.13" width="26.96" height="1.55" fill="#6363ff"/>
<rect x="306.97" y="164.64" width="26.96" height="1.55" fill="#7b7bff"/>
<rect x="306.97" y="166.14" width="26.96" height="1.55" fill="#a7a7ff"/>
<rect x="306.97" y="167.64" width="26.96" height="1.55" fill="#9797ff"/>
<rect x="306.97" y="169.14" width="26.96" height="1.55" fill="#9e9eff"/>
<rect x="306.97" y="170.64" width="26.96" height="1.55" fill="#9494ff"/>
<rect x="306.97" y="172.15" width="26.96" height="1.55" fill="#5252ff"/>
<rect x="306.97" y="173.65" width="26.96" height="1.55" fill="#7070ff"/>
<rect x="306.97" y="175.15" width="26.96" height="1.55" fill="#5e5eff"/>
<rect x="306.97" y="176.65" width="26.96" height="1.55" fill="#7373ff"/>
<rect x="306.97" y="178.16" width="26.96" height="1.55" fill="#5959ff"/>
<rect x="306.97" y="179.66" width="26.96" height="1.55" fill="#6161ff"/>
<rect x="306.97" y="181.16" width="26.96" height="1.55" fill="#8989ff"/>
<rect x="306.97" y="182.66" width="26.96" height="3.05" fill="#9898ff"/>
<rect x="306.97" y="185.67" width="26.96" height="1.55" fill="#7d7dff"/>
<rect x="306.97" y="187.17" width="26.96" height="1.55" fill="#bfbfff"/>
<rect x="306.97" y="188.67" width="26.96" height="1.55" fill="#d6d6ff"/>
<rect x="306.97" y="190.17" width="26.96" height="1.55" fill="#c7c7ff"/>
<rect x="306.97" y="191.68" width="26.96" height="1.55" fill="#b4b4ff"/>
<rect x="306.97" y="193.18" width="26.96" height="1.55" fill="#7171ff"/>
<rect x="306.97" y="194.68" width="26.96" height="1.55" fill="#6d6dff"/>
<rect x="306.97" y="196.18" width="26.96" height="1.55" fill="#8181ff"/>
<rect x="306.97" y="197.69" width="26.96" height="1.55" fill="#7373ff"/>
<rect x="306.97" y="199.19" width="26.96" height="1.55" fill="#7878ff"/>
<rect x="306.97" y="200.69" width="26.96" height="1.55" fill="#c8c8ff"/>
<rect x="306.97" y="202.19" width="26.96" height="1.55" fill="#9191ff"/>
<rect x="306.97" y="203.7" width="26.96" height="1.55" fill="#d6d6ff"/>
<rect x="306.97" y="205.2" width="26.96" height="1.55" fill="#cbcbff"/>
<rect x="333.88" y="11.4" width="26.96" height="1.55" fill="#ffb1b1"/>
<rect x="333.88" y="12.9" width="26.96" height="1.55" fill="#ff8c8c"/>
<rect x="333.88" y="14.4" width="26.96" height="1.55" fill="#ff9595"/>
<rect x="333.88" y="15.91" width="26.96" height="1.55" fill="#ff8080"/>
<rect x="333.88" y="17.41" width="26.96" height="1.55" fill="#ff8484"/>
<rect x="333.88" y="18.91" width="26.96" height="1.55" fill="#ff7373"/>
<rect x="333.88" y="20.41" width="26.96" height="1.55" fill="#ff5050"/>
<rect x="333.88" y="21.92" width="26.96" height="1.55" fill="#ff5656"/>
<rect x="333.88" y="23.42" width="26.96" height="1.55" fill="#ffbebe"/>
<rect x="333.88" y="24.92" width="26.96" height="1.55" fill="#ffbfbf"/>
<rect x="333.88" y="26.42" width="26.96" height="3.05" fill="#ffcccc"/>
<rect x="333.88" y="29.43" width="26.96" height="1.55" fill="#ffa5a5"/>
<rect x="333.88" y="30.93" width="26.96" height="1.55" fill="#ff9999"/>
<rect x="333.88" y="32.43" width="26.96" height="1.55" fill="#ffa8a8"/>
<rect x="333.88" y="33.93" width="26.96" height="1.55" fill="#ffa1a1"/>
<rect x="333.88" y="35.44" width="26.96" height="1.55" fill="#ff9090"/>
<rect x="333.88" y="36.94" width="26.96" height="1.55" fill="#ffb7b7"/>
<rect x="333.88" y="38.44" width="26.96" height="1.55" fill="#ffb1b1"/>
<rect x="333.88" y="39.94" width="26.96" height="1.55" fill="#ff4444"/>
<rect x="333.88" y="41.45" width="26.96" height="1.55" fill="#ff5151"/>
<rect x="333.88" y="42.95" width="26.96" height="1.55" fill="#ff4f4f"/>
<rect x="333.88" y="44.45" width="26.96" height="1.55" fill="#ffacac"/>
<rect x="333.88" y="45.95" width="26.96" height="1.55" fill="#ffc6c6"/>
<rect x="333.88" y="47.46" width="26.96" height="1.55" fill="#ffd2d2"/>
<rect x="333.88" y="48.96" width="26.96" height="1.55" fill="#ffbbbb"/>
<rect x="333.88" y="50.46" width="26.96" height="1.55" fill="#ff5959"/>
<rect x="333.88" y="51.96" width="26.96" height="1.55" fill="#ff9090"/>
<rect x="333.88" y="53.46" width="26.96" height="1.55" fill="#ff8a8a"/>
<rect x="333.88" y="54.97" width="26.96" height="1.55" fill="#ff7e7e"/>
<rect x="333.88" y="56.47" width="26.96" height="1.55" fill="#ff8989"/>
<rect x="333.88" y="57.97" width="26.96" height="1.55" fill="#ff5e5e"/>
<rect x="333.88" y="59.47" width="26.96" height="1.55" fill="#ff7777"/>
<rect x="333.88" y="60.98" width="26.96" height="1.55" fill="#ffc5c5"/>
<rect x="333.88" y="62.48" width="26.96" height="1.55" fill="#ffb8b8"/>
<rect x="333.88" y="63.98" width="26.96" height="1.55" fill="#ffcbcb"/>
<rect x="333.88" y="65.48" width="26.96" height="1.55" fill="#ffc9c9"/>
<rect x="333.88" y="66.99" width="26.96" height="1.55" fill="#ffa4a4"/>
<rect x="333.88" y="68.49" width="26.96" height="1.55" fill="#ff8181"/>
<rect x="333.88" y="69.99" width="26.96" height="1.55" fill="#ffc8c8"/>
<rect x="333.88" y="71.49" width="26.96" height="1.55" fill="#ff9f9f"/>
<rect x="333.88" y="72.99" width="26.96" height="1.55" fill="#ff9191"/>
<rect x="333.88" y="74.5" width="26.96" height="1.55" fill="#ff8181"/>
<rect x="333.88" y="76" width="26.96" height="1.55" fill="#ff6f6f"/>
<rect x="333.88" y="77.5" width="26.96" height="1.55" fill="#ff8585"/>
<rect x="333.88" y="79" width="26.96" height="1.55" fill="#ff8a8a"/>
<rect x="333.88" y="80.51" width="26.96" height="1.55" fill="#ff8e8e"/>
<rect x="333.88" y="82.01" width="26.96" height="1.55" fill="#ff9999"/>
<rect x="333.88" y="83.51" width="26.96" height="1.55" fill="#ff7373"/>
<rect x="333.88" y="85.01" width="26.96" height="1.55" fill="#ff9e9e"/>
<rect x="333.88" y="86.52" width="26.96" height="1.55" fill="#ffc1c1"/>
<rect x="333.88" y="88.02" width="26.96" height="1.55" fill="#ffc7c7"/>
<rect x="333.88" y="89.52" width="26.96" height="1.55" fill="#ffcbcb"/>
<rect x="333.88" y="91.02" width="26.96" height="1.55" fill="#ffe1e1"/>
<rect x="333.88" y="92.52" width="26.96" height="1.55" fill="#ffc5c5"/>
<rect x="333.88" y="94.03" width="26.96" height="3.05" fill="#ffbdbd"/>
<rect x="333.88" y="97.03" width="26.96" height="1.55" fill="#ffb2b2"/>
<rect x="333.88" y="98.53" width="26.96" height="1.55" fill="#ffc2c2"/>
<rect x="333.88" y="100.04" width="26.96" height="1.55" fill="#fafaff"/>
<rect x="333.88" y="101.54" width="26.96" height="1.55" fill="#fffdfd"/>
<rect x="333.88" y="103.04" width="26.96" height="1.55" fill="#fffafa"/>
<rect x="333.88" y="104.54" width="26.96" height="1.55" fill="#f8f8ff"/>
<rect x="333.88" y="106.05" width="26.96" height="1.55" fill="#f3f3ff"/>
<rect x="333.88" y="107.55" width="26.96" height="1.55" fill="#f7f7ff"/>
<rect x="333.88" y="109.05" width="26.96" height="1.55" fill="#e9e9ff"/>
<rect x="333.88" y="110.55" width="26.96" height="1.55" fill="#e8e8ff"/>
<rect x="333.88" y="112.05" width="26.96" height="1.55" fill="#fff3f3"/>
<rect x="333.88" y="113.56" width="26.96" height="1.55" fill="#ffe4e4"/>
<rect x="333.88" y="115.06" width="26.96" height="1.55" fill="#ffd9d9"/>
<rect x="333.88" y="116.56" width="26.96" height="1.55" fill="#ffd1d1"/>
<rect x="333.88" y="118.06" width="26.96" height="1.55" fill="#fff0f0"/>
<rect x="333.88" y="119.57" width="26.96" height="1.55" fill="#ffe9e9"/>
<rect x="333.88" y="121.07" width="26.96" height="1.55" fill="#ffd0d0"/>
<rect x="333.88" y="122.57" width="26.96" height="1.55" fill="#ffc1c1"/>
<rect x="333.88" y="124.07" width="26.96" height="1.55" fill="#ffcece"/>
<rect x="333.88" y="125.58" width="26.96" height="1.55" fill="#fff7f7"/>
<rect x="333.88" y="127.08" width="26.96" height="1.55" fill="#ffdfdf"/>
<rect x="333.88" y="128.58" width="26.96" height="1.55" fill="#fdfdff"/>
<rect x="333.88" y="130.08" width="26.96" height="1.55" fill="#ffffff"/>
<rect x="333.88" y="131.58" width="26.96" height="1.55" fill="#fafaff"/>
<rect x="333.88" y="133.09" width="26.96" height="1.55" fill="#fbfbff"/>
<rect x="333.88" y="134.59" width="26.96" height="1.55" fill="#ffffff"/>
<rect x="333.88" y="136.09" width="26.96" height="1.55" fill="#ff4a4a"/>
<rect x="333.88" y="137.59" width="26.96" height="1.55" fill="#ff5b5b"/>
<rect x="333.88" y="139.1" width="26.96" height="1.55" fill="#ff5f5f"/>
<rect x="333.88" y="140.6" width="26.96" height="1.55" fill="#ff9999"/>
<rect x="333.88" y="142.1" width="26.96" height="1.55" fill="#ffa4a4"/>
<rect x="333.88" y="143.6" width="26.96" height="1.55" fill="#ff9d9d"/>
<rect x="333.88" y="145.11" width="26.96" height="1.55" fill="#ff8686"/>
<rect x="333.88" y="146.61" width="26.96" height="1.55" fill="#ff8c8c"/>
<rect x="333.88" y="148.11" width="26.96" height="1.55" fill="#ff7b7b"/>
<rect x="333.88" y="149.61" width="26.96" height="1.55" fill="#ff9595"/>
<rect x="333.88" y="151.11" width="26.96" height="1.55" fill="#ff9999"/>
<rect x="333.88" y="152.62" width="26.96" height="1.55" fill="#ffb2b2"/>
<rect x="333.88" y="154.12" width="26.96" height="1.55" fill="#ff9393"/>
<rect x="333.88" y="155.62" width="26.96" height="1.55" fill="#9898ff"/>
<rect x="333.88" y="157.12" width="26.96" height="1.55" fill="#cacaff"/>
<rect x="333.88" y="158.63" width="26.96" height="1.55" fill="#c2c2ff"/>
<rect x="333.88" y="160.13" width="26.96" height="1.55" fill="#ccccff"/>
<rect x="333.88" y="161.63" width="26.96" height="1.55" fill="#b7b7ff"/>
<rect x="333.88" y="163.13" width="26.96" height="1.55" fill="#c4c4ff"/>
<rect x="333.88" y="164.64" width="26.96" height="1.55" fill="#bebeff"/>
<rect x="333.88" y="166.14" width="26.96" height="1.55" fill="#aaaaff"/>
<rect x="333.88" y="167.64" width="26.96" height="1.55" fill="#9d9dff"/>
<rect x="333.88" y="169.14" width="26.96" height="1.55" fill="#8787ff"/>
<rect x="333.88" y="170.64" width="26.96" height="1.55" fill="#7b7bff"/>
<rect x="333.88" y="172.15" width="26.96" height="1.55" fill="#3f3fff"/>
<rect x="333.88" y="173.65" width="26.96" height="1.55" fill="#3838ff"/>
<rect x="333.88" y="175.15" width="26.96" height="1.55" fill="#2f2fff"/>
<rect x="333.88" y="176.65" width="26.96" height="1.55" fill="#4949ff"/>
<rect x="333.88" y="178.16" width="26.96" height="1.55" fill="#0000ff"/>
<rect x="333.88" y="179.66" width="26.96" height="1.55" fill="#0202ff"/>
<rect x="333.88" y="181.16" width="26.96" height="1.55" fill="#7676ff"/>
<rect x="333.88" y="182.66" width="26.96" height="1.55" fill="#7777ff"/>
<rect x="333.88" y="184.17" width="26.96" height="1.55" fill="#7878ff"/>
<rect x="333.88" y="185.67" width="26.96" height="1.55" fill="#0e0eff"/>
<rect x="333.88" y="187.17" width="26.96" height="1.55" fill="#3030ff"/>
<rect x="333.88" y="188.67" width="26.96" height="1.55" fill="#5f5fff"/>
<rect x="333.88" y="190.17" width="26.96" height="1.55" fill="#3f3fff"/>
<rect x="333.88" y="191.68" width="26.96" height="1.55" fill="#5b5bff"/>
<rect x="333.88" y="193.18" width="26.96" height="1.55" fill="#6b6bff"/>
<rect x="333.88" y="194.68" width="26.96" height="1.55" fill="#5d5dff"/>
<rect x="333.88" y="196.18" width="26.96" height="1.55" fill="#6d6dff"/>
<rect x="333.88" y="197.69" width="26.96" height="1.55" fill="#5555ff"/>
<rect x="333.88" y="199.19" width="26.96" height="1.55" fill="#5959ff"/>
<rect x="333.88" y="200.69" width="26.96" height="1.55" fill="#9292ff"/>
<rect x="333.88" y="202.19" width="26.96" height="1.55" fill="#9898ff"/>
<rect x="333.88" y="203.7" width="26.96" height="1.55" fill="#8a8aff"/>
<rect x="333.88" y="205.2" width="26.96" height="1.55" fill="#9898ff"/>
</g>
<rect x="118.4" y="211" width="79.3" height="1.8" fill="#000"/>
<rect x="199.7" y="211" width="79.1" height="1.8" fill="#000"/>
<rect x="280.9" y="211" width="79.9" height="1.8" fill="#000"/>
<text x="154.6" y="221.8" font-size="7.2" text-anchor="middle" dominant-baseline="central" fill="#222" stroke="#222" stroke-width="0.12">Control</text>
<text x="238.4" y="221.8" font-size="7.2" text-anchor="middle" dominant-baseline="central" fill="#222" stroke="#222" stroke-width="0.12">RT</text>
<text x="311" y="221.8" font-size="7.2" text-anchor="middle" dominant-baseline="central" fill="#222" stroke="#222" stroke-width="0.12">RT + IL/aC@RBAH</text>
<text x="364" y="23.9" font-size="7.15" text-anchor="start" dominant-baseline="central" fill="#222" stroke="#222" stroke-width="0.12">Ifitm1</text>
<text x="364" y="45.7" font-size="7.15" text-anchor="start" dominant-baseline="central" fill="#222" stroke="#222" stroke-width="0.12">Tlr2</text>
<text x="364" y="54.1" font-size="7.15" text-anchor="start" dominant-baseline="central" fill="#222" stroke="#222" stroke-width="0.12">Nod2</text>
<text x="364" y="66.1" font-size="7.15" text-anchor="start" dominant-baseline="central" fill="#222" stroke="#222" stroke-width="0.12">Clec4d</text>
<text x="364" y="72.1" font-size="7.15" text-anchor="start" dominant-baseline="central" fill="#222" stroke="#222" stroke-width="0.12">Cd274</text>
<text x="364" y="78.3" font-size="7.15" text-anchor="start" dominant-baseline="central" fill="#222" stroke="#222" stroke-width="0.12">Tnfrsf1b</text>
<text x="364" y="88.1" font-size="7.15" text-anchor="start" dominant-baseline="central" fill="#222" stroke="#222" stroke-width="0.12">Tnf</text>
<text x="364" y="94.4" font-size="7.15" text-anchor="start" dominant-baseline="central" fill="#222" stroke="#222" stroke-width="0.12">Nlrp3</text>
<text x="364" y="99.9" font-size="7.15" text-anchor="start" dominant-baseline="central" fill="#222" stroke="#222" stroke-width="0.12">Cxcl2</text>
<text x="364" y="105.9" font-size="7.15" text-anchor="start" dominant-baseline="central" fill="#222" stroke="#222" stroke-width="0.12">Il12a</text>
<text x="364" y="112.2" font-size="7.15" text-anchor="start" dominant-baseline="central" fill="#222" stroke="#222" stroke-width="0.12">Socs3</text>
<text x="364" y="120.2" font-size="7.15" text-anchor="start" dominant-baseline="central" fill="#222" stroke="#222" stroke-width="0.12">Il21</text>
<text x="364" y="125.9" font-size="7.15" text-anchor="start" dominant-baseline="central" fill="#222" stroke="#222" stroke-width="0.12">Ccl3</text>
<text x="364" y="134" font-size="7.15" text-anchor="start" dominant-baseline="central" fill="#222" stroke="#222" stroke-width="0.12">Malt1</text>
<text x="364" y="157.8" font-size="7.15" text-anchor="start" dominant-baseline="central" fill="#222" stroke="#222" stroke-width="0.12">Gm18445</text>
<text x="364" y="173.9" font-size="7.15" text-anchor="start" dominant-baseline="central" fill="#222" stroke="#222" stroke-width="0.12">Eaf2</text>
<defs><linearGradient id="hcb" x1="0" y1="0" x2="0" y2="1"><stop offset="0" stop-color="#ff0000"/><stop offset="0.5" stop-color="#ffffff"/><stop offset="1" stop-color="#0000ff"/></linearGradient></defs>
<rect x="390.6" y="11.3" width="3.5" height="59.1" fill="url(#hcb)"/>
<text x="395.6" y="16.5" font-size="7.2" text-anchor="start" dominant-baseline="central" fill="#222" stroke="#222" stroke-width="0.12">2</text>
<text x="395.6" y="28.7" font-size="7.2" text-anchor="start" dominant-baseline="central" fill="#222" stroke="#222" stroke-width="0.12">1</text>
<text x="395.6" y="40.9" font-size="7.2" text-anchor="start" dominant-baseline="central" fill="#222" stroke="#222" stroke-width="0.12">0</text>
<text x="395.6" y="53.2" font-size="7.2" text-anchor="start" dominant-baseline="central" fill="#222" stroke="#222" stroke-width="0.12">−1</text>
<text x="395.6" y="65.8" font-size="7.2" text-anchor="start" dominant-baseline="central" fill="#222" stroke="#222" stroke-width="0.12">−2</text>
<text x="112.4" y="7.9" font-size="12" text-anchor="start" dominant-baseline="alphabetic" fill="#000" font-weight="bold">c</text>
<g>
<line x1="538" y1="13.4" x2="538" y2="218.2" stroke="#ebebeb" stroke-width="0.7"/>
<line x1="548.4" y1="13.4" x2="548.4" y2="218.2" stroke="#ebebeb" stroke-width="0.7"/>
<line x1="559" y1="13.4" x2="559" y2="218.2" stroke="#ebebeb" stroke-width="0.7"/>
<line x1="569.6" y1="13.4" x2="569.6" y2="218.2" stroke="#ebebeb" stroke-width="0.7"/>
<line x1="580.6" y1="13.4" x2="580.6" y2="218.2" stroke="#ebebeb" stroke-width="0.7"/>
<line x1="591" y1="13.4" x2="591" y2="218.2" stroke="#ebebeb" stroke-width="0.7"/>
<line x1="601.6" y1="13.4" x2="601.6" y2="218.2" stroke="#ebebeb" stroke-width="0.7"/>
<line x1="612" y1="13.4" x2="612" y2="218.2" stroke="#ebebeb" stroke-width="0.7"/>
<line x1="622.6" y1="13.4" x2="622.6" y2="218.2" stroke="#ebebeb" stroke-width="0.7"/>
<line x1="531.3" y1="22.2" x2="633.8" y2="22.2" stroke="#ebebeb" stroke-width="0.7"/>
<line x1="531.3" y1="36.66" x2="633.8" y2="36.66" stroke="#ebebeb" stroke-width="0.7"/>
<line x1="531.3" y1="51.12" x2="633.8" y2="51.12" stroke="#ebebeb" stroke-width="0.7"/>
<line x1="531.3" y1="65.58" x2="633.8" y2="65.58" stroke="#ebebeb" stroke-width="0.7"/>
<line x1="531.3" y1="80.04" x2="633.8" y2="80.04" stroke="#ebebeb" stroke-width="0.7"/>
<line x1="531.3" y1="94.5" x2="633.8" y2="94.5" stroke="#ebebeb" stroke-width="0.7"/>
<line x1="531.3" y1="108.96" x2="633.8" y2="108.96" stroke="#ebebeb" stroke-width="0.7"/>
<line x1="531.3" y1="123.42" x2="633.8" y2="123.42" stroke="#ebebeb" stroke-width="0.7"/>
<line x1="531.3" y1="137.88" x2="633.8" y2="137.88" stroke="#ebebeb" stroke-width="0.7"/>
<line x1="531.3" y1="152.34" x2="633.8" y2="152.34" stroke="#ebebeb" stroke-width="0.7"/>
<line x1="531.3" y1="166.8" x2="633.8" y2="166.8" stroke="#ebebeb" stroke-width="0.7"/>
<line x1="531.3" y1="181.26" x2="633.8" y2="181.26" stroke="#ebebeb" stroke-width="0.7"/>
<line x1="531.3" y1="195.72" x2="633.8" y2="195.72" stroke="#ebebeb" stroke-width="0.7"/>
<line x1="531.3" y1="210.18" x2="633.8" y2="210.18" stroke="#ebebeb" stroke-width="0.7"/>
<rect x="531.3" y="13.4" width="102.5" height="204.8" fill="none" stroke="#555" stroke-width="0.9"/>
<line x1="529.3" y1="22.2" x2="531.3" y2="22.2" stroke="#555" stroke-width="0.7"/>
<text x="527.3" y="22.2" font-size="7.3" text-anchor="end" dominant-baseline="central" fill="#2a2a2a" stroke="#2a2a2a" stroke-width="0.12">Cytokine−cytokine receptor interaction</text>
<circle cx="629.5" cy="22.2" r="3.7" fill="#f4879e"/>
<line x1="529.3" y1="36.66" x2="531.3" y2="36.66" stroke="#555" stroke-width="0.7"/>
<text x="527.3" y="36.66" font-size="7.3" text-anchor="end" dominant-baseline="central" fill="#2a2a2a" stroke="#2a2a2a" stroke-width="0.12">TNF signaling pathway</text>
<circle cx="575.3" cy="36.66" r="3" fill="#df305a"/>
<line x1="529.3" y1="51.12" x2="531.3" y2="51.12" stroke="#555" stroke-width="0.7"/>
<text x="527.3" y="51.12" font-size="7.3" text-anchor="end" dominant-baseline="central" fill="#2a2a2a" stroke="#2a2a2a" stroke-width="0.12">NOD−like receptor signaling pathway</text>
<circle cx="572.3" cy="51.12" r="2.9" fill="#df305a"/>
<line x1="529.3" y1="65.58" x2="531.3" y2="65.58" stroke="#555" stroke-width="0.7"/>
<text x="527.3" y="65.58" font-size="7.3" text-anchor="end" dominant-baseline="central" fill="#2a2a2a" stroke="#2a2a2a" stroke-width="0.12">IL−17 signaling pathway</text>
<circle cx="572.3" cy="65.58" r="2.9" fill="#df305a"/>
<line x1="529.3" y1="80.04" x2="531.3" y2="80.04" stroke="#555" stroke-width="0.7"/>
<text x="527.3" y="80.04" font-size="7.3" text-anchor="end" dominant-baseline="central" fill="#2a2a2a" stroke="#2a2a2a" stroke-width="0.12">JAK−STAT signaling pathway</text>
<circle cx="569.2" cy="80.04" r="2.8" fill="#df305a"/>
<line x1="529.3" y1="94.5" x2="531.3" y2="94.5" stroke="#555" stroke-width="0.7"/>
<text x="527.3" y="94.5" font-size="7.3" text-anchor="end" dominant-baseline="central" fill="#2a2a2a" stroke="#2a2a2a" stroke-width="0.12">Chemokine signaling pathway</text>
<circle cx="569.2" cy="94.5" r="2.8" fill="#df305a"/>
<line x1="529.3" y1="108.96" x2="531.3" y2="108.96" stroke="#555" stroke-width="0.7"/>
<text x="527.3" y="108.96" font-size="7.3" text-anchor="end" dominant-baseline="central" fill="#2a2a2a" stroke="#2a2a2a" stroke-width="0.12">MAPK signaling pathway</text>
<circle cx="566.3" cy="108.96" r="2.7" fill="#df305a"/>
<line x1="529.3" y1="123.42" x2="531.3" y2="123.42" stroke="#555" stroke-width="0.7"/>
<text x="527.3" y="123.42" font-size="7.3" text-anchor="end" dominant-baseline="central" fill="#2a2a2a" stroke="#2a2a2a" stroke-width="0.12">C−type lectin receptor signaling pathway</text>
<circle cx="560.2" cy="123.42" r="2.8" fill="#df305a"/>
<line x1="529.3" y1="137.88" x2="531.3" y2="137.88" stroke="#555" stroke-width="0.7"/>
<text x="527.3" y="137.88" font-size="7.3" text-anchor="end" dominant-baseline="central" fill="#2a2a2a" stroke="#2a2a2a" stroke-width="0.12">Toll−like receptor signaling pathway</text>
<circle cx="554.2" cy="137.88" r="2.7" fill="#df305a"/>
<line x1="529.3" y1="152.34" x2="531.3" y2="152.34" stroke="#555" stroke-width="0.7"/>
<text x="527.3" y="152.34" font-size="7.3" text-anchor="end" dominant-baseline="central" fill="#2a2a2a" stroke="#2a2a2a" stroke-width="0.12">Cytosolic DNA−sensing pathway</text>
<circle cx="545.1" cy="152.34" r="2.4" fill="#df305a"/>
<line x1="529.3" y1="166.8" x2="531.3" y2="166.8" stroke="#555" stroke-width="0.7"/>
<text x="527.3" y="166.8" font-size="7.3" text-anchor="end" dominant-baseline="central" fill="#2a2a2a" stroke="#2a2a2a" stroke-width="0.12">Th1 and Th2 cell differentiation</text>
<circle cx="542.2" cy="166.8" r="2.4" fill="#df305a"/>
<line x1="529.3" y1="181.26" x2="531.3" y2="181.26" stroke="#555" stroke-width="0.7"/>
<text x="527.3" y="181.26" font-size="7.3" text-anchor="end" dominant-baseline="central" fill="#2a2a2a" stroke="#2a2a2a" stroke-width="0.12">B cell receptor signaling pathway</text>
<circle cx="542.2" cy="181.26" r="2.4" fill="#df305a"/>
<line x1="529.3" y1="195.72" x2="531.3" y2="195.72" stroke="#555" stroke-width="0.7"/>
<text x="527.3" y="195.72" font-size="7.3" text-anchor="end" dominant-baseline="central" fill="#2a2a2a" stroke="#2a2a2a" stroke-width="0.12">Toll−like receptor signaling pathway</text>
<circle cx="536.1" cy="195.72" r="1.7" fill="#df305a"/>
<line x1="529.3" y1="210.18" x2="531.3" y2="210.18" stroke="#555" stroke-width="0.7"/>
<text x="527.3" y="210.18" font-size="7.3" text-anchor="end" dominant-baseline="central" fill="#2a2a2a" stroke="#2a2a2a" stroke-width="0.12">Antigen processing and presentation</text>
<circle cx="536.1" cy="210.18" r="1.7" fill="#df305a"/>
<line x1="548.4" y1="218.2" x2="548.4" y2="220.2" stroke="#555" stroke-width="0.7"/>
<text x="548.4" y="224.8" font-size="7.2" text-anchor="middle" dominant-baseline="central" fill="#333" stroke="#333" stroke-width="0.12">0.025</text>
<line x1="569.6" y1="218.2" x2="569.6" y2="220.2" stroke="#555" stroke-width="0.7"/>
<text x="569.6" y="224.8" font-size="7.2" text-anchor="middle" dominant-baseline="central" fill="#333" stroke="#333" stroke-width="0.12">0.050</text>
<line x1="591" y1="218.2" x2="591" y2="220.2" stroke="#555" stroke-width="0.7"/>
<text x="591" y="224.8" font-size="7.2" text-anchor="middle" dominant-baseline="central" fill="#333" stroke="#333" stroke-width="0.12">0.075</text>
<line x1="612" y1="218.2" x2="612" y2="220.2" stroke="#555" stroke-width="0.7"/>
<text x="612" y="224.8" font-size="7.2" text-anchor="middle" dominant-baseline="central" fill="#333" stroke="#333" stroke-width="0.12">0.100</text>
<line x1="633" y1="218.2" x2="633" y2="220.2" stroke="#555" stroke-width="0.7"/>
<text x="633" y="224.8" font-size="7.2" text-anchor="middle" dominant-baseline="central" fill="#333" stroke="#333" stroke-width="0.12">0.125</text>
<text x="582.5" y="234.5" font-size="7.4" text-anchor="middle" dominant-baseline="central" fill="#222" stroke="#222" stroke-width="0.12">Gene ratio</text>
<text x="642.8" y="71.3" font-size="7.2" text-anchor="start" dominant-baseline="central" fill="#222" stroke="#222" stroke-width="0.12">Count</text>
<circle cx="646.3" cy="80" r="2.2" fill="#000"/>
<text x="652.3" y="80" font-size="7.2" text-anchor="start" dominant-baseline="central" fill="#222" stroke="#222" stroke-width="0.12">10</text>
<circle cx="646.3" cy="88.6" r="2.75" fill="#000"/>
<text x="652.3" y="88.6" font-size="7.2" text-anchor="start" dominant-baseline="central" fill="#222" stroke="#222" stroke-width="0.12">20</text>
<circle cx="646.3" cy="97.4" r="3.2" fill="#000"/>
<text x="652.3" y="97.4" font-size="7.2" text-anchor="start" dominant-baseline="central" fill="#222" stroke="#222" stroke-width="0.12">30</text>
<text x="637.6" y="113.6" font-size="7.2" text-anchor="start" dominant-baseline="central" fill="#222" stroke="#222" stroke-width="0.12">−log10(pvalue)</text>
<defs><linearGradient id="dcb" x1="0" y1="0" x2="0" y2="1"><stop offset="0" stop-color="#f8a3b3"/><stop offset="1" stop-color="#dc1c4c"/></linearGradient></defs>
<rect x="643.6" y="124.8" width="6.4" height="30.2" fill="url(#dcb)"/>
<line x1="643.6" y1="125.6" x2="645" y2="125.6" stroke="#fff" stroke-width="0.5"/>
<line x1="648.6" y1="125.6" x2="650" y2="125.6" stroke="#fff" stroke-width="0.5"/>
<text x="652.3" y="125.6" font-size="7.2" text-anchor="start" dominant-baseline="central" fill="#222" stroke="#222" stroke-width="0.12">12</text>
<line x1="643.6" y1="132.7" x2="645" y2="132.7" stroke="#fff" stroke-width="0.5"/>
<line x1="648.6" y1="132.7" x2="650" y2="132.7" stroke="#fff" stroke-width="0.5"/>
<text x="652.3" y="132.7" font-size="7.2" text-anchor="start" dominant-baseline="central" fill="#222" stroke="#222" stroke-width="0.12">9</text>
<line x1="643.6" y1="140" x2="645" y2="140" stroke="#fff" stroke-width="0.5"/>
<line x1="648.6" y1="140" x2="650" y2="140" stroke="#fff" stroke-width="0.5"/>
<text x="652.3" y="140" font-size="7.2" text-anchor="start" dominant-baseline="central" fill="#222" stroke="#222" stroke-width="0.12">6</text>
<line x1="643.6" y1="147.2" x2="645" y2="147.2" stroke="#fff" stroke-width="0.5"/>
<line x1="648.6" y1="147.2" x2="650" y2="147.2" stroke="#fff" stroke-width="0.5"/>
<text x="652.3" y="147.2" font-size="7.2" text-anchor="start" dominant-baseline="central" fill="#222" stroke="#222" stroke-width="0.12">3</text>
<text x="404.2" y="9.2" font-size="12" text-anchor="start" dominant-baseline="alphabetic" fill="#000" font-weight="bold">d</text>
</g>
<g>
<defs><path id="ep0_0" d="M146.21 261.44A113.8 113.8 0 0 1 240.06 325.8" fill="none"/><path id="ep0_1" d="M145.65 268.62A106.6 106.6 0 0 1 233.57 328.9" fill="none"/><path id="ep1_0" d="M210.17 293.48A109.2 109.2 0 0 1 244.3 397.21" fill="none"/><path id="ep2_0" d="M250.78 365.15A113.8 113.8 0 0 1 202.54 468.22" fill="none"/><path id="ep2_1" d="M243.61 365.77A106.6 106.6 0 0 1 198.41 462.31" fill="none"/><path id="ep3_0" d="M235.33 429.25A112 112 0 0 1 139.3 486.88" fill="none"/><path id="ep4_0" d="M172.67 478.25A109.2 109.2 0 0 1 65.54 457.12" fill="none"/><path id="ep5_0" d="M88.2 477.51A113.8 113.8 0 0 1 23.93 383.59" fill="none"/><path id="ep5_1" d="M91.31 471.02A106.6 106.6 0 0 1 31.11 383.04" fill="none"/><path id="ep6_0" d="M35.31 425.19A113.8 113.8 0 0 1 42.81 311.63" fill="none"/><path id="ep6_1" d="M41.77 422.01A106.6 106.6 0 0 1 48.79 315.64" fill="none"/><path id="ep7_0" d="M27.8 344.26A113.8 113.8 0 0 1 109.14 264.67" fill="none"/><path id="ep7_1" d="M34.74 346.2A106.6 106.6 0 0 1 110.92 271.64" fill="none"/><path id="ep8_0" d="M70.79 282.63A113.8 113.8 0 0 1 184 271.08" fill="none"/><path id="ep8_1" d="M75.01 288.47A106.6 106.6 0 0 1 181.06 277.65" fill="none"/></defs>
<path d="M137.4 300.8A74.1 74.1 0 1 1 137.39 300.8L137.39 340.9A34 34 0 1 0 137.4 340.9Z" fill="#efefef"/>
<path d="M137.4 304.76A70.14 70.14 0 0 1 182.49 321.17L159.25 348.85A34 34 0 0 0 137.4 340.9Z" fill="#0fb04a"/>
<path d="M182.43 321.23A70.06 70.06 0 0 1 206.4 362.73L170.88 369A34 34 0 0 0 159.25 348.85Z" fill="#0fb04a"/>
<path d="M194.92 364.76A58.41 58.41 0 0 1 187.99 404.11L166.84 391.9A34 34 0 0 0 170.88 369Z" fill="#0fb04a"/>
<path d="M177 397.76A45.73 45.73 0 0 1 153.04 417.87L149.03 406.85A34 34 0 0 0 166.84 391.9Z" fill="#0fb04a"/>
<path d="M162.02 442.55A71.99 71.99 0 0 1 112.78 442.55L125.77 406.85A34 34 0 0 0 149.03 406.85Z" fill="#fd7e10"/>
<path d="M116.81 431.47A60.2 60.2 0 0 1 85.26 405L107.96 391.9A34 34 0 0 0 125.77 406.85Z" fill="#fd7e10"/>
<path d="M86.18 404.47A59.14 59.14 0 0 1 79.16 364.63L103.92 369A34 34 0 0 0 107.96 391.9Z" fill="#fd7e10"/>
<path d="M83.35 365.37A54.88 54.88 0 0 1 102.12 332.86L115.55 348.85A34 34 0 0 0 103.92 369Z" fill="#fd7e10"/>
<path d="M102.55 333.37A54.21 54.21 0 0 1 137.4 320.69L137.4 340.9A34 34 0 0 0 115.55 348.85Z" fill="#fd7e10"/>
<line x1="137.4" y1="341.4" x2="137.4" y2="300.4" stroke="#fff" stroke-width="0.7"/>
<line x1="158.93" y1="349.24" x2="185.29" y2="317.83" stroke="#fff" stroke-width="0.7"/>
<line x1="170.39" y1="369.08" x2="210.77" y2="361.96" stroke="#fff" stroke-width="0.7"/>
<line x1="166.41" y1="391.65" x2="201.92" y2="412.15" stroke="#fff" stroke-width="0.7"/>
<line x1="148.86" y1="406.38" x2="162.88" y2="444.91" stroke="#fff" stroke-width="0.7"/>
<line x1="125.94" y1="406.38" x2="111.92" y2="444.91" stroke="#fff" stroke-width="0.7"/>
<line x1="108.39" y1="391.65" x2="72.88" y2="412.15" stroke="#fff" stroke-width="0.7"/>
<line x1="104.41" y1="369.08" x2="64.03" y2="361.96" stroke="#fff" stroke-width="0.7"/>
<line x1="115.87" y1="349.24" x2="89.51" y2="317.83" stroke="#fff" stroke-width="0.7"/>
<path d="M138.21 271.8A103.1 103.1 0 0 1 203.05 295.4L199.61 299.57A97.7 97.7 0 0 0 138.17 277.2Z" fill="#0fb04a"/>
<path d="M138.22 280.7A94.2 94.2 0 0 1 188.07 295.49L186.51 297.93A91.3 91.3 0 0 0 138.2 283.6Z" fill="#b30fc6"/>
<path d="M138.16 288A86.9 86.9 0 0 1 192.68 307.85L190.64 310.32A83.7 83.7 0 0 0 138.13 291.2Z" fill="#b4b18b"/>
<path d="M138.16 288A86.9 86.9 0 0 1 141.95 288.12L141.78 291.31A83.7 83.7 0 0 0 138.13 291.2Z" fill="#6e5020"/>
<path d="M138.23 295.2A79.7 79.7 0 0 1 187.99 313.31L186.27 315.4A77 77 0 0 0 138.21 297.9Z" fill="#12306c"/>
<path d="M204.29 296.44A103.1 103.1 0 0 1 238.79 356.2L233.48 357.18A97.7 97.7 0 0 0 200.79 300.55Z" fill="#0fb04a"/>
<path d="M198.58 303.27A94.2 94.2 0 0 1 215.48 322.2L213.07 323.82A91.3 91.3 0 0 0 196.69 305.47Z" fill="#b30fc6"/>
<path d="M193.84 308.82A86.9 86.9 0 0 1 222.84 359.06L219.7 359.65A83.7 83.7 0 0 0 191.76 311.25Z" fill="#b4b18b"/>
<path d="M193.84 308.82A86.9 86.9 0 0 1 196.67 311.35L194.48 313.69A83.7 83.7 0 0 0 191.76 311.25Z" fill="#6e5020"/>
<path d="M189.27 314.39A79.7 79.7 0 0 1 205.56 333.59L203.25 334.99A77 77 0 0 0 187.51 316.44Z" fill="#7a98c6"/>
<path d="M239.07 357.79A103.1 103.1 0 0 1 227.09 425.75L222.39 423.08A97.7 97.7 0 0 0 233.75 358.69Z" fill="#0fb04a"/>
<path d="M230.31 359.35A94.2 94.2 0 0 1 230.12 391.55L227.26 391.04A91.3 91.3 0 0 0 227.45 359.83Z" fill="#b30fc6"/>
<path d="M223.11 360.56A86.9 86.9 0 0 1 213.03 417.69L210.25 416.12A83.7 83.7 0 0 0 219.95 361.09Z" fill="#b4b18b"/>
<path d="M223.11 360.56A86.9 86.9 0 0 1 223.65 364.31L220.48 364.7A83.7 83.7 0 0 0 219.95 361.09Z" fill="#6e5020"/>
<path d="M216.03 361.88A79.7 79.7 0 0 1 217.09 376.15L214.39 376.11A77 77 0 0 0 213.37 362.32Z" fill="#a2bce0"/>
<path d="M226.28 427.15A103.1 103.1 0 0 1 173.42 471.5L171.54 466.44A97.7 97.7 0 0 0 221.62 424.41Z" fill="#0fb04a"/>
<path d="M218.57 422.71A94.2 94.2 0 0 1 171.13 462.86L170.09 460.15A91.3 91.3 0 0 0 216.07 421.24Z" fill="#b30fc6"/>
<path d="M212.28 419.01A86.9 86.9 0 0 1 167.83 456.3L166.71 453.3A83.7 83.7 0 0 0 209.52 417.38Z" fill="#b4b18b"/>
<path d="M212.28 419.01A86.9 86.9 0 0 1 210.28 422.23L207.6 420.49A83.7 83.7 0 0 0 209.52 417.38Z" fill="#6e5020"/>
<path d="M206 415.47A79.7 79.7 0 0 1 204.27 418.27L202 416.8A77 77 0 0 0 203.68 414.1Z" fill="#c9daf0"/>
<path d="M171.9 472.06A103.1 103.1 0 0 1 102.9 472.06L104.71 466.97A97.7 97.7 0 0 0 170.09 466.97Z" fill="#fd7e10"/>
<path d="M168.84 463.7A94.2 94.2 0 0 1 147.34 468.57L147.04 465.69A91.3 91.3 0 0 0 167.88 460.96Z" fill="#b30fc6"/>
<path d="M166.41 456.82A86.9 86.9 0 0 1 108.39 456.82L109.46 453.8A83.7 83.7 0 0 0 165.34 453.8Z" fill="#b4b18b"/>
<path d="M166.41 456.82A86.9 86.9 0 0 1 162.81 458L161.87 454.94A83.7 83.7 0 0 0 165.34 453.8Z" fill="#6e5020"/>
<path d="M163.87 450.07A79.7 79.7 0 0 1 139.27 454.58L139.2 451.88A77 77 0 0 0 162.98 447.53Z" fill="#7a98c6"/>
<path d="M101.38 471.5A103.1 103.1 0 0 1 48.52 427.15L53.18 424.41A97.7 97.7 0 0 0 103.26 466.44Z" fill="#fd7e10"/>
<path d="M104.41 463.13A94.2 94.2 0 0 1 87.12 454.56L88.67 452.11A91.3 91.3 0 0 0 105.43 460.42Z" fill="#b30fc6"/>
<path d="M106.97 456.3A86.9 86.9 0 0 1 62.52 419.01L65.28 417.38A83.7 83.7 0 0 0 108.09 453.3Z" fill="#b4b18b"/>
<path d="M106.97 456.3A86.9 86.9 0 0 1 103.45 454.89L104.7 451.95A83.7 83.7 0 0 0 108.09 453.3Z" fill="#6e5020"/>
<path d="M109.36 449.5A79.7 79.7 0 0 1 99.43 444.98L100.72 442.6A77 77 0 0 0 110.31 446.98Z" fill="#a9c2e3"/>
<path d="M47.71 425.75A103.1 103.1 0 0 1 35.73 357.79L41.05 358.69A97.7 97.7 0 0 0 52.41 423.08Z" fill="#fd7e10"/>
<path d="M55.41 421.29A94.2 94.2 0 0 1 46.15 398.29L48.96 397.57A91.3 91.3 0 0 0 57.94 419.86Z" fill="#b30fc6"/>
<path d="M61.77 417.69A86.9 86.9 0 0 1 51.69 360.56L54.85 361.09A83.7 83.7 0 0 0 64.55 416.12Z" fill="#b4b18b"/>
<path d="M61.77 417.69A86.9 86.9 0 0 1 59.97 414.35L62.82 412.9A83.7 83.7 0 0 0 64.55 416.12Z" fill="#6e5020"/>
<path d="M67.96 414.03A79.7 79.7 0 0 1 62.82 403L65.34 402.05A77 77 0 0 0 70.32 412.7Z" fill="#a9c2e3"/>
<path d="M36.01 356.2A103.1 103.1 0 0 1 70.51 296.44L74.01 300.55A97.7 97.7 0 0 0 41.32 357.18Z" fill="#fd7e10"/>
<path d="M44.78 357.73A94.2 94.2 0 0 1 60.44 320.57L62.81 322.25A91.3 91.3 0 0 0 47.63 358.26Z" fill="#b30fc6"/>
<path d="M51.96 359.06A86.9 86.9 0 0 1 80.96 308.82L83.04 311.25A83.7 83.7 0 0 0 55.1 359.65Z" fill="#b4b18b"/>
<path d="M51.96 359.06A86.9 86.9 0 0 1 52.73 355.35L55.85 356.07A83.7 83.7 0 0 0 55.1 359.65Z" fill="#6e5020"/>
<path d="M59.06 360.24A79.7 79.7 0 0 1 62.19 348.52L64.74 349.42A77 77 0 0 0 61.71 360.74Z" fill="#a9c2e3"/>
<path d="M71.75 295.4A103.1 103.1 0 0 1 136.59 271.8L136.63 277.2A97.7 97.7 0 0 0 75.19 299.57Z" fill="#fd7e10"/>
<path d="M77.48 302.21A94.2 94.2 0 0 1 112.04 284.18L112.82 286.97A91.3 91.3 0 0 0 79.33 304.45Z" fill="#b30fc6"/>
<path d="M82.12 307.85A86.9 86.9 0 0 1 136.64 288L136.67 291.2A83.7 83.7 0 0 0 84.16 310.32Z" fill="#b4b18b"/>
<path d="M82.12 307.85A86.9 86.9 0 0 1 85.1 305.5L87.03 308.05A83.7 83.7 0 0 0 84.16 310.32Z" fill="#6e5020"/>
<path d="M86.81 313.31A79.7 79.7 0 0 1 95.69 306.98L97.11 309.28A77 77 0 0 0 88.53 315.4Z" fill="#a9c2e3"/>
<text x="140.67" y="289.66" font-size="7.2" text-anchor="middle" dominant-baseline="central" fill="#1a1a1a" stroke="#1a1a1a" stroke-width="0.12" transform="rotate(2.2 140.67 289.66)">94</text>
<text x="170.45" y="295.5" font-size="7.2" text-anchor="middle" dominant-baseline="central" fill="#1a1a1a" stroke="#1a1a1a" stroke-width="0.12" transform="rotate(22.6 170.45 295.5)">248</text>
<text x="189.08" y="297.82" font-size="7.2" text-anchor="middle" dominant-baseline="central" fill="#1a1a1a" stroke="#1a1a1a" stroke-width="0.12" transform="rotate(33.84 189.08 297.82)">267</text>
<text x="163.18" y="300.01" font-size="7.2" text-anchor="middle" dominant-baseline="central" fill="#1a1a1a" stroke="#1a1a1a" stroke-width="0.12" transform="rotate(19 163.18 300.01)">12.87</text>
<text x="158.57" y="312.71" font-size="7.2" text-anchor="middle" dominant-baseline="central" fill="#1a1a1a" stroke="#1a1a1a" stroke-width="0.12" transform="rotate(18.8 158.57 312.71)">0.1273</text>
<text x="194.7" y="311.71" font-size="7.2" text-anchor="middle" dominant-baseline="central" fill="#1a1a1a" stroke="#1a1a1a" stroke-width="0.12" transform="rotate(42.2 194.7 311.71)">16</text>
<text x="212.18" y="332.42" font-size="7.2" text-anchor="middle" dominant-baseline="central" fill="#1a1a1a" stroke="#1a1a1a" stroke-width="0.12" transform="rotate(60.4 212.18 332.42)">266</text>
<text x="215.47" y="324.74" font-size="7.2" text-anchor="middle" dominant-baseline="central" fill="#1a1a1a" stroke="#1a1a1a" stroke-width="0.12" transform="rotate(57.28 215.47 324.74)">129</text>
<text x="207.06" y="338.48" font-size="7.2" text-anchor="middle" dominant-baseline="central" fill="#1a1a1a" stroke="#1a1a1a" stroke-width="0.12" transform="rotate(62.4 207.06 338.48)">6</text>
<text x="191.03" y="342.42" font-size="7.2" text-anchor="middle" dominant-baseline="central" fill="#1a1a1a" stroke="#1a1a1a" stroke-width="0.12" transform="rotate(58.8 191.03 342.42)">0.127</text>
<text x="221.91" y="363.32" font-size="7.2" text-anchor="middle" dominant-baseline="central" fill="#1a1a1a" stroke="#1a1a1a" stroke-width="0.12" transform="rotate(82.2 221.91 363.32)">14</text>
<text x="222.78" y="385.23" font-size="7.2" text-anchor="middle" dominant-baseline="central" fill="#1a1a1a" stroke="#1a1a1a" stroke-width="0.12" transform="rotate(96.9 222.78 385.23)">268</text>
<text x="228.34" y="393.37" font-size="7.2" text-anchor="middle" dominant-baseline="central" fill="#1a1a1a" stroke="#1a1a1a" stroke-width="0.12" transform="rotate(101.48 228.34 393.37)">164</text>
<text x="215.98" y="376.82" font-size="7.2" text-anchor="middle" dominant-baseline="central" fill="#1a1a1a" stroke="#1a1a1a" stroke-width="0.12" transform="rotate(91.4 215.98 376.82)">3.4</text>
<text x="189.74" y="379.02" font-size="7.2" text-anchor="middle" dominant-baseline="central" fill="#1a1a1a" stroke="#1a1a1a" stroke-width="0.12" transform="rotate(-85.5 189.74 379.02)">0.0854</text>
<text x="209.58" y="420.35" font-size="7.2" text-anchor="middle" dominant-baseline="central" fill="#1a1a1a" stroke="#1a1a1a" stroke-width="0.12" transform="rotate(-57.8 209.58 420.35)">18</text>
<text x="192.56" y="440.88" font-size="7.2" text-anchor="middle" dominant-baseline="central" fill="#1a1a1a" stroke="#1a1a1a" stroke-width="0.12" transform="rotate(-39.9 192.56 440.88)">269</text>
<text x="200.08" y="443.06" font-size="7.2" text-anchor="middle" dominant-baseline="central" fill="#1a1a1a" stroke="#1a1a1a" stroke-width="0.12" transform="rotate(-42.6 200.08 443.06)">324</text>
<text x="198.57" y="424.26" font-size="7.2" text-anchor="middle" dominant-baseline="central" fill="#1a1a1a" stroke="#1a1a1a" stroke-width="0.12" transform="rotate(-51.1 198.57 424.26)">0.78</text>
<text x="175.7" y="409.63" font-size="7.2" text-anchor="middle" dominant-baseline="central" fill="#1a1a1a" stroke="#1a1a1a" stroke-width="0.12" transform="rotate(-47.8 175.7 409.63)">0.0401</text>
<text x="163.48" y="456.12" font-size="7.2" text-anchor="middle" dominant-baseline="central" fill="#1a1a1a" stroke="#1a1a1a" stroke-width="0.12" transform="rotate(-17.8 163.48 456.12)">15</text>
<text x="140.7" y="460.84" font-size="7.2" text-anchor="middle" dominant-baseline="central" fill="#1a1a1a" stroke="#1a1a1a" stroke-width="0.12" transform="rotate(-2.2 140.7 460.84)">267</text>
<text x="145.1" y="467.38" font-size="7.2" text-anchor="middle" dominant-baseline="central" fill="#1a1a1a" stroke="#1a1a1a" stroke-width="0.12" transform="rotate(-4.76 145.1 467.38)">112</text>
<text x="129.32" y="453.08" font-size="7.2" text-anchor="middle" dominant-baseline="central" fill="#1a1a1a" stroke="#1a1a1a" stroke-width="0.12" transform="rotate(5.9 129.32 453.08)">5.96</text>
<text x="137.4" y="439.1" font-size="7.2" text-anchor="middle" dominant-baseline="central" fill="#1a1a1a" stroke="#1a1a1a" stroke-width="0.12" transform="rotate(0 137.4 439.1)">0.1339</text>
<text x="105.17" y="453.88" font-size="7.2" text-anchor="middle" dominant-baseline="central" fill="#1a1a1a" stroke="#1a1a1a" stroke-width="0.12" transform="rotate(22.2 105.17 453.88)">9</text>
<text x="84.22" y="442.48" font-size="7.2" text-anchor="middle" dominant-baseline="central" fill="#1a1a1a" stroke="#1a1a1a" stroke-width="0.12" transform="rotate(38.2 84.22 442.48)">273</text>
<text x="86.1" y="452.23" font-size="7.2" text-anchor="middle" dominant-baseline="central" fill="#1a1a1a" stroke="#1a1a1a" stroke-width="0.12" transform="rotate(33.56 86.1 452.23)">98</text>
<text x="93.22" y="439.91" font-size="7.2" text-anchor="middle" dominant-baseline="central" fill="#1a1a1a" stroke="#1a1a1a" stroke-width="0.12" transform="rotate(34.2 93.22 439.91)">2.59</text>
<text x="103.49" y="417.69" font-size="7.2" text-anchor="middle" dominant-baseline="central" fill="#1a1a1a" stroke="#1a1a1a" stroke-width="0.12" transform="rotate(38.4 103.49 417.69)">0.0918</text>
<text x="61.95" y="414.68" font-size="7.2" text-anchor="middle" dominant-baseline="central" fill="#1a1a1a" stroke="#1a1a1a" stroke-width="0.12" transform="rotate(62.2 61.95 414.68)">14</text>
<text x="53.07" y="391.75" font-size="7.2" text-anchor="middle" dominant-baseline="central" fill="#1a1a1a" stroke="#1a1a1a" stroke-width="0.12" transform="rotate(78.7 53.07 391.75)">271</text>
<text x="47.01" y="395.9" font-size="7.2" text-anchor="middle" dominant-baseline="central" fill="#1a1a1a" stroke="#1a1a1a" stroke-width="0.12" transform="rotate(76.92 47.01 395.9)">126</text>
<text x="61.44" y="395.11" font-size="7.2" text-anchor="middle" dominant-baseline="central" fill="#1a1a1a" stroke="#1a1a1a" stroke-width="0.12" transform="rotate(75.1 61.44 395.11)">2.89</text>
<text x="84.4" y="386.26" font-size="7.2" text-anchor="middle" dominant-baseline="central" fill="#1a1a1a" stroke="#1a1a1a" stroke-width="0.12" transform="rotate(77.9 84.4 386.26)">0.088</text>
<text x="54.03" y="356.87" font-size="7.2" text-anchor="middle" dominant-baseline="central" fill="#1a1a1a" stroke="#1a1a1a" stroke-width="0.12" transform="rotate(-77.8 54.03 356.87)">15</text>
<text x="64.15" y="329.84" font-size="7.2" text-anchor="middle" dominant-baseline="central" fill="#1a1a1a" stroke="#1a1a1a" stroke-width="0.12" transform="rotate(-58.4 64.15 329.84)">267</text>
<text x="62.82" y="319.67" font-size="7.2" text-anchor="middle" dominant-baseline="central" fill="#1a1a1a" stroke="#1a1a1a" stroke-width="0.12" transform="rotate(-53.48 62.82 319.67)">206</text>
<text x="64.68" y="345.07" font-size="7.2" text-anchor="middle" dominant-baseline="central" fill="#1a1a1a" stroke="#1a1a1a" stroke-width="0.12" transform="rotate(-67.7 64.68 345.07)">2.88</text>
<text x="94.57" y="347.4" font-size="7.2" text-anchor="middle" dominant-baseline="central" fill="#1a1a1a" stroke="#1a1a1a" stroke-width="0.12" transform="rotate(-57.3 94.57 347.4)">0.0728</text>
<text x="85.12" y="307.5" font-size="7.2" text-anchor="middle" dominant-baseline="central" fill="#1a1a1a" stroke="#1a1a1a" stroke-width="0.12" transform="rotate(-37.8 85.12 307.5)">14</text>
<text x="108.27" y="293.98" font-size="7.2" text-anchor="middle" dominant-baseline="central" fill="#1a1a1a" stroke="#1a1a1a" stroke-width="0.12" transform="rotate(-19.8 108.27 293.98)">268</text>
<text x="114.45" y="284.98" font-size="7.2" text-anchor="middle" dominant-baseline="central" fill="#1a1a1a" stroke="#1a1a1a" stroke-width="0.12" transform="rotate(-14.32 114.45 284.98)">199</text>
<text x="103.44" y="304.02" font-size="7.2" text-anchor="middle" dominant-baseline="central" fill="#1a1a1a" stroke="#1a1a1a" stroke-width="0.12" transform="rotate(-25.6 103.44 304.02)">2.59</text>
<text x="119.66" y="327.94" font-size="7.2" text-anchor="middle" dominant-baseline="central" fill="#1a1a1a" stroke="#1a1a1a" stroke-width="0.12" transform="rotate(-20.7 119.66 327.94)">0.0704</text>
<text font-size="7.2" fill="#1a1a1a" stroke="#1a1a1a" stroke-width="0.12"><textPath href="#ep0_0">Cytokine-cytokine</textPath></text>
<text font-size="7.2" fill="#1a1a1a" stroke="#1a1a1a" stroke-width="0.12"><textPath href="#ep0_1">receptor interaction</textPath></text>
<text font-size="7.2" fill="#1a1a1a" stroke="#1a1a1a" stroke-width="0.12"><textPath href="#ep1_0">TNF signaling pathway</textPath></text>
<text font-size="7.2" fill="#1a1a1a" stroke="#1a1a1a" stroke-width="0.12"><textPath href="#ep2_0">JAK-STAT signaling</textPath></text>
<text font-size="7.2" fill="#1a1a1a" stroke="#1a1a1a" stroke-width="0.12"><textPath href="#ep2_1">pathway</textPath></text>
<text font-size="7.2" fill="#1a1a1a" stroke="#1a1a1a" stroke-width="0.12"><textPath href="#ep3_0">MAPK signaling pathway</textPath></text>
<text font-size="7.2" fill="#1a1a1a" stroke="#1a1a1a" stroke-width="0.12"><textPath href="#ep4_0">IL-17 signaling pathway</textPath></text>
<text font-size="7.2" fill="#1a1a1a" stroke="#1a1a1a" stroke-width="0.12"><textPath href="#ep5_0">Toll-like receptor</textPath></text>
<text font-size="7.2" fill="#1a1a1a" stroke="#1a1a1a" stroke-width="0.12"><textPath href="#ep5_1">signaling pathway</textPath></text>
<text font-size="7.2" fill="#1a1a1a" stroke="#1a1a1a" stroke-width="0.12"><textPath href="#ep6_0">C-type lectin receptor</textPath></text>
<text font-size="7.2" fill="#1a1a1a" stroke="#1a1a1a" stroke-width="0.12"><textPath href="#ep6_1">signaling pathway</textPath></text>
<text font-size="7.2" fill="#1a1a1a" stroke="#1a1a1a" stroke-width="0.12"><textPath href="#ep7_0">NOD-like receptor</textPath></text>
<text font-size="7.2" fill="#1a1a1a" stroke="#1a1a1a" stroke-width="0.12"><textPath href="#ep7_1">signaling pathway</textPath></text>
<text font-size="7.2" fill="#1a1a1a" stroke="#1a1a1a" stroke-width="0.12"><textPath href="#ep8_0">Chemokine signaling</textPath></text>
<text font-size="7.2" fill="#1a1a1a" stroke="#1a1a1a" stroke-width="0.12"><textPath href="#ep8_1">pathway</textPath></text>
<rect x="241.2" y="270.9" width="6.2" height="6.2" fill="#0fb04a"/>
<text x="251" y="274" font-size="7.1" text-anchor="start" dominant-baseline="central" fill="#1a1a1a" stroke="#1a1a1a" stroke-width="0.12">Enviroment Information Processing</text>
<rect x="241.2" y="280.18" width="6.2" height="6.2" fill="#fd7e10"/>
<text x="251" y="283.28" font-size="7.1" text-anchor="start" dominant-baseline="central" fill="#1a1a1a" stroke="#1a1a1a" stroke-width="0.12">Organismal Systems</text>
<rect x="241.2" y="289.46" width="6.2" height="6.2" fill="#b30fc6"/>
<text x="251" y="292.56" font-size="7.1" text-anchor="start" dominant-baseline="central" fill="#1a1a1a" stroke="#1a1a1a" stroke-width="0.12">Gene number of this pathway</text>
<rect x="241.2" y="298.74" width="6.2" height="6.2" fill="#6e5020"/>
<text x="251" y="301.84" font-size="7.1" text-anchor="start" dominant-baseline="central" fill="#1a1a1a" stroke="#1a1a1a" stroke-width="0.12">DEGs in this pathway</text>
<rect x="241.2" y="308.02" width="6.2" height="6.2" fill="#b4b18b"/>
<text x="251" y="311.12" font-size="7.1" text-anchor="start" dominant-baseline="central" fill="#1a1a1a" stroke="#1a1a1a" stroke-width="0.12">Other DEGs</text>
<defs><linearGradient id="ecb" x1="0" y1="0" x2="0" y2="1"><stop offset="0" stop-color="#08285f"/><stop offset="0.5" stop-color="#4f75ad"/><stop offset="1" stop-color="#c8dcf0"/></linearGradient></defs>
<rect x="264.9" y="338.9" width="7.8" height="47.9" fill="url(#ecb)"/>
<line x1="264.9" y1="342.2" x2="266.4" y2="342.2" stroke="#fff" stroke-width="0.6"/>
<line x1="271.2" y1="342.2" x2="272.7" y2="342.2" stroke="#fff" stroke-width="0.6"/>
<text x="275.5" y="342.2" font-size="7.2" text-anchor="start" dominant-baseline="central" fill="#1a1a1a" stroke="#1a1a1a" stroke-width="0.12">0</text>
<line x1="264.9" y1="356" x2="266.4" y2="356" stroke="#fff" stroke-width="0.6"/>
<line x1="271.2" y1="356" x2="272.7" y2="356" stroke="#fff" stroke-width="0.6"/>
<text x="275.5" y="356" font-size="7.2" text-anchor="start" dominant-baseline="central" fill="#1a1a1a" stroke="#1a1a1a" stroke-width="0.12">5</text>
<line x1="264.9" y1="370" x2="266.4" y2="370" stroke="#fff" stroke-width="0.6"/>
<line x1="271.2" y1="370" x2="272.7" y2="370" stroke="#fff" stroke-width="0.6"/>
<text x="275.5" y="370" font-size="7.2" text-anchor="start" dominant-baseline="central" fill="#1a1a1a" stroke="#1a1a1a" stroke-width="0.12">10</text>
<line x1="264.9" y1="383.9" x2="266.4" y2="383.9" stroke="#fff" stroke-width="0.6"/>
<line x1="271.2" y1="383.9" x2="272.7" y2="383.9" stroke="#fff" stroke-width="0.6"/>
<text x="275.5" y="383.9" font-size="7.2" text-anchor="start" dominant-baseline="central" fill="#1a1a1a" stroke="#1a1a1a" stroke-width="0.12">15</text>
<text x="1.2" y="271" font-size="12" text-anchor="start" dominant-baseline="alphabetic" fill="#000" font-weight="bold">e</text>
</g>
<g>
<path d="M463.05 281.48A93.56 87.6 0 0 0 459.8 281.8Q471.2 368.75 474.34 281.2A93.56 87.6 0 0 0 472.02 281.15Q471.2 368.75 463.05 281.48Z" fill="#1dc3a0"/>
<path d="M448.88 283.68A93.56 87.6 0 0 0 447.3 284.06Q471.2 368.75 476.67 281.3A93.56 87.6 0 0 0 474.34 281.2Q471.2 368.75 448.88 283.68Z" fill="#1dc3a0"/>
<path d="M441.98 285.53A93.56 87.6 0 0 0 439.92 286.19Q471.2 368.75 478.99 281.45A93.56 87.6 0 0 0 476.67 281.3Q471.2 368.75 441.98 285.53Z" fill="#1dc3a0"/>
<path d="M435.25 287.88A93.56 87.6 0 0 0 433.74 288.48Q471.2 368.75 481.3 281.66A93.56 87.6 0 0 0 478.99 281.45Q471.2 368.75 435.25 287.88Z" fill="#1dc3a0"/>
<path d="M416.47 297.7A93.56 87.6 0 0 0 415.59 298.3Q471.2 368.75 483.61 281.92A93.56 87.6 0 0 0 481.3 281.66Q471.2 368.75 416.47 297.7Z" fill="#1dc3a0"/>
<path d="M405.51 306.38A93.56 87.6 0 0 0 403.98 307.82Q471.2 368.75 485.92 282.24A93.56 87.6 0 0 0 483.61 281.92Q471.2 368.75 405.51 306.38Z" fill="#1dc3a0"/>
<path d="M400.59 311.28A93.56 87.6 0 0 0 398.49 313.62Q471.2 368.75 488.21 282.61A93.56 87.6 0 0 0 485.92 282.24Q471.2 368.75 400.59 311.28Z" fill="#1dc3a0"/>
<path d="M396.09 316.52A93.56 87.6 0 0 0 394.81 318.17Q471.2 368.75 490.49 283.03A93.56 87.6 0 0 0 488.21 282.61Q471.2 368.75 396.09 316.52Z" fill="#1dc3a0"/>
<path d="M392.03 322.07A93.56 87.6 0 0 0 390.34 324.69Q471.2 368.75 492.76 283.51A93.56 87.6 0 0 0 490.49 283.03Q471.2 368.75 392.03 322.07Z" fill="#1dc3a0"/>
<path d="M388.44 327.89A93.56 87.6 0 0 0 386.97 330.62Q471.2 368.75 495.02 284.04A93.56 87.6 0 0 0 492.76 283.51Q471.2 368.75 388.44 327.89Z" fill="#1dc3a0"/>
<path d="M385.34 333.96A93.56 87.6 0 0 0 384.09 336.79Q471.2 368.75 497.26 284.62A93.56 87.6 0 0 0 495.02 284.04Q471.2 368.75 385.34 333.96Z" fill="#1dc3a0"/>
<path d="M382.74 340.23A93.56 87.6 0 0 0 382.06 342.17Q471.2 368.75 499.49 285.25A93.56 87.6 0 0 0 497.26 284.62Q471.2 368.75 382.74 340.23Z" fill="#1dc3a0"/>
<path d="M379.12 353.24A93.56 87.6 0 0 0 378.76 355.25Q471.2 368.75 501.7 285.94A93.56 87.6 0 0 0 499.49 285.25Q471.2 368.75 379.12 353.24Z" fill="#1dc3a0"/>
<path d="M378.42 380.03A93.56 87.6 0 0 0 378.9 383.06Q471.2 368.75 503.89 286.67A93.56 87.6 0 0 0 501.7 285.94Q471.2 368.75 378.42 380.03Z" fill="#1dc3a0"/>
<path d="M386.41 405.77A93.56 87.6 0 0 0 387.84 408.52Q471.2 368.75 506.06 287.46A93.56 87.6 0 0 0 503.89 286.67Q471.2 368.75 386.41 405.77Z" fill="#1dc3a0"/>
<path d="M397.68 422.92A93.56 87.6 0 0 0 399.74 425.29Q471.2 368.75 508.21 288.29A93.56 87.6 0 0 0 506.06 287.46Q471.2 368.75 397.68 422.92Z" fill="#1dc3a0"/>
<path d="M402.33 428.04A93.56 87.6 0 0 0 403.83 429.53Q471.2 368.75 510.33 289.18A93.56 87.6 0 0 0 508.21 288.29Q471.2 368.75 402.33 428.04Z" fill="#1dc3a0"/>
<path d="M407.39 432.82A93.56 87.6 0 0 0 409 434.19Q471.2 368.75 512.43 290.12A93.56 87.6 0 0 0 510.33 289.18Q471.2 368.75 407.39 432.82Z" fill="#1dc3a0"/>
<path d="M412.83 437.21A93.56 87.6 0 0 0 414.55 438.46Q471.2 368.75 514.51 291.1A93.56 87.6 0 0 0 512.43 290.12Q471.2 368.75 412.83 437.21Z" fill="#1dc3a0"/>
<path d="M424.7 444.77A93.56 87.6 0 0 0 426.61 445.76Q471.2 368.75 516.56 292.13A93.56 87.6 0 0 0 514.51 291.1Q471.2 368.75 424.7 444.77Z" fill="#1dc3a0"/>
<path d="M422.46 293.98A93.56 87.6 0 0 0 421.35 294.62Q471.2 368.75 520.49 294.29A93.56 87.6 0 0 0 517.27 292.51Q471.2 368.75 422.46 293.98Z" fill="#d7baba"/>
<path d="M410.81 301.84A93.56 87.6 0 0 0 409.82 302.64Q471.2 368.75 523.62 296.19A93.56 87.6 0 0 0 520.49 294.29Q471.2 368.75 410.81 301.84Z" fill="#d7baba"/>
<path d="M377.67 366.61A93.56 87.6 0 0 0 377.74 372.72Q471.2 368.75 526.68 298.21A93.56 87.6 0 0 0 523.62 296.19Q471.2 368.75 377.67 366.61Z" fill="#d7baba"/>
<path d="M383.63 399.57A93.56 87.6 0 0 0 384.41 401.47Q471.2 368.75 529.64 300.35A93.56 87.6 0 0 0 526.68 298.21Q471.2 368.75 383.63 399.57Z" fill="#d7baba"/>
<path d="M393.46 417.48A93.56 87.6 0 0 0 395.32 419.99Q471.2 368.75 532.52 302.59A93.56 87.6 0 0 0 529.64 300.35Q471.2 368.75 393.46 417.48Z" fill="#d7baba"/>
<path d="M403.83 429.53A93.56 87.6 0 0 0 405.35 430.98Q471.2 368.75 535.29 304.93A93.56 87.6 0 0 0 532.52 302.59Q471.2 368.75 403.83 429.53Z" fill="#d7baba"/>
<path d="M431.07 447.88A93.56 87.6 0 0 0 434.04 449.15Q471.2 368.75 537.96 307.38A93.56 87.6 0 0 0 535.29 304.93Q471.2 368.75 431.07 447.88Z" fill="#d7baba"/>
<path d="M444.47 452.7A93.56 87.6 0 0 0 447.62 453.52Q471.2 368.75 540.53 309.93A93.56 87.6 0 0 0 537.96 307.38Q471.2 368.75 444.47 452.7Z" fill="#d7baba"/>
<path d="M451.43 454.37A93.56 87.6 0 0 0 453.56 454.78Q471.2 368.75 542.98 312.57A93.56 87.6 0 0 0 540.53 309.93Q471.2 368.75 451.43 454.37Z" fill="#d7baba"/>
<path d="M458.5 455.54A93.56 87.6 0 0 0 461.75 455.9Q471.2 368.75 545.32 315.3A93.56 87.6 0 0 0 542.98 312.57Q471.2 368.75 458.5 455.54Z" fill="#d7baba"/>
<path d="M439.92 286.19A93.56 87.6 0 0 0 437.88 286.9Q471.2 368.75 547.91 318.6A93.56 87.6 0 0 0 545.92 316.03Q471.2 368.75 439.92 286.19Z" fill="#1873cc"/>
<path d="M398.49 313.62A93.56 87.6 0 0 0 396.48 316.03Q471.2 368.75 549.8 321.24A93.56 87.6 0 0 0 547.91 318.6Q471.2 368.75 398.49 313.62Z" fill="#1873cc"/>
<path d="M394.81 318.17A93.56 87.6 0 0 0 393.58 319.85Q471.2 368.75 551.59 323.94A93.56 87.6 0 0 0 549.8 321.24Q471.2 368.75 394.81 318.17Z" fill="#1873cc"/>
<path d="M390.34 324.69A93.56 87.6 0 0 0 388.75 327.35Q471.2 368.75 553.27 326.69A93.56 87.6 0 0 0 551.59 323.94Q471.2 368.75 390.34 324.69Z" fill="#1873cc"/>
<path d="M384.09 336.79A93.56 87.6 0 0 0 382.96 339.65Q471.2 368.75 554.84 329.51A93.56 87.6 0 0 0 553.27 326.69Q471.2 368.75 384.09 336.79Z" fill="#1873cc"/>
<path d="M382.06 342.17A93.56 87.6 0 0 0 381.42 344.11Q471.2 368.75 556.31 332.37A93.56 87.6 0 0 0 554.84 329.51Q471.2 368.75 382.06 342.17Z" fill="#1873cc"/>
<path d="M380.66 346.67A93.56 87.6 0 0 0 379.9 349.64Q471.2 368.75 557.66 335.28A93.56 87.6 0 0 0 556.31 332.37Q471.2 368.75 380.66 346.67Z" fill="#1873cc"/>
<path d="M378.76 355.25A93.56 87.6 0 0 0 378.45 357.27Q471.2 368.75 558.9 338.24A93.56 87.6 0 0 0 557.66 335.28Q471.2 368.75 378.76 355.25Z" fill="#1873cc"/>
<path d="M378.9 383.06A93.56 87.6 0 0 0 379.49 386.06Q471.2 368.75 560.02 341.23A93.56 87.6 0 0 0 558.9 338.24Q471.2 368.75 378.9 383.06Z" fill="#1873cc"/>
<path d="M387.84 408.52A93.56 87.6 0 0 0 389.37 411.22Q471.2 368.75 561.03 344.27A93.56 87.6 0 0 0 560.02 341.23Q471.2 368.75 387.84 408.52Z" fill="#1873cc"/>
<path d="M414.55 438.46A93.56 87.6 0 0 0 416.3 439.68Q471.2 368.75 561.92 347.33A93.56 87.6 0 0 0 561.03 344.27Q471.2 368.75 414.55 438.46Z" fill="#1873cc"/>
<path d="M418.61 441.2A93.56 87.6 0 0 0 420.43 442.33Q471.2 368.75 562.69 350.42A93.56 87.6 0 0 0 561.92 347.33Q471.2 368.75 418.61 441.2Z" fill="#1873cc"/>
<path d="M426.61 445.76A93.56 87.6 0 0 0 428.53 446.71Q471.2 368.75 563.34 353.54A93.56 87.6 0 0 0 562.69 350.42Q471.2 368.75 426.61 445.76Z" fill="#1873cc"/>
<path d="M459.8 281.8A93.56 87.6 0 0 0 456.56 282.23Q471.2 368.75 563.88 356.77A93.56 87.6 0 0 0 563.47 354.29Q471.2 368.75 459.8 281.8Z" fill="#8cc916"/>
<path d="M455.92 282.33A93.56 87.6 0 0 0 452.71 282.88Q471.2 368.75 564.21 359.27A93.56 87.6 0 0 0 563.88 356.77Q471.2 368.75 455.92 282.33Z" fill="#8cc916"/>
<path d="M437.88 286.9A93.56 87.6 0 0 0 435.85 287.64Q471.2 368.75 564.46 361.76A93.56 87.6 0 0 0 564.21 359.27Q471.2 368.75 437.88 286.9Z" fill="#8cc916"/>
<path d="M428.73 290.7A93.56 87.6 0 0 0 423.01 293.66Q471.2 368.75 564.63 364.27A93.56 87.6 0 0 0 564.46 361.76Q471.2 368.75 428.73 290.7Z" fill="#8cc916"/>
<path d="M415.59 298.3A93.56 87.6 0 0 0 414.72 298.91Q471.2 368.75 564.73 366.78A93.56 87.6 0 0 0 564.63 364.27Q471.2 368.75 415.59 298.3Z" fill="#8cc916"/>
<path d="M409.82 302.64A93.56 87.6 0 0 0 408.84 303.45Q471.2 368.75 564.76 369.29A93.56 87.6 0 0 0 564.73 366.78Q471.2 368.75 409.82 302.64Z" fill="#8cc916"/>
<path d="M393.58 319.85A93.56 87.6 0 0 0 392.38 321.55Q471.2 368.75 564.7 371.8A93.56 87.6 0 0 0 564.76 369.29Q471.2 368.75 393.58 319.85Z" fill="#8cc916"/>
<path d="M386.97 330.62A93.56 87.6 0 0 0 385.6 333.4Q471.2 368.75 564.57 374.31A93.56 87.6 0 0 0 564.7 371.8Q471.2 368.75 386.97 330.62Z" fill="#8cc916"/>
<path d="M381.42 344.11A93.56 87.6 0 0 0 380.83 346.08Q471.2 368.75 564.36 376.81A93.56 87.6 0 0 0 564.57 374.31Q471.2 368.75 381.42 344.11Z" fill="#8cc916"/>
<path d="M379.9 349.64A93.56 87.6 0 0 0 379.24 352.64Q471.2 368.75 564.08 379.31A93.56 87.6 0 0 0 564.36 376.81Q471.2 368.75 379.9 349.64Z" fill="#8cc916"/>
<path d="M378.45 357.27A93.56 87.6 0 0 0 378.19 359.29Q471.2 368.75 563.71 381.79A93.56 87.6 0 0 0 564.08 379.31Q471.2 368.75 378.45 357.27Z" fill="#8cc916"/>
<path d="M379.62 386.66A93.56 87.6 0 0 0 380.34 389.65Q471.2 368.75 563.28 384.27A93.56 87.6 0 0 0 563.71 381.79Q471.2 368.75 379.62 386.66Z" fill="#8cc916"/>
<path d="M399.74 425.29A93.56 87.6 0 0 0 401.89 427.59Q471.2 368.75 562.76 386.73A93.56 87.6 0 0 0 563.28 384.27Q471.2 368.75 399.74 425.29Z" fill="#8cc916"/>
<path d="M409 434.19A93.56 87.6 0 0 0 410.65 435.53Q471.2 368.75 562.18 389.18A93.56 87.6 0 0 0 562.76 386.73Q471.2 368.75 409 434.19Z" fill="#8cc916"/>
<path d="M420.43 442.33A93.56 87.6 0 0 0 422.27 443.41Q471.2 368.75 561.51 391.62A93.56 87.6 0 0 0 562.18 389.18Q471.2 368.75 420.43 442.33Z" fill="#8cc916"/>
<path d="M428.53 446.71A93.56 87.6 0 0 0 430.48 447.62Q471.2 368.75 560.78 394.03A93.56 87.6 0 0 0 561.51 391.62Q471.2 368.75 428.53 446.71Z" fill="#8cc916"/>
<path d="M434.04 449.15A93.56 87.6 0 0 0 437.06 450.31Q471.2 368.75 559.97 396.42A93.56 87.6 0 0 0 560.78 394.03Q471.2 368.75 434.04 449.15Z" fill="#8cc916"/>
<path d="M437.67 450.53A93.56 87.6 0 0 0 440.74 451.58Q471.2 368.75 559.08 398.79A93.56 87.6 0 0 0 559.97 396.42Q471.2 368.75 437.67 450.53Z" fill="#8cc916"/>
<path d="M465.65 456.2A93.56 87.6 0 0 0 472.18 456.35Q471.2 368.75 558.13 401.14A93.56 87.6 0 0 0 559.08 398.79Q471.2 368.75 465.65 456.2Z" fill="#8cc916"/>
<path d="M470.22 281.15A93.56 87.6 0 0 0 468.04 281.2Q471.2 368.75 556.81 404.09A93.56 87.6 0 0 0 557.82 401.85Q471.2 368.75 470.22 281.15Z" fill="#6a6a6a"/>
<path d="M447.3 284.06A93.56 87.6 0 0 0 445.73 284.46Q471.2 368.75 555.72 406.3A93.56 87.6 0 0 0 556.81 404.09Q471.2 368.75 447.3 284.06Z" fill="#6a6a6a"/>
<path d="M433.74 288.48A93.56 87.6 0 0 0 432.25 289.1Q471.2 368.75 554.58 408.49A93.56 87.6 0 0 0 555.72 406.3Q471.2 368.75 433.74 288.48Z" fill="#6a6a6a"/>
<path d="M421.35 294.62A93.56 87.6 0 0 0 420.25 295.28Q471.2 368.75 553.36 410.65A93.56 87.6 0 0 0 554.58 408.49Q471.2 368.75 421.35 294.62Z" fill="#6a6a6a"/>
<path d="M414.72 298.91A93.56 87.6 0 0 0 413.86 299.53Q471.2 368.75 552.09 412.77A93.56 87.6 0 0 0 553.36 410.65Q471.2 368.75 414.72 298.91Z" fill="#6a6a6a"/>
<path d="M408.84 303.45A93.56 87.6 0 0 0 407.87 304.27Q471.2 368.75 550.75 414.86A93.56 87.6 0 0 0 552.09 412.77Q471.2 368.75 408.84 303.45Z" fill="#6a6a6a"/>
<path d="M378.12 359.9A93.56 87.6 0 0 0 377.69 366Q471.2 368.75 549.35 416.91A93.56 87.6 0 0 0 550.75 414.86Q471.2 368.75 378.12 359.9Z" fill="#6a6a6a"/>
<path d="M384.41 401.47A93.56 87.6 0 0 0 385.25 403.35Q471.2 368.75 547.89 418.92A93.56 87.6 0 0 0 549.35 416.91Q471.2 368.75 384.41 401.47Z" fill="#6a6a6a"/>
<path d="M395.32 419.99A93.56 87.6 0 0 0 397.28 422.44Q471.2 368.75 546.37 420.9A93.56 87.6 0 0 0 547.89 418.92Q471.2 368.75 395.32 419.99Z" fill="#6a6a6a"/>
<path d="M405.35 430.98A93.56 87.6 0 0 0 406.92 432.4Q471.2 368.75 544.79 422.84A93.56 87.6 0 0 0 546.37 420.9Q471.2 368.75 405.35 430.98Z" fill="#6a6a6a"/>
<path d="M440.74 451.58A93.56 87.6 0 0 0 443.85 452.52Q471.2 368.75 543.16 424.73A93.56 87.6 0 0 0 544.79 422.84Q471.2 368.75 440.74 451.58Z" fill="#6a6a6a"/>
<path d="M447.62 453.52A93.56 87.6 0 0 0 450.79 454.24Q471.2 368.75 541.47 426.58A93.56 87.6 0 0 0 543.16 424.73Q471.2 368.75 447.62 453.52Z" fill="#6a6a6a"/>
<path d="M453.56 454.78A93.56 87.6 0 0 0 455.7 455.14Q471.2 368.75 539.73 428.39A93.56 87.6 0 0 0 541.47 426.58Q471.2 368.75 453.56 454.78Z" fill="#6a6a6a"/>
<path d="M461.75 455.9A93.56 87.6 0 0 0 465 456.16Q471.2 368.75 537.93 430.15A93.56 87.6 0 0 0 539.73 428.39Q471.2 368.75 461.75 455.9Z" fill="#6a6a6a"/>
<path d="M445.73 284.46A93.56 87.6 0 0 0 444.16 284.89Q471.2 368.75 535.48 432.4A93.56 87.6 0 0 0 537.35 430.69Q471.2 368.75 445.73 284.46Z" fill="#ede21c"/>
<path d="M420.25 295.28A93.56 87.6 0 0 0 419.15 295.96Q471.2 368.75 533.56 434.05A93.56 87.6 0 0 0 535.48 432.4Q471.2 368.75 420.25 295.28Z" fill="#ede21c"/>
<path d="M432.25 289.1A93.56 87.6 0 0 0 430.78 289.75Q471.2 368.75 530.71 436.34A93.56 87.6 0 0 0 532.95 434.56Q471.2 368.75 432.25 289.1Z" fill="#ee8b80"/>
<path d="M413.86 299.53A93.56 87.6 0 0 0 413 300.16Q471.2 368.75 528.41 438.06A93.56 87.6 0 0 0 530.71 436.34Q471.2 368.75 413.86 299.53Z" fill="#ee8b80"/>
<path d="M407.87 304.27A93.56 87.6 0 0 0 406.92 305.1Q471.2 368.75 526.06 439.71A93.56 87.6 0 0 0 528.41 438.06Q471.2 368.75 407.87 304.27Z" fill="#ee8b80"/>
<path d="M385.25 403.35A93.56 87.6 0 0 0 386.13 405.22Q471.2 368.75 523.65 441.29A93.56 87.6 0 0 0 526.06 439.71Q471.2 368.75 385.25 403.35Z" fill="#ee8b80"/>
<path d="M389.69 411.75A93.56 87.6 0 0 0 390.51 413.08Q471.2 368.75 521.19 442.79A93.56 87.6 0 0 0 523.65 441.29Q471.2 368.75 389.69 411.75Z" fill="#ee8b80"/>
<path d="M413 300.16A93.56 87.6 0 0 0 412.15 300.8Q471.2 368.75 518.31 444.43A93.56 87.6 0 0 0 520.5 443.2Q471.2 368.75 413 300.16Z" fill="#f5890f"/>
<path d="M403.98 307.82A93.56 87.6 0 0 0 402.48 309.31Q471.2 368.75 516.08 445.61A93.56 87.6 0 0 0 518.31 444.43Q471.2 368.75 403.98 307.82Z" fill="#f5890f"/>
<path d="M377.77 373.33A93.56 87.6 0 0 0 378.34 379.43Q471.2 368.75 513.82 446.73A93.56 87.6 0 0 0 516.08 445.61Q471.2 368.75 377.77 373.33Z" fill="#f5890f"/>
<path d="M380.34 389.65A93.56 87.6 0 0 0 381.18 392.6Q471.2 368.75 511.53 447.79A93.56 87.6 0 0 0 513.82 446.73Q471.2 368.75 380.34 389.65Z" fill="#f5890f"/>
<path d="M381.36 393.19A93.56 87.6 0 0 0 382.32 396.11Q471.2 368.75 509.2 448.8A93.56 87.6 0 0 0 511.53 447.79Q471.2 368.75 381.36 393.19Z" fill="#f5890f"/>
<path d="M390.51 413.08A93.56 87.6 0 0 0 391.34 414.39Q471.2 368.75 506.85 449.74A93.56 87.6 0 0 0 509.2 448.8Q471.2 368.75 390.51 413.08Z" fill="#f5890f"/>
<path d="M468.04 281.2A93.56 87.6 0 0 0 465.87 281.29Q471.2 368.75 504.64 450.56A93.56 87.6 0 0 0 506.25 449.97Q471.2 368.75 468.04 281.2Z" fill="#f21a83"/>
<path d="M452.71 282.88A93.56 87.6 0 0 0 449.52 283.53Q471.2 368.75 503.01 451.13A93.56 87.6 0 0 0 504.64 450.56Q471.2 368.75 452.71 282.88Z" fill="#f21a83"/>
<path d="M430.78 289.75A93.56 87.6 0 0 0 429.31 290.42Q471.2 368.75 501.38 451.67A93.56 87.6 0 0 0 503.01 451.13Q471.2 368.75 430.78 289.75Z" fill="#f21a83"/>
<path d="M419.15 295.96A93.56 87.6 0 0 0 418.07 296.64Q471.2 368.75 499.74 452.18A93.56 87.6 0 0 0 501.38 451.67Q471.2 368.75 419.15 295.96Z" fill="#f21a83"/>
<path d="M412.15 300.8A93.56 87.6 0 0 0 411.31 301.45Q471.2 368.75 498.08 452.66A93.56 87.6 0 0 0 499.74 452.18Q471.2 368.75 412.15 300.8Z" fill="#f21a83"/>
<path d="M402.48 309.31A93.56 87.6 0 0 0 401.02 310.82Q471.2 368.75 496.42 453.11A93.56 87.6 0 0 0 498.08 452.66Q471.2 368.75 402.48 309.31Z" fill="#f21a83"/>
<path d="M382.32 396.11A93.56 87.6 0 0 0 383.4 399Q471.2 368.75 494.75 453.53A93.56 87.6 0 0 0 496.42 453.11Q471.2 368.75 382.32 396.11Z" fill="#f21a83"/>
<path d="M391.34 414.39A93.56 87.6 0 0 0 392.21 415.69Q471.2 368.75 493.07 453.92A93.56 87.6 0 0 0 494.75 453.53Q471.2 368.75 391.34 414.39Z" fill="#f21a83"/>
<path d="M410.65 435.53A93.56 87.6 0 0 0 412.32 436.83Q471.2 368.75 491.39 454.29A93.56 87.6 0 0 0 493.07 453.92Q471.2 368.75 410.65 435.53Z" fill="#f21a83"/>
<path d="M422.27 443.41A93.56 87.6 0 0 0 424.14 444.46Q471.2 368.75 489.69 454.62A93.56 87.6 0 0 0 491.39 454.29Q471.2 368.75 422.27 443.41Z" fill="#f21a83"/>
<path d="M465.87 281.29A93.56 87.6 0 0 0 463.7 281.43Q471.2 368.75 486.64 455.15A93.56 87.6 0 0 0 489.05 454.74Q471.2 368.75 465.87 281.29Z" fill="#a521c4"/>
<path d="M444.16 284.89A93.56 87.6 0 0 0 442.6 285.34Q471.2 368.75 484.22 455.5A93.56 87.6 0 0 0 486.64 455.15Q471.2 368.75 444.16 284.89Z" fill="#a521c4"/>
<path d="M418.07 296.64A93.56 87.6 0 0 0 417 297.34Q471.2 368.75 481.79 455.79A93.56 87.6 0 0 0 484.22 455.5Q471.2 368.75 418.07 296.64Z" fill="#a521c4"/>
<path d="M406.92 305.1A93.56 87.6 0 0 0 405.98 305.95Q471.2 368.75 479.35 456.02A93.56 87.6 0 0 0 481.79 455.79Q471.2 368.75 406.92 305.1Z" fill="#a521c4"/>
<path d="M392.21 415.69A93.56 87.6 0 0 0 393.09 416.97Q471.2 368.75 476.91 456.19A93.56 87.6 0 0 0 479.35 456.02Q471.2 368.75 392.21 415.69Z" fill="#a521c4"/>
<path d="M416.3 439.68A93.56 87.6 0 0 0 418.07 440.86Q471.2 368.75 474.47 456.3A93.56 87.6 0 0 0 476.91 456.19Q471.2 368.75 416.3 439.68Z" fill="#a521c4"/>
<path d="M455.7 455.14A93.56 87.6 0 0 0 457.86 455.45Q471.2 368.75 472.02 456.35A93.56 87.6 0 0 0 474.47 456.3Q471.2 368.75 455.7 455.14Z" fill="#a521c4"/>
<path d="M471.65 273.15A102.1 95.6 0 0 1 521.09 285.34L516.81 292.49A93.34 87.4 0 0 0 471.61 281.35Z" fill="#fff"/>
<path d="M472.36 273.26A101.99 95.5 0 0 1 520.41 285.1L516.34 292.02A93.56 87.6 0 0 0 472.26 281.16Z" fill="#3ea88b" stroke="#333" stroke-width="0.5"/>
<path d="M521.09 285.34A102.1 95.6 0 0 1 552.36 310.75L545.4 315.73A93.34 87.4 0 0 0 516.81 292.49Z" fill="#fff"/>
<path d="M521.66 285.75A101.99 95.5 0 0 1 551.85 310.28L545.17 315.12A93.56 87.6 0 0 0 517.48 292.62Z" fill="#b9a4a4" stroke="#333" stroke-width="0.5"/>
<path d="M552.47 310.88A102.1 95.6 0 0 1 571.83 352.56L563.19 353.95A93.34 87.4 0 0 0 545.5 315.85Z" fill="#fff"/>
<path d="M552.82 311.48A101.99 95.5 0 0 1 571.6 351.92L563.29 353.31A93.56 87.6 0 0 0 546.06 316.21Z" fill="#3e7db4" stroke="#333" stroke-width="0.5"/>
<path d="M571.83 352.56A102.1 95.6 0 0 1 565.9 404.49L557.78 401.42A93.34 87.4 0 0 0 563.19 353.95Z" fill="#fff"/>
<path d="M571.84 353.23A101.99 95.5 0 0 1 566.06 403.83L558.22 400.93A93.56 87.6 0 0 0 563.51 354.52Z" fill="#8db145" stroke="#333" stroke-width="0.5"/>
<path d="M565.9 404.49A102.1 95.6 0 0 1 543.71 436.05L537.49 430.28A93.34 87.4 0 0 0 557.78 401.42Z" fill="#fff"/>
<path d="M565.53 405.07A101.99 95.5 0 0 1 544.13 435.51L538.1 429.99A93.56 87.6 0 0 0 557.73 402.06Z" fill="#6f6f6f" stroke="#333" stroke-width="0.5"/>
<path d="M543.71 436.05A102.1 95.6 0 0 1 538.92 440.29L533.11 434.16A93.34 87.4 0 0 0 537.49 430.28Z" fill="#fff"/>
<path d="M543.13 436.46A101.99 95.5 0 0 1 539.38 439.78L533.74 433.9A93.56 87.6 0 0 0 537.18 430.85Z" fill="#c9c236" stroke="#333" stroke-width="0.5"/>
<path d="M538.92 440.29A102.1 95.6 0 0 1 525.38 449.78L520.73 442.83A93.34 87.4 0 0 0 533.11 434.16Z" fill="#fff"/>
<path d="M538.32 440.66A101.99 95.5 0 0 1 525.93 449.34L521.4 442.67A93.56 87.6 0 0 0 532.76 434.71Z" fill="#c98a85" stroke="#333" stroke-width="0.5"/>
<path d="M525.38 449.78A102.1 95.6 0 0 1 509.7 457.29L506.39 449.7A93.34 87.4 0 0 0 520.73 442.83Z" fill="#fff"/>
<path d="M524.72 450.05A101.99 95.5 0 0 1 510.31 456.95L507.08 449.65A93.56 87.6 0 0 0 520.29 443.32Z" fill="#c98431" stroke="#333" stroke-width="0.5"/>
<path d="M509.86 457.23A102.1 95.6 0 0 1 490.94 462.55L489.25 454.5A93.34 87.4 0 0 0 506.54 449.64Z" fill="#fff"/>
<path d="M509.16 457.39A101.99 95.5 0 0 1 491.62 462.32L489.93 454.58A93.56 87.6 0 0 0 506.02 450.06Z" fill="#c4417b" stroke="#333" stroke-width="0.5"/>
<path d="M491.12 462.51A102.1 95.6 0 0 1 471.65 464.35L471.61 456.15A93.34 87.4 0 0 0 489.41 454.47Z" fill="#fff"/>
<path d="M490.4 462.54A101.99 95.5 0 0 1 472.36 464.24L472.26 456.34A93.56 87.6 0 0 0 488.81 454.78Z" fill="#9c47ae" stroke="#333" stroke-width="0.5"/>
<path d="M463.87 273A102.53 96 0 0 1 469.23 272.77L469.33 277.77A97.19 91 0 0 0 464.25 277.98Z" fill="#f08a8a" stroke="#555" stroke-width="0.45"/>
<path d="M456.05 273.8A102.53 96 0 0 1 461.37 273.19L461.88 278.17A97.19 91 0 0 0 456.83 278.75Z" fill="#f08a8a" stroke="#555" stroke-width="0.45"/>
<path d="M448.31 275.17A102.53 96 0 0 1 453.57 274.18L454.49 279.11A97.19 91 0 0 0 449.5 280.05Z" fill="#f08a8a" stroke="#555" stroke-width="0.45"/>
<path d="M440.71 277.09A102.53 96 0 0 1 445.88 275.72L447.19 280.57A97.19 91 0 0 0 442.3 281.87Z" fill="#f08a8a" stroke="#555" stroke-width="0.45"/>
<path d="M433.29 279.55A102.53 96 0 0 1 438.33 277.82L440.04 282.55A97.19 91 0 0 0 435.27 284.2Z" fill="#f08a8a" stroke="#555" stroke-width="0.45"/>
<path d="M426.09 282.54A102.53 96 0 0 1 430.97 280.45L433.07 285.05A97.19 91 0 0 0 428.44 287.03Z" fill="#f08a8a" stroke="#555" stroke-width="0.45"/>
<path d="M419.16 286.03A102.53 96 0 0 1 423.86 283.6L426.32 288.03A97.19 91 0 0 0 421.87 290.34Z" fill="#f08a8a" stroke="#555" stroke-width="0.45"/>
<path d="M412.54 290.02A102.53 96 0 0 1 417.02 287.25L419.84 291.49A97.19 91 0 0 0 415.59 294.12Z" fill="#f08a8a" stroke="#555" stroke-width="0.45"/>
<path d="M406.26 294.46A102.53 96 0 0 1 410.5 291.38L413.66 295.41A97.19 91 0 0 0 409.64 298.33Z" fill="#f08a8a" stroke="#555" stroke-width="0.45"/>
<path d="M400.37 299.35A102.53 96 0 0 1 404.34 295.97L407.82 299.76A97.19 91 0 0 0 404.05 302.96Z" fill="#f08a8a" stroke="#555" stroke-width="0.45"/>
<path d="M394.89 304.64A102.53 96 0 0 1 398.58 300.99L402.36 304.52A97.19 91 0 0 0 398.86 307.98Z" fill="#f08a8a" stroke="#555" stroke-width="0.45"/>
<path d="M389.86 310.31A102.53 96 0 0 1 393.24 306.4L397.3 309.65A97.19 91 0 0 0 394.1 313.35Z" fill="#f08a8a" stroke="#555" stroke-width="0.45"/>
<path d="M385.31 316.32A102.53 96 0 0 1 388.36 312.19L392.67 315.13A97.19 91 0 0 0 389.78 319.05Z" fill="#f08a8a" stroke="#555" stroke-width="0.45"/>
<path d="M381.27 322.65A102.53 96 0 0 1 383.97 318.3L388.51 320.93A97.19 91 0 0 0 385.95 325.05Z" fill="#f08a8a" stroke="#555" stroke-width="0.45"/>
<path d="M377.76 329.24A102.53 96 0 0 1 380.09 324.72L384.84 327.01A97.19 91 0 0 0 382.62 331.3Z" fill="#f08a8a" stroke="#555" stroke-width="0.45"/>
<path d="M374.79 336.07A102.53 96 0 0 1 376.75 331.39L381.67 333.34A97.19 91 0 0 0 379.82 337.78Z" fill="#f08a8a" stroke="#555" stroke-width="0.45"/>
<path d="M372.4 343.1A102.53 96 0 0 1 373.97 338.29L379.03 339.88A97.19 91 0 0 0 377.55 344.43Z" fill="#f08a8a" stroke="#555" stroke-width="0.45"/>
<path d="M370.59 350.27A102.53 96 0 0 1 371.76 345.36L376.94 346.58A97.19 91 0 0 0 375.83 351.23Z" fill="#f08a8a" stroke="#555" stroke-width="0.45"/>
<path d="M369.37 357.55A102.53 96 0 0 1 370.14 352.58L375.4 353.42A97.19 91 0 0 0 374.68 358.13Z" fill="#f08a8a" stroke="#555" stroke-width="0.45"/>
<path d="M368.75 364.9A102.53 96 0 0 1 369.11 359.88L374.43 360.34A97.19 91 0 0 0 374.09 365.1Z" fill="#f08a8a" stroke="#555" stroke-width="0.45"/>
<path d="M368.74 372.27A102.53 96 0 0 1 368.68 367.24L374.02 367.32A97.19 91 0 0 0 374.08 372.08Z" fill="#f08a8a" stroke="#555" stroke-width="0.45"/>
<path d="M369.33 379.62A102.53 96 0 0 1 368.86 374.61L374.19 374.31A97.19 91 0 0 0 374.64 379.05Z" fill="#f08a8a" stroke="#555" stroke-width="0.45"/>
<path d="M370.52 386.9A102.53 96 0 0 1 369.65 381.94L374.93 381.26A97.19 91 0 0 0 375.77 385.96Z" fill="#f08a8a" stroke="#555" stroke-width="0.45"/>
<path d="M372.31 394.08A102.53 96 0 0 1 371.03 389.2L376.24 388.14A97.19 91 0 0 0 377.46 392.76Z" fill="#f08a8a" stroke="#555" stroke-width="0.45"/>
<path d="M374.67 401.11A102.53 96 0 0 1 373 396.34L378.11 394.9A97.19 91 0 0 0 379.7 399.43Z" fill="#f08a8a" stroke="#555" stroke-width="0.45"/>
<path d="M377.61 407.95A102.53 96 0 0 1 375.55 403.31L380.53 401.51A97.19 91 0 0 0 382.48 405.91Z" fill="#f08a8a" stroke="#555" stroke-width="0.45"/>
<path d="M381.1 414.56A102.53 96 0 0 1 378.66 410.08L383.48 407.93A97.19 91 0 0 0 385.79 412.17Z" fill="#f08a8a" stroke="#555" stroke-width="0.45"/>
<path d="M385.12 420.89A102.53 96 0 0 1 382.32 416.6L386.95 414.11A97.19 91 0 0 0 389.6 418.18Z" fill="#f08a8a" stroke="#555" stroke-width="0.45"/>
<path d="M389.64 426.92A102.53 96 0 0 1 386.5 422.85L390.91 420.03A97.19 91 0 0 0 393.89 423.89Z" fill="#f08a8a" stroke="#555" stroke-width="0.45"/>
<path d="M394.65 432.61A102.53 96 0 0 1 391.18 428.77L395.35 425.65A97.19 91 0 0 0 398.64 429.29Z" fill="#f08a8a" stroke="#555" stroke-width="0.45"/>
<path d="M400.11 437.92A102.53 96 0 0 1 396.34 434.34L400.24 430.93A97.19 91 0 0 0 403.81 434.32Z" fill="#f08a8a" stroke="#555" stroke-width="0.45"/>
<path d="M405.98 442.83A102.53 96 0 0 1 401.93 439.53L405.54 435.84A97.19 91 0 0 0 409.38 438.97Z" fill="#f08a8a" stroke="#555" stroke-width="0.45"/>
<path d="M412.25 447.29A102.53 96 0 0 1 407.94 444.3L411.23 440.36A97.19 91 0 0 0 415.32 443.2Z" fill="#f08a8a" stroke="#555" stroke-width="0.45"/>
<path d="M418.86 451.3A102.53 96 0 0 1 414.31 448.62L417.28 444.46A97.19 91 0 0 0 421.58 447Z" fill="#f08a8a" stroke="#555" stroke-width="0.45"/>
<path d="M425.77 454.81A102.53 96 0 0 1 421.02 452.47L423.64 448.11A97.19 91 0 0 0 428.14 450.33Z" fill="#f08a8a" stroke="#555" stroke-width="0.45"/>
<path d="M432.96 457.82A102.53 96 0 0 1 428.03 455.83L430.28 451.29A97.19 91 0 0 0 434.95 453.18Z" fill="#f08a8a" stroke="#555" stroke-width="0.45"/>
<path d="M440.37 460.31A102.53 96 0 0 1 435.29 458.67L437.16 453.99A97.19 91 0 0 0 441.98 455.54Z" fill="#f08a8a" stroke="#555" stroke-width="0.45"/>
<path d="M447.96 462.25A102.53 96 0 0 1 442.77 460.98L444.25 456.18A97.19 91 0 0 0 449.17 457.38Z" fill="#f08a8a" stroke="#555" stroke-width="0.45"/>
<path d="M455.69 463.65A102.53 96 0 0 1 450.41 462.76L451.49 457.86A97.19 91 0 0 0 456.5 458.7Z" fill="#f08a8a" stroke="#555" stroke-width="0.45"/>
<path d="M463.51 464.48A102.53 96 0 0 1 458.17 463.97L458.85 459.01A97.19 91 0 0 0 463.91 459.49Z" fill="#f8d4d4" stroke="#555" stroke-width="0.45"/>
<path d="M471.38 464.75A102.53 96 0 0 1 466.01 464.63L466.28 459.63A97.19 91 0 0 0 471.37 459.75Z" fill="#f8d4d4" stroke="#555" stroke-width="0.45"/>
<text x="466.43" y="270.45" font-size="7.2" text-anchor="end" dominant-baseline="central" fill="#1a1a1a" stroke="#1a1a1a" stroke-width="0.12" transform="rotate(87.22 466.43 270.45)">Il21</text>
<text x="458.39" y="271.08" font-size="7.2" text-anchor="end" dominant-baseline="central" fill="#1a1a1a" stroke="#1a1a1a" stroke-width="0.12" transform="rotate(82.53 458.39 271.08)">Cxcl2</text>
<text x="450.43" y="272.29" font-size="7.2" text-anchor="end" dominant-baseline="central" fill="#1a1a1a" stroke="#1a1a1a" stroke-width="0.12" transform="rotate(77.85 450.43 272.29)">Il1a</text>
<text x="442.59" y="274.07" font-size="7.2" text-anchor="end" dominant-baseline="central" fill="#1a1a1a" stroke="#1a1a1a" stroke-width="0.12" transform="rotate(73.18 442.59 274.07)">Il2</text>
<text x="434.91" y="276.4" font-size="7.2" text-anchor="end" dominant-baseline="central" fill="#1a1a1a" stroke="#1a1a1a" stroke-width="0.12" transform="rotate(68.55 434.91 276.4)">Ccl3</text>
<text x="427.45" y="279.28" font-size="7.2" text-anchor="end" dominant-baseline="central" fill="#1a1a1a" stroke="#1a1a1a" stroke-width="0.12" transform="rotate(63.94 427.45 279.28)">Il1b</text>
<text x="420.25" y="282.69" font-size="7.2" text-anchor="end" dominant-baseline="central" fill="#1a1a1a" stroke="#1a1a1a" stroke-width="0.12" transform="rotate(59.37 420.25 282.69)">Il1f9</text>
<text x="413.35" y="286.6" font-size="7.2" text-anchor="end" dominant-baseline="central" fill="#1a1a1a" stroke="#1a1a1a" stroke-width="0.12" transform="rotate(54.85 413.35 286.6)">Il6</text>
<text x="406.79" y="291" font-size="7.2" text-anchor="end" dominant-baseline="central" fill="#1a1a1a" stroke="#1a1a1a" stroke-width="0.12" transform="rotate(50.36 406.79 291)">Tnf</text>
<text x="400.61" y="295.85" font-size="7.2" text-anchor="end" dominant-baseline="central" fill="#1a1a1a" stroke="#1a1a1a" stroke-width="0.12" transform="rotate(45.92 400.61 295.85)">Il12a</text>
<text x="394.84" y="301.14" font-size="7.2" text-anchor="end" dominant-baseline="central" fill="#1a1a1a" stroke="#1a1a1a" stroke-width="0.12" transform="rotate(41.52 394.84 301.14)">Thbs4</text>
<text x="389.53" y="306.82" font-size="7.2" text-anchor="end" dominant-baseline="central" fill="#1a1a1a" stroke="#1a1a1a" stroke-width="0.12" transform="rotate(37.17 389.53 306.82)">Ereg</text>
<text x="384.7" y="312.87" font-size="7.2" text-anchor="end" dominant-baseline="central" fill="#1a1a1a" stroke="#1a1a1a" stroke-width="0.12" transform="rotate(32.86 384.7 312.87)">Cxcl3</text>
<text x="380.37" y="319.25" font-size="7.2" text-anchor="end" dominant-baseline="central" fill="#1a1a1a" stroke="#1a1a1a" stroke-width="0.12" transform="rotate(28.59 380.37 319.25)">Fpr1</text>
<text x="376.58" y="325.92" font-size="7.2" text-anchor="end" dominant-baseline="central" fill="#1a1a1a" stroke="#1a1a1a" stroke-width="0.12" transform="rotate(24.35 376.58 325.92)">Cxcr2</text>
<text x="373.35" y="332.85" font-size="7.2" text-anchor="end" dominant-baseline="central" fill="#1a1a1a" stroke="#1a1a1a" stroke-width="0.12" transform="rotate(20.15 373.35 332.85)">Cxcl1</text>
<text x="370.7" y="339.98" font-size="7.2" text-anchor="end" dominant-baseline="central" fill="#1a1a1a" stroke="#1a1a1a" stroke-width="0.12" transform="rotate(15.97 370.7 339.98)">Ccl4</text>
<text x="368.64" y="347.28" font-size="7.2" text-anchor="end" dominant-baseline="central" fill="#1a1a1a" stroke="#1a1a1a" stroke-width="0.12" transform="rotate(11.82 368.64 347.28)">Ifitm1</text>
<text x="367.18" y="354.72" font-size="7.2" text-anchor="end" dominant-baseline="central" fill="#1a1a1a" stroke="#1a1a1a" stroke-width="0.12" transform="rotate(7.68 367.18 354.72)">Fpr2</text>
<text x="366.34" y="362.23" font-size="7.2" text-anchor="end" dominant-baseline="central" fill="#1a1a1a" stroke="#1a1a1a" stroke-width="0.12" transform="rotate(3.56 366.34 362.23)">Clec4d</text>
<text x="366.11" y="369.78" font-size="7.2" text-anchor="end" dominant-baseline="central" fill="#1a1a1a" stroke="#1a1a1a" stroke-width="0.12" transform="rotate(-0.56 366.11 369.78)">Sele</text>
<text x="366.51" y="377.33" font-size="7.2" text-anchor="end" dominant-baseline="central" fill="#1a1a1a" stroke="#1a1a1a" stroke-width="0.12" transform="rotate(-4.68 366.51 377.33)">Tnip3</text>
<text x="367.52" y="384.82" font-size="7.2" text-anchor="end" dominant-baseline="central" fill="#1a1a1a" stroke="#1a1a1a" stroke-width="0.12" transform="rotate(-8.81 367.52 384.82)">Csf3r</text>
<text x="369.14" y="392.22" font-size="7.2" text-anchor="end" dominant-baseline="central" fill="#1a1a1a" stroke="#1a1a1a" stroke-width="0.12" transform="rotate(-12.95 369.14 392.22)">Nfkbia</text>
<text x="371.37" y="399.48" font-size="7.2" text-anchor="end" dominant-baseline="central" fill="#1a1a1a" stroke="#1a1a1a" stroke-width="0.12" transform="rotate(-17.11 371.37 399.48)">Tnfaip3</text>
<text x="374.18" y="406.56" font-size="7.2" text-anchor="end" dominant-baseline="central" fill="#1a1a1a" stroke="#1a1a1a" stroke-width="0.12" transform="rotate(-21.29 374.18 406.56)">Cd274</text>
<text x="377.56" y="413.42" font-size="7.2" text-anchor="end" dominant-baseline="central" fill="#1a1a1a" stroke="#1a1a1a" stroke-width="0.12" transform="rotate(-25.51 377.56 413.42)">Cxcr5</text>
<text x="381.5" y="420.02" font-size="7.2" text-anchor="end" dominant-baseline="central" fill="#1a1a1a" stroke="#1a1a1a" stroke-width="0.12" transform="rotate(-29.75 381.5 420.02)">Nod2</text>
<text x="385.96" y="426.31" font-size="7.2" text-anchor="end" dominant-baseline="central" fill="#1a1a1a" stroke="#1a1a1a" stroke-width="0.12" transform="rotate(-34.03 385.96 426.31)">Bmp4</text>
<text x="390.93" y="432.26" font-size="7.2" text-anchor="end" dominant-baseline="central" fill="#1a1a1a" stroke="#1a1a1a" stroke-width="0.12" transform="rotate(-38.35 390.93 432.26)">Ccr1</text>
<text x="396.37" y="437.84" font-size="7.2" text-anchor="end" dominant-baseline="central" fill="#1a1a1a" stroke="#1a1a1a" stroke-width="0.12" transform="rotate(-42.72 396.37 437.84)">Malt1</text>
<text x="402.25" y="443.01" font-size="7.2" text-anchor="end" dominant-baseline="central" fill="#1a1a1a" stroke="#1a1a1a" stroke-width="0.12" transform="rotate(-47.13 402.25 443.01)">Gpr35</text>
<text x="408.54" y="447.75" font-size="7.2" text-anchor="end" dominant-baseline="central" fill="#1a1a1a" stroke="#1a1a1a" stroke-width="0.12" transform="rotate(-51.58 408.54 447.75)">Pde4b</text>
<text x="415.2" y="452.02" font-size="7.2" text-anchor="end" dominant-baseline="central" fill="#1a1a1a" stroke="#1a1a1a" stroke-width="0.12" transform="rotate(-56.08 415.2 452.02)">Tnfrsf1b</text>
<text x="422.19" y="455.79" font-size="7.2" text-anchor="end" dominant-baseline="central" fill="#1a1a1a" stroke="#1a1a1a" stroke-width="0.12" transform="rotate(-60.62 422.19 455.79)">Slit2</text>
<text x="429.46" y="459.06" font-size="7.2" text-anchor="end" dominant-baseline="central" fill="#1a1a1a" stroke="#1a1a1a" stroke-width="0.12" transform="rotate(-65.2 429.46 459.06)">Il7r</text>
<text x="436.99" y="461.79" font-size="7.2" text-anchor="end" dominant-baseline="central" fill="#1a1a1a" stroke="#1a1a1a" stroke-width="0.12" transform="rotate(-69.81 436.99 461.79)">Socs3</text>
<text x="444.71" y="463.97" font-size="7.2" text-anchor="end" dominant-baseline="central" fill="#1a1a1a" stroke="#1a1a1a" stroke-width="0.12" transform="rotate(-74.45 444.71 463.97)">Stx11</text>
<text x="452.59" y="465.59" font-size="7.2" text-anchor="end" dominant-baseline="central" fill="#1a1a1a" stroke="#1a1a1a" stroke-width="0.12" transform="rotate(-79.12 452.59 465.59)">Cebpb</text>
<text x="460.58" y="466.65" font-size="7.2" text-anchor="end" dominant-baseline="central" fill="#1a1a1a" stroke="#1a1a1a" stroke-width="0.12" transform="rotate(-83.81 460.58 466.65)">efnb3</text>
<text x="468.63" y="467.12" font-size="7.2" text-anchor="end" dominant-baseline="central" fill="#1a1a1a" stroke="#1a1a1a" stroke-width="0.12" transform="rotate(-88.5 468.63 467.12)">duox1</text>
<text x="482" y="263.9" font-size="7.2" text-anchor="start" dominant-baseline="central" fill="#1a1a1a" stroke="#1a1a1a" stroke-width="0.12">Leukocyte migration</text>
<text x="538.7" y="290.9" font-size="7.2" text-anchor="start" dominant-baseline="central" fill="#1a1a1a" stroke="#1a1a1a" stroke-width="0.12">Leukocyte cell-cell adhesion</text>
<text x="565.7" y="323.2" font-size="7.2" text-anchor="start" dominant-baseline="central" fill="#1a1a1a" stroke="#1a1a1a" stroke-width="0.12">Cell chemotaxis</text>
<text x="575.6" y="380.4" font-size="7.2" text-anchor="start" dominant-baseline="central" fill="#1a1a1a" stroke="#1a1a1a" stroke-width="0.12">Cytokine-mediated</text>
<text x="576.6" y="388.8" font-size="7.2" text-anchor="start" dominant-baseline="central" fill="#1a1a1a" stroke="#1a1a1a" stroke-width="0.12">signaling pathway</text>
<text x="562.5" y="424.9" font-size="7.2" text-anchor="start" dominant-baseline="central" fill="#1a1a1a" stroke="#1a1a1a" stroke-width="0.12">T cell activation</text>
<text x="549.4" y="439" font-size="7.2" text-anchor="start" dominant-baseline="central" fill="#1a1a1a" stroke="#1a1a1a" stroke-width="0.12">Th17 cell differentiation</text>
<text x="538.8" y="449.6" font-size="7.2" text-anchor="start" dominant-baseline="central" fill="#1a1a1a" stroke="#1a1a1a" stroke-width="0.12">Regulation of IFN-γ production</text>
<text x="519.8" y="461.4" font-size="7.2" text-anchor="start" dominant-baseline="central" fill="#1a1a1a" stroke="#1a1a1a" stroke-width="0.12">Immune response-regulating signaling pathway</text>
<text x="506" y="469.6" font-size="7.2" text-anchor="start" dominant-baseline="central" fill="#1a1a1a" stroke="#1a1a1a" stroke-width="0.12">Regulation of IL-2 production</text>
<text x="481.4" y="477.2" font-size="7.2" text-anchor="start" dominant-baseline="central" fill="#1a1a1a" stroke="#1a1a1a" stroke-width="0.12">Leukocyte mediated immunity</text>
<defs><linearGradient id="fcb" x1="0" y1="0" x2="1" y2="0"><stop offset="0" stop-color="#fbe6e6"/><stop offset="1" stop-color="#e85a5a"/></linearGradient></defs>
<rect x="569.2" y="257.4" width="47" height="9.1" fill="url(#fcb)"/>
<text x="566.8" y="273.3" font-size="7" text-anchor="middle" dominant-baseline="central" fill="#1a1a1a" stroke="#1a1a1a" stroke-width="0.12">−2</text>
<text x="616.2" y="273.3" font-size="7" text-anchor="middle" dominant-baseline="central" fill="#1a1a1a" stroke="#1a1a1a" stroke-width="0.12">3</text>
<text x="372.8" y="270.4" font-size="12" text-anchor="start" dominant-baseline="alphabetic" fill="#000" font-weight="bold">f</text>
</g>
<g>
<defs><linearGradient id="gcb" x1="0" y1="0" x2="1" y2="0"><stop offset="0" stop-color="#ec3a4c"/><stop offset="0.22" stop-color="#ef5068"/><stop offset="0.33" stop-color="#f07a90"/><stop offset="0.36" stop-color="#f2a8d6"/><stop offset="0.46" stop-color="#eab2e6"/><stop offset="0.5" stop-color="#cccdf6"/><stop offset="0.68" stop-color="#bcbdf4"/><stop offset="0.72" stop-color="#8a8cf0"/><stop offset="0.8" stop-color="#7a78ea"/><stop offset="0.82" stop-color="#5a55e2"/><stop offset="0.96" stop-color="#4a40dc"/><stop offset="0.965" stop-color="#2010c0"/><stop offset="1" stop-color="#2010c0"/></linearGradient></defs>
<line x1="61.8" y1="538.4" x2="61.8" y2="586.8" stroke="#f0f0f0" stroke-width="0.6"/>
<line x1="82.99" y1="538.4" x2="82.99" y2="586.8" stroke="#f0f0f0" stroke-width="0.6"/>
<line x1="104.19" y1="538.4" x2="104.19" y2="586.8" stroke="#f0f0f0" stroke-width="0.6"/>
<line x1="125.39" y1="538.4" x2="125.39" y2="586.8" stroke="#f0f0f0" stroke-width="0.6"/>
<line x1="146.58" y1="538.4" x2="146.58" y2="586.8" stroke="#f0f0f0" stroke-width="0.6"/>
<line x1="40.6" y1="578.72" x2="159.3" y2="578.72" stroke="#f3f3f3" stroke-width="0.5"/>
<line x1="40.6" y1="570.64" x2="159.3" y2="570.64" stroke="#f3f3f3" stroke-width="0.5"/>
<line x1="40.6" y1="562.56" x2="159.3" y2="562.56" stroke="#f3f3f3" stroke-width="0.5"/>
<line x1="40.6" y1="554.48" x2="159.3" y2="554.48" stroke="#f3f3f3" stroke-width="0.5"/>
<line x1="40.6" y1="546.4" x2="159.3" y2="546.4" stroke="#f3f3f3" stroke-width="0.5"/>
<line x1="40.6" y1="538.32" x2="159.3" y2="538.32" stroke="#f3f3f3" stroke-width="0.5"/>
<line x1="40.6" y1="587.6" x2="159.3" y2="587.6" stroke="#c8c8c8" stroke-width="0.7"/>
<rect x="42.78" y="589.9" width="1.2" height="16.1" fill="#171717"/>
<rect x="43.38" y="589.9" width="0.9" height="16.1" fill="#686868"/>
<rect x="44.56" y="589.9" width="0.5" height="16.1" fill="#373737"/>
<rect x="45.16" y="589.9" width="1.2" height="16.1" fill="#8d8d8d"/>
<rect x="46.08" y="589.9" width="0.9" height="16.1" fill="#868686"/>
<rect x="46.68" y="589.9" width="0.5" height="16.1" fill="#828282"/>
<rect x="47.58" y="589.9" width="1.2" height="16.1" fill="#353535"/>
<rect x="48.18" y="589.9" width="0.7" height="16.1" fill="#cdcdcd"/>
<rect x="48.78" y="589.9" width="1.2" height="16.1" fill="#6d6d6d"/>
<rect x="49.38" y="589.9" width="0.9" height="16.1" fill="#181818"/>
<rect x="49.98" y="589.9" width="0.7" height="16.1" fill="#494949"/>
<rect x="50.58" y="589.9" width="0.9" height="16.1" fill="#5f5f5f"/>
<rect x="51.23" y="589.9" width="1.2" height="16.1" fill="#585858"/>
<rect x="51.83" y="589.9" width="1.2" height="16.1" fill="#989898"/>
<rect x="52.97" y="589.9" width="0.7" height="16.1" fill="#818181"/>
<rect x="53.57" y="589.9" width="0.7" height="16.1" fill="#202020"/>
<rect x="54.17" y="589.9" width="0.9" height="16.1" fill="#414141"/>
<rect x="55.97" y="589.9" width="0.5" height="16.1" fill="#4d4d4d"/>
<rect x="56.57" y="589.9" width="0.7" height="16.1" fill="#b2b2b2"/>
<rect x="57.37" y="589.9" width="0.5" height="16.1" fill="#2d2d2d"/>
<rect x="58.69" y="589.9" width="0.5" height="16.1" fill="#a1a1a1"/>
<rect x="59.29" y="589.9" width="1.2" height="16.1" fill="#5f5f5f"/>
<rect x="59.89" y="589.9" width="0.5" height="16.1" fill="#707070"/>
<rect x="61.18" y="589.9" width="0.5" height="16.1" fill="#8e8e8e"/>
<rect x="61.78" y="589.9" width="0.5" height="16.1" fill="#1c1c1c"/>
<rect x="62.38" y="589.9" width="0.9" height="16.1" fill="#9f9f9f"/>
<rect x="62.98" y="589.9" width="0.5" height="16.1" fill="#2c2c2c"/>
<rect x="66.71" y="589.9" width="0.5" height="16.1" fill="#535353"/>
<rect x="67.31" y="589.9" width="1.2" height="16.1" fill="#202020"/>
<rect x="68.03" y="589.9" width="0.7" height="16.1" fill="#232323"/>
<rect x="68.63" y="589.9" width="0.5" height="16.1" fill="#828282"/>
<rect x="69.23" y="589.9" width="0.5" height="16.1" fill="#b1b1b1"/>
<rect x="70.27" y="589.9" width="0.7" height="16.1" fill="#a1a1a1"/>
<rect x="71.93" y="589.9" width="0.7" height="16.1" fill="#8b8b8b"/>
<rect x="72.53" y="589.9" width="0.5" height="16.1" fill="#949494"/>
<rect x="73.13" y="589.9" width="1.2" height="16.1" fill="#191919"/>
<rect x="74.03" y="589.9" width="0.7" height="16.1" fill="#777777"/>
<rect x="74.78" y="589.9" width="0.7" height="16.1" fill="#c4c4c4"/>
<rect x="75.38" y="589.9" width="0.9" height="16.1" fill="#424242"/>
<rect x="76.87" y="589.9" width="1.2" height="16.1" fill="#787878"/>
<rect x="77.58" y="589.9" width="0.9" height="16.1" fill="#818181"/>
<rect x="78.18" y="589.9" width="0.9" height="16.1" fill="#8f8f8f"/>
<rect x="78.78" y="589.9" width="1.2" height="16.1" fill="#818181"/>
<rect x="79.67" y="589.9" width="0.7" height="16.1" fill="#cfcfcf"/>
<rect x="80.27" y="589.9" width="0.5" height="16.1" fill="#858585"/>
<rect x="80.87" y="589.9" width="0.7" height="16.1" fill="#898989"/>
<rect x="81.47" y="589.9" width="0.5" height="16.1" fill="#969696"/>
<rect x="82.07" y="589.9" width="0.9" height="16.1" fill="#858585"/>
<rect x="83.57" y="589.9" width="0.5" height="16.1" fill="#585858"/>
<rect x="84.17" y="589.9" width="0.5" height="16.1" fill="#1a1a1a"/>
<rect x="84.77" y="589.9" width="0.9" height="16.1" fill="#2b2b2b"/>
<rect x="86.86" y="589.9" width="0.9" height="16.1" fill="#9d9d9d"/>
<rect x="87.46" y="589.9" width="0.5" height="16.1" fill="#bfbfbf"/>
<rect x="89.2" y="589.9" width="0.9" height="16.1" fill="#b2b2b2"/>
<rect x="90.05" y="589.9" width="0.5" height="16.1" fill="#333333"/>
<rect x="92" y="589.9" width="0.9" height="16.1" fill="#171717"/>
<rect x="92.6" y="589.9" width="0.7" height="16.1" fill="#c2c2c2"/>
<rect x="93.2" y="589.9" width="0.7" height="16.1" fill="#474747"/>
<rect x="94.46" y="589.9" width="0.9" height="16.1" fill="#5a5a5a"/>
<rect x="96.22" y="589.9" width="0.7" height="16.1" fill="#383838"/>
<rect x="96.82" y="589.9" width="0.7" height="16.1" fill="#bbbbbb"/>
<rect x="97.42" y="589.9" width="0.7" height="16.1" fill="#333333"/>
<rect x="98.02" y="589.9" width="1.2" height="16.1" fill="#7c7c7c"/>
<rect x="98.62" y="589.9" width="1.2" height="16.1" fill="#454545"/>
<rect x="99.22" y="589.9" width="1.2" height="16.1" fill="#474747"/>
<rect x="100.45" y="589.9" width="0.9" height="16.1" fill="#989898"/>
<rect x="102.32" y="589.9" width="1.2" height="16.1" fill="#828282"/>
<rect x="104.56" y="589.9" width="0.9" height="16.1" fill="#5d5d5d"/>
<rect x="106.15" y="589.9" width="0.9" height="16.1" fill="#8b8b8b"/>
<rect x="107.38" y="589.9" width="0.9" height="16.1" fill="#2d2d2d"/>
<rect x="109.53" y="589.9" width="1.2" height="16.1" fill="#717171"/>
<rect x="111.29" y="589.9" width="1.2" height="16.1" fill="#7b7b7b"/>
<rect x="111.89" y="589.9" width="0.7" height="16.1" fill="#bebebe"/>
<rect x="113.54" y="589.9" width="0.5" height="16.1" fill="#393939"/>
<rect x="115.01" y="589.9" width="0.9" height="16.1" fill="#5c5c5c"/>
<rect x="116.99" y="589.9" width="0.5" height="16.1" fill="#d0d0d0"/>
<rect x="119.77" y="589.9" width="0.7" height="16.1" fill="#4a4a4a"/>
<rect x="130.53" y="589.9" width="0.9" height="16.1" fill="#5b5b5b"/>
<rect x="133.9" y="589.9" width="0.7" height="16.1" fill="#7c7c7c"/>
<rect x="135.51" y="589.9" width="0.9" height="16.1" fill="#555555"/>
<rect x="136.11" y="589.9" width="0.9" height="16.1" fill="#959595"/>
<rect x="136.71" y="589.9" width="0.7" height="16.1" fill="#a5a5a5"/>
<rect x="140.63" y="589.9" width="0.7" height="16.1" fill="#232323"/>
<rect x="141.25" y="589.9" width="0.9" height="16.1" fill="#555555"/>
<rect x="144.96" y="589.9" width="0.9" height="16.1" fill="#3e3e3e"/>
<rect x="145.78" y="589.9" width="0.5" height="16.1" fill="#838383"/>
<rect x="148.83" y="589.9" width="1.2" height="16.1" fill="#151515"/>
<rect x="151.98" y="589.9" width="0.5" height="16.1" fill="#4b4b4b"/>
<rect x="40.6" y="606" width="112.4" height="3.9" fill="url(#gcb)"/>
<path d="M40.6 538.4V610.4H159.3V538.4Z" fill="none" stroke="#444" stroke-width="0.9"/>
<line x1="40.6" y1="589" x2="159.3" y2="589" stroke="#bbb" stroke-width="0.4"/>
<path d="M40.6 540.44H67.26V586.8" fill="none" stroke="#6cc43c" stroke-width="0.8" stroke-dasharray="2 1.2"/>
<path d="M40.69 580.29 L41.64 573.65 L42.59 567.96 L44.49 566.44 L46.39 567.01 L48.29 560.37 L51.13 549.93 L53.98 546.13 L56.83 548.03 L59.67 545.18 L63.47 541.77 L66.32 541.39 L68.21 542.34 L72.96 545.18 L82.45 549.93 L91.94 556.57 L101.43 563.21 L110.92 568.91 L116.61 570.8 L122.3 571.75 L129.89 576.5 L135.59 580.29 L141.28 580.86 L146.98 582.19 L152.67 586.94" fill="none" stroke="#1de21d" stroke-width="1.1" stroke-linejoin="round"/>
<line x1="38.6" y1="586.8" x2="40.6" y2="586.8" stroke="#333" stroke-width="0.7"/>
<text x="38.2" y="586.8" font-size="7.1" text-anchor="end" dominant-baseline="central" fill="#222" stroke="#222" stroke-width="0.12">0.0</text>
<line x1="38.6" y1="578.72" x2="40.6" y2="578.72" stroke="#333" stroke-width="0.7"/>
<text x="38.2" y="578.72" font-size="7.1" text-anchor="end" dominant-baseline="central" fill="#222" stroke="#222" stroke-width="0.12">0.1</text>
<line x1="38.6" y1="570.64" x2="40.6" y2="570.64" stroke="#333" stroke-width="0.7"/>
<text x="38.2" y="570.64" font-size="7.1" text-anchor="end" dominant-baseline="central" fill="#222" stroke="#222" stroke-width="0.12">0.2</text>
<line x1="38.6" y1="562.56" x2="40.6" y2="562.56" stroke="#333" stroke-width="0.7"/>
<text x="38.2" y="562.56" font-size="7.1" text-anchor="end" dominant-baseline="central" fill="#222" stroke="#222" stroke-width="0.12">0.3</text>
<line x1="38.6" y1="554.48" x2="40.6" y2="554.48" stroke="#333" stroke-width="0.7"/>
<text x="38.2" y="554.48" font-size="7.1" text-anchor="end" dominant-baseline="central" fill="#222" stroke="#222" stroke-width="0.12">0.4</text>
<line x1="38.6" y1="546.4" x2="40.6" y2="546.4" stroke="#333" stroke-width="0.7"/>
<text x="38.2" y="546.4" font-size="7.1" text-anchor="end" dominant-baseline="central" fill="#222" stroke="#222" stroke-width="0.12">0.5</text>
<line x1="38.6" y1="538.32" x2="40.6" y2="538.32" stroke="#333" stroke-width="0.7"/>
<text x="38.2" y="538.32" font-size="7.1" text-anchor="end" dominant-baseline="central" fill="#222" stroke="#222" stroke-width="0.12">0.6</text>
<text x="20.5" y="560.6" font-size="7.1" text-anchor="middle" dominant-baseline="central" fill="#222" stroke="#222" stroke-width="0.12" transform="rotate(-90 20.5 560.6)">Enrichment score (ES)</text>
<text x="69.16" y="547.6" font-size="7.2" text-anchor="start" dominant-baseline="central" fill="#222" stroke="#222" stroke-width="0.12">ES: 0.586</text>
<text x="151.2" y="548.4" font-size="7.2" text-anchor="end" dominant-baseline="central" fill="#222" stroke="#222" stroke-width="0.12">NES: 1.688</text>
<text x="155.5" y="558.1" font-size="7.2" text-anchor="end" dominant-baseline="central" fill="#222" stroke="#222" stroke-width="0.12">FDR = 0.076</text>
<text x="102.8" y="521.8" font-size="7.1" text-anchor="middle" dominant-baseline="central" fill="#222" stroke="#222" stroke-width="0.12">Toll-like receptor signaling pathway</text>
<text x="102.8" y="530.9" font-size="7.1" text-anchor="middle" dominant-baseline="central" fill="#222" stroke="#222" stroke-width="0.12">(MMU04620)</text>
<text x="1.5" y="519.2" font-size="12" text-anchor="start" dominant-baseline="alphabetic" fill="#000" font-weight="bold">g</text>
<line x1="220.9" y1="538.5" x2="220.9" y2="586.6" stroke="#f0f0f0" stroke-width="0.6"/>
<line x1="242.09" y1="538.5" x2="242.09" y2="586.6" stroke="#f0f0f0" stroke-width="0.6"/>
<line x1="263.29" y1="538.5" x2="263.29" y2="586.6" stroke="#f0f0f0" stroke-width="0.6"/>
<line x1="284.49" y1="538.5" x2="284.49" y2="586.6" stroke="#f0f0f0" stroke-width="0.6"/>
<line x1="305.68" y1="538.5" x2="305.68" y2="586.6" stroke="#f0f0f0" stroke-width="0.6"/>
<line x1="199.7" y1="578.52" x2="318.4" y2="578.52" stroke="#f3f3f3" stroke-width="0.5"/>
<line x1="199.7" y1="570.44" x2="318.4" y2="570.44" stroke="#f3f3f3" stroke-width="0.5"/>
<line x1="199.7" y1="562.36" x2="318.4" y2="562.36" stroke="#f3f3f3" stroke-width="0.5"/>
<line x1="199.7" y1="554.28" x2="318.4" y2="554.28" stroke="#f3f3f3" stroke-width="0.5"/>
<line x1="199.7" y1="546.2" x2="318.4" y2="546.2" stroke="#f3f3f3" stroke-width="0.5"/>
<line x1="199.7" y1="538.12" x2="318.4" y2="538.12" stroke="#f3f3f3" stroke-width="0.5"/>
<line x1="199.7" y1="587.4" x2="318.4" y2="587.4" stroke="#c8c8c8" stroke-width="0.7"/>
<rect x="200.1" y="589.9" width="1.2" height="16.1" fill="#2d2d2d"/>
<rect x="201.08" y="589.9" width="0.9" height="16.1" fill="#7b7b7b"/>
<rect x="202.01" y="589.9" width="0.5" height="16.1" fill="#7a7a7a"/>
<rect x="202.61" y="589.9" width="0.5" height="16.1" fill="#414141"/>
<rect x="204.12" y="589.9" width="0.5" height="16.1" fill="#3a3a3a"/>
<rect x="204.72" y="589.9" width="0.5" height="16.1" fill="#3d3d3d"/>
<rect x="205.69" y="589.9" width="1.2" height="16.1" fill="#b2b2b2"/>
<rect x="206.41" y="589.9" width="0.9" height="16.1" fill="#7c7c7c"/>
<rect x="207.01" y="589.9" width="1.2" height="16.1" fill="#252525"/>
<rect x="207.61" y="589.9" width="0.9" height="16.1" fill="#6c6c6c"/>
<rect x="208.21" y="589.9" width="0.5" height="16.1" fill="#b6b6b6"/>
<rect x="208.81" y="589.9" width="0.5" height="16.1" fill="#c6c6c6"/>
<rect x="209.41" y="589.9" width="1.2" height="16.1" fill="#727272"/>
<rect x="210.01" y="589.9" width="1.2" height="16.1" fill="#606060"/>
<rect x="210.91" y="589.9" width="0.7" height="16.1" fill="#bababa"/>
<rect x="211.51" y="589.9" width="0.7" height="16.1" fill="#2e2e2e"/>
<rect x="212.94" y="589.9" width="0.5" height="16.1" fill="#8d8d8d"/>
<rect x="213.66" y="589.9" width="0.9" height="16.1" fill="#878787"/>
<rect x="215.15" y="589.9" width="0.7" height="16.1" fill="#c3c3c3"/>
<rect x="216.67" y="589.9" width="0.7" height="16.1" fill="#2b2b2b"/>
<rect x="217.27" y="589.9" width="0.7" height="16.1" fill="#191919"/>
<rect x="217.9" y="589.9" width="0.5" height="16.1" fill="#7c7c7c"/>
<rect x="218.7" y="589.9" width="1.2" height="16.1" fill="#212121"/>
<rect x="222.89" y="589.9" width="0.9" height="16.1" fill="#7f7f7f"/>
<rect x="223.71" y="589.9" width="0.5" height="16.1" fill="#2b2b2b"/>
<rect x="225.06" y="589.9" width="0.5" height="16.1" fill="#393939"/>
<rect x="226.27" y="589.9" width="1.2" height="16.1" fill="#272727"/>
<rect x="226.87" y="589.9" width="1.2" height="16.1" fill="#b1b1b1"/>
<rect x="228.36" y="589.9" width="1.2" height="16.1" fill="#404040"/>
<rect x="228.96" y="589.9" width="1.2" height="16.1" fill="#c3c3c3"/>
<rect x="229.56" y="589.9" width="0.5" height="16.1" fill="#626262"/>
<rect x="230.16" y="589.9" width="0.5" height="16.1" fill="#7a7a7a"/>
<rect x="230.76" y="589.9" width="0.5" height="16.1" fill="#979797"/>
<rect x="231.36" y="589.9" width="1.2" height="16.1" fill="#949494"/>
<rect x="232.08" y="589.9" width="0.5" height="16.1" fill="#a6a6a6"/>
<rect x="234.78" y="589.9" width="0.5" height="16.1" fill="#c7c7c7"/>
<rect x="235.38" y="589.9" width="0.5" height="16.1" fill="#888888"/>
<rect x="235.98" y="589.9" width="0.9" height="16.1" fill="#7f7f7f"/>
<rect x="236.58" y="589.9" width="1.2" height="16.1" fill="#c9c9c9"/>
<rect x="237.18" y="589.9" width="0.9" height="16.1" fill="#1d1d1d"/>
<rect x="237.78" y="589.9" width="0.7" height="16.1" fill="#313131"/>
<rect x="238.38" y="589.9" width="0.5" height="16.1" fill="#161616"/>
<rect x="239.05" y="589.9" width="0.7" height="16.1" fill="#bababa"/>
<rect x="239.65" y="589.9" width="0.7" height="16.1" fill="#848484"/>
<rect x="240.25" y="589.9" width="0.5" height="16.1" fill="#444444"/>
<rect x="243.28" y="589.9" width="0.5" height="16.1" fill="#363636"/>
<rect x="244.85" y="589.9" width="1.2" height="16.1" fill="#a2a2a2"/>
<rect x="245.45" y="589.9" width="1.2" height="16.1" fill="#c9c9c9"/>
<rect x="246.11" y="589.9" width="0.9" height="16.1" fill="#909090"/>
<rect x="246.71" y="589.9" width="0.9" height="16.1" fill="#ababab"/>
<rect x="248.97" y="589.9" width="0.9" height="16.1" fill="#949494"/>
<rect x="249.57" y="589.9" width="0.5" height="16.1" fill="#5a5a5a"/>
<rect x="251.44" y="589.9" width="1.2" height="16.1" fill="#373737"/>
<rect x="252.04" y="589.9" width="1.2" height="16.1" fill="#202020"/>
<rect x="252.64" y="589.9" width="0.9" height="16.1" fill="#2d2d2d"/>
<rect x="253.24" y="589.9" width="0.5" height="16.1" fill="#a5a5a5"/>
<rect x="254.58" y="589.9" width="0.5" height="16.1" fill="#9e9e9e"/>
<rect x="256.17" y="589.9" width="1.2" height="16.1" fill="#8d8d8d"/>
<rect x="256.77" y="589.9" width="0.9" height="16.1" fill="#6a6a6a"/>
<rect x="257.37" y="589.9" width="0.5" height="16.1" fill="#1d1d1d"/>
<rect x="259.04" y="589.9" width="0.5" height="16.1" fill="#797979"/>
<rect x="260.36" y="589.9" width="0.9" height="16.1" fill="#aaaaaa"/>
<rect x="261.84" y="589.9" width="0.9" height="16.1" fill="#838383"/>
<rect x="262.44" y="589.9" width="1.2" height="16.1" fill="#cacaca"/>
<rect x="264.52" y="589.9" width="1.2" height="16.1" fill="#828282"/>
<rect x="265.76" y="589.9" width="1.2" height="16.1" fill="#838383"/>
<rect x="266.36" y="589.9" width="0.9" height="16.1" fill="#202020"/>
<rect x="266.96" y="589.9" width="0.5" height="16.1" fill="#cdcdcd"/>
<rect x="267.56" y="589.9" width="0.9" height="16.1" fill="#aeaeae"/>
<rect x="268.61" y="589.9" width="0.5" height="16.1" fill="#767676"/>
<rect x="270.27" y="589.9" width="0.5" height="16.1" fill="#3c3c3c"/>
<rect x="270.87" y="589.9" width="0.9" height="16.1" fill="#858585"/>
<rect x="272.45" y="589.9" width="0.9" height="16.1" fill="#7f7f7f"/>
<rect x="274.84" y="589.9" width="1.2" height="16.1" fill="#1f1f1f"/>
<rect x="280.54" y="589.9" width="1.2" height="16.1" fill="#999999"/>
<rect x="286.88" y="589.9" width="0.5" height="16.1" fill="#646464"/>
<rect x="292.05" y="589.9" width="1.2" height="16.1" fill="#6f6f6f"/>
<rect x="292.65" y="589.9" width="0.5" height="16.1" fill="#7d7d7d"/>
<rect x="295.13" y="589.9" width="0.9" height="16.1" fill="#adadad"/>
<rect x="300.79" y="589.9" width="0.9" height="16.1" fill="#868686"/>
<rect x="304.09" y="589.9" width="0.5" height="16.1" fill="#7b7b7b"/>
<rect x="308.53" y="589.9" width="0.7" height="16.1" fill="#bdbdbd"/>
<rect x="310.37" y="589.9" width="0.7" height="16.1" fill="#363636"/>
<rect x="199.7" y="606" width="112" height="3.9" fill="url(#gcb)"/>
<path d="M199.7 538.5V610.4H318.4V538.5Z" fill="none" stroke="#444" stroke-width="0.9"/>
<line x1="199.7" y1="589" x2="318.4" y2="589" stroke="#bbb" stroke-width="0.4"/>
<path d="M199.7 540.44H225.37V586.6" fill="none" stroke="#6cc43c" stroke-width="0.8" stroke-dasharray="2 1.2"/>
<path d="M199.74 585.04 L200.69 575.55 L201.64 568.91 L203.54 560.37 L205.44 558.47 L207.34 554.67 L210.18 548.98 L213.03 543.66 L215.88 544.8 L218.72 545.18 L221.57 542.34 L224.42 541.39 L226.32 541.77 L231.06 544.23 L238.65 547.08 L246.24 550.88 L253.83 556.57 L261.43 561.32 L269.02 566.06 L274.71 568.91 L280.41 570.8 L286.1 574.6 L291.79 577.45 L297.49 580.29 L303.18 581.24 L306.98 583.14 L311.72 586.56" fill="none" stroke="#1de21d" stroke-width="1.1" stroke-linejoin="round"/>
<line x1="197.7" y1="586.6" x2="199.7" y2="586.6" stroke="#333" stroke-width="0.7"/>
<text x="197.3" y="586.6" font-size="7.1" text-anchor="end" dominant-baseline="central" fill="#222" stroke="#222" stroke-width="0.12">0.0</text>
<line x1="197.7" y1="578.52" x2="199.7" y2="578.52" stroke="#333" stroke-width="0.7"/>
<text x="197.3" y="578.52" font-size="7.1" text-anchor="end" dominant-baseline="central" fill="#222" stroke="#222" stroke-width="0.12">0.1</text>
<line x1="197.7" y1="570.44" x2="199.7" y2="570.44" stroke="#333" stroke-width="0.7"/>
<text x="197.3" y="570.44" font-size="7.1" text-anchor="end" dominant-baseline="central" fill="#222" stroke="#222" stroke-width="0.12">0.2</text>
<line x1="197.7" y1="562.36" x2="199.7" y2="562.36" stroke="#333" stroke-width="0.7"/>
<text x="197.3" y="562.36" font-size="7.1" text-anchor="end" dominant-baseline="central" fill="#222" stroke="#222" stroke-width="0.12">0.3</text>
<line x1="197.7" y1="554.28" x2="199.7" y2="554.28" stroke="#333" stroke-width="0.7"/>
<text x="197.3" y="554.28" font-size="7.1" text-anchor="end" dominant-baseline="central" fill="#222" stroke="#222" stroke-width="0.12">0.4</text>
<line x1="197.7" y1="546.2" x2="199.7" y2="546.2" stroke="#333" stroke-width="0.7"/>
<text x="197.3" y="546.2" font-size="7.1" text-anchor="end" dominant-baseline="central" fill="#222" stroke="#222" stroke-width="0.12">0.5</text>
<line x1="197.7" y1="538.12" x2="199.7" y2="538.12" stroke="#333" stroke-width="0.7"/>
<text x="197.3" y="538.12" font-size="7.1" text-anchor="end" dominant-baseline="central" fill="#222" stroke="#222" stroke-width="0.12">0.6</text>
<text x="179.7" y="560.6" font-size="7.1" text-anchor="middle" dominant-baseline="central" fill="#222" stroke="#222" stroke-width="0.12" transform="rotate(-90 179.7 560.6)">Enrichment score (ES)</text>
<text x="226.88" y="547.6" font-size="7.2" text-anchor="start" dominant-baseline="central" fill="#222" stroke="#222" stroke-width="0.12">ES: 0.577</text>
<text x="311.2" y="548.4" font-size="7.2" text-anchor="end" dominant-baseline="central" fill="#222" stroke="#222" stroke-width="0.12">NES: 1.768</text>
<text x="315.5" y="558.1" font-size="7.2" text-anchor="end" dominant-baseline="central" fill="#222" stroke="#222" stroke-width="0.12">FDR = 0.066</text>
<text x="262.5" y="521.8" font-size="7.1" text-anchor="middle" dominant-baseline="central" fill="#222" stroke="#222" stroke-width="0.12">NOD-like receptor signaling pathway</text>
<text x="262.5" y="530.9" font-size="7.1" text-anchor="middle" dominant-baseline="central" fill="#222" stroke="#222" stroke-width="0.12">(MMU04621)</text>
<text x="177.5" y="519.2" font-size="12" text-anchor="start" dominant-baseline="alphabetic" fill="#000" font-weight="bold">h</text>
<line x1="376.06" y1="538" x2="376.06" y2="585.6" stroke="#f0f0f0" stroke-width="0.6"/>
<line x1="397.41" y1="538" x2="397.41" y2="585.6" stroke="#f0f0f0" stroke-width="0.6"/>
<line x1="418.77" y1="538" x2="418.77" y2="585.6" stroke="#f0f0f0" stroke-width="0.6"/>
<line x1="440.13" y1="538" x2="440.13" y2="585.6" stroke="#f0f0f0" stroke-width="0.6"/>
<line x1="461.49" y1="538" x2="461.49" y2="585.6" stroke="#f0f0f0" stroke-width="0.6"/>
<line x1="354.7" y1="577.4" x2="474.3" y2="577.4" stroke="#f3f3f3" stroke-width="0.5"/>
<line x1="354.7" y1="569.2" x2="474.3" y2="569.2" stroke="#f3f3f3" stroke-width="0.5"/>
<line x1="354.7" y1="561" x2="474.3" y2="561" stroke="#f3f3f3" stroke-width="0.5"/>
<line x1="354.7" y1="552.8" x2="474.3" y2="552.8" stroke="#f3f3f3" stroke-width="0.5"/>
<line x1="354.7" y1="544.6" x2="474.3" y2="544.6" stroke="#f3f3f3" stroke-width="0.5"/>
<line x1="354.7" y1="586.4" x2="474.3" y2="586.4" stroke="#c8c8c8" stroke-width="0.7"/>
<rect x="357.03" y="589.9" width="0.9" height="16.1" fill="#515151"/>
<rect x="358.13" y="589.9" width="0.7" height="16.1" fill="#9d9d9d"/>
<rect x="358.73" y="589.9" width="0.9" height="16.1" fill="#3f3f3f"/>
<rect x="362.41" y="589.9" width="0.7" height="16.1" fill="#767676"/>
<rect x="363.01" y="589.9" width="0.5" height="16.1" fill="#252525"/>
<rect x="364.98" y="589.9" width="0.5" height="16.1" fill="#343434"/>
<rect x="365.7" y="589.9" width="1.2" height="16.1" fill="#4d4d4d"/>
<rect x="366.3" y="589.9" width="0.7" height="16.1" fill="#7d7d7d"/>
<rect x="366.9" y="589.9" width="1.2" height="16.1" fill="#2a2a2a"/>
<rect x="367.89" y="589.9" width="0.5" height="16.1" fill="#696969"/>
<rect x="368.55" y="589.9" width="0.5" height="16.1" fill="#5d5d5d"/>
<rect x="369.15" y="589.9" width="0.9" height="16.1" fill="#545454"/>
<rect x="369.75" y="589.9" width="1.2" height="16.1" fill="#565656"/>
<rect x="370.62" y="589.9" width="0.9" height="16.1" fill="#8b8b8b"/>
<rect x="371.79" y="589.9" width="0.9" height="16.1" fill="#151515"/>
<rect x="372.39" y="589.9" width="0.7" height="16.1" fill="#151515"/>
<rect x="372.99" y="589.9" width="0.7" height="16.1" fill="#c5c5c5"/>
<rect x="374.1" y="589.9" width="0.9" height="16.1" fill="#8c8c8c"/>
<rect x="374.8" y="589.9" width="1.2" height="16.1" fill="#717171"/>
<rect x="375.56" y="589.9" width="0.5" height="16.1" fill="#636363"/>
<rect x="376.36" y="589.9" width="0.7" height="16.1" fill="#838383"/>
<rect x="377.18" y="589.9" width="0.5" height="16.1" fill="#5e5e5e"/>
<rect x="377.78" y="589.9" width="0.5" height="16.1" fill="#a3a3a3"/>
<rect x="378.38" y="589.9" width="0.7" height="16.1" fill="#7c7c7c"/>
<rect x="379.48" y="589.9" width="0.5" height="16.1" fill="#cdcdcd"/>
<rect x="382.66" y="589.9" width="0.7" height="16.1" fill="#717171"/>
<rect x="383.26" y="589.9" width="0.7" height="16.1" fill="#3c3c3c"/>
<rect x="385.75" y="589.9" width="0.7" height="16.1" fill="#828282"/>
<rect x="386.35" y="589.9" width="0.7" height="16.1" fill="#b8b8b8"/>
<rect x="387.48" y="589.9" width="0.5" height="16.1" fill="#919191"/>
<rect x="389.59" y="589.9" width="1.2" height="16.1" fill="#191919"/>
<rect x="390.19" y="589.9" width="0.7" height="16.1" fill="#626262"/>
<rect x="391.58" y="589.9" width="1.2" height="16.1" fill="#909090"/>
<rect x="393.18" y="589.9" width="1.2" height="16.1" fill="#b7b7b7"/>
<rect x="393.78" y="589.9" width="1.2" height="16.1" fill="#232323"/>
<rect x="394.42" y="589.9" width="1.2" height="16.1" fill="#4e4e4e"/>
<rect x="397.96" y="589.9" width="0.7" height="16.1" fill="#4f4f4f"/>
<rect x="398.56" y="589.9" width="1.2" height="16.1" fill="#797979"/>
<rect x="399.16" y="589.9" width="0.7" height="16.1" fill="#353535"/>
<rect x="400.83" y="589.9" width="1.2" height="16.1" fill="#252525"/>
<rect x="402.52" y="589.9" width="0.9" height="16.1" fill="#c1c1c1"/>
<rect x="403.12" y="589.9" width="0.9" height="16.1" fill="#828282"/>
<rect x="403.72" y="589.9" width="1.2" height="16.1" fill="#a1a1a1"/>
<rect x="404.69" y="589.9" width="0.7" height="16.1" fill="#808080"/>
<rect x="405.29" y="589.9" width="0.7" height="16.1" fill="#525252"/>
<rect x="405.9" y="589.9" width="1.2" height="16.1" fill="#636363"/>
<rect x="406.5" y="589.9" width="1.2" height="16.1" fill="#b7b7b7"/>
<rect x="407.1" y="589.9" width="0.5" height="16.1" fill="#8b8b8b"/>
<rect x="407.7" y="589.9" width="0.9" height="16.1" fill="#464646"/>
<rect x="408.3" y="589.9" width="0.7" height="16.1" fill="#5e5e5e"/>
<rect x="409.58" y="589.9" width="0.5" height="16.1" fill="#747474"/>
<rect x="410.18" y="589.9" width="0.5" height="16.1" fill="#595959"/>
<rect x="412.84" y="589.9" width="0.9" height="16.1" fill="#373737"/>
<rect x="413.44" y="589.9" width="0.7" height="16.1" fill="#383838"/>
<rect x="414.04" y="589.9" width="1.2" height="16.1" fill="#3b3b3b"/>
<rect x="415.17" y="589.9" width="0.9" height="16.1" fill="#595959"/>
<rect x="421.49" y="589.9" width="0.7" height="16.1" fill="#828282"/>
<rect x="426.97" y="589.9" width="0.7" height="16.1" fill="#242424"/>
<rect x="427.57" y="589.9" width="0.7" height="16.1" fill="#868686"/>
<rect x="428.17" y="589.9" width="0.5" height="16.1" fill="#333333"/>
<rect x="429.34" y="589.9" width="1.2" height="16.1" fill="#424242"/>
<rect x="433.29" y="589.9" width="0.5" height="16.1" fill="#bbbbbb"/>
<rect x="437.81" y="589.9" width="0.7" height="16.1" fill="#cbcbcb"/>
<rect x="440.19" y="589.9" width="0.9" height="16.1" fill="#6f6f6f"/>
<rect x="443.96" y="589.9" width="0.7" height="16.1" fill="#8c8c8c"/>
<rect x="449.85" y="589.9" width="0.5" height="16.1" fill="#797979"/>
<rect x="455.09" y="589.9" width="0.7" height="16.1" fill="#242424"/>
<rect x="458.04" y="589.9" width="1.2" height="16.1" fill="#4a4a4a"/>
<rect x="354.7" y="606" width="113.9" height="3.9" fill="url(#gcb)"/>
<path d="M354.7 538V610.4H474.3V538Z" fill="none" stroke="#444" stroke-width="0.9"/>
<line x1="354.7" y1="589" x2="474.3" y2="589" stroke="#bbb" stroke-width="0.4"/>
<path d="M354.7 538.54H377.52V585.6" fill="none" stroke="#6cc43c" stroke-width="0.8" stroke-dasharray="2 1.2"/>
<path d="M354.74 567.96 L355.69 556.57 L356.64 553.72 L358.54 553.72 L359.87 551.83 L361.39 545.18 L363.29 543.66 L366.13 542.91 L368.03 543.29 L370.88 543.66 L373.72 544.8 L375.62 542.91 L377.14 540.44 L378.47 541.01 L382.26 543.66 L387.96 546.13 L397.45 550.88 L406.94 556.57 L416.43 562.26 L425.92 567.96 L435.41 573.65 L443 578.4 L448.69 580.86 L456.28 582.19 L461.98 585.04 L464.82 585.42 L466.72 584.66 L468.62 585.99" fill="none" stroke="#1de21d" stroke-width="1.1" stroke-linejoin="round"/>
<line x1="352.7" y1="585.6" x2="354.7" y2="585.6" stroke="#333" stroke-width="0.7"/>
<text x="352.3" y="585.6" font-size="7.1" text-anchor="end" dominant-baseline="central" fill="#222" stroke="#222" stroke-width="0.12">0.0</text>
<line x1="352.7" y1="577.4" x2="354.7" y2="577.4" stroke="#333" stroke-width="0.7"/>
<text x="352.3" y="577.4" font-size="7.1" text-anchor="end" dominant-baseline="central" fill="#222" stroke="#222" stroke-width="0.12">0.1</text>
<line x1="352.7" y1="569.2" x2="354.7" y2="569.2" stroke="#333" stroke-width="0.7"/>
<text x="352.3" y="569.2" font-size="7.1" text-anchor="end" dominant-baseline="central" fill="#222" stroke="#222" stroke-width="0.12">0.2</text>
<line x1="352.7" y1="561" x2="354.7" y2="561" stroke="#333" stroke-width="0.7"/>
<text x="352.3" y="561" font-size="7.1" text-anchor="end" dominant-baseline="central" fill="#222" stroke="#222" stroke-width="0.12">0.3</text>
<line x1="352.7" y1="552.8" x2="354.7" y2="552.8" stroke="#333" stroke-width="0.7"/>
<text x="352.3" y="552.8" font-size="7.1" text-anchor="end" dominant-baseline="central" fill="#222" stroke="#222" stroke-width="0.12">0.4</text>
<line x1="352.7" y1="544.6" x2="354.7" y2="544.6" stroke="#333" stroke-width="0.7"/>
<text x="352.3" y="544.6" font-size="7.1" text-anchor="end" dominant-baseline="central" fill="#222" stroke="#222" stroke-width="0.12">0.5</text>
<text x="335.5" y="560.6" font-size="7.1" text-anchor="middle" dominant-baseline="central" fill="#222" stroke="#222" stroke-width="0.12" transform="rotate(-90 335.5 560.6)">Enrichment score (ES)</text>
<text x="380.94" y="547.6" font-size="7.2" text-anchor="start" dominant-baseline="central" fill="#222" stroke="#222" stroke-width="0.12">ES: 0.571</text>
<text x="466.7" y="548.4" font-size="7.2" text-anchor="end" dominant-baseline="central" fill="#222" stroke="#222" stroke-width="0.12">NES: 1.885</text>
<text x="470.9" y="558.1" font-size="7.2" text-anchor="end" dominant-baseline="central" fill="#222" stroke="#222" stroke-width="0.12">FDR = 0.082</text>
<text x="414.5" y="521.8" font-size="7.1" text-anchor="middle" dominant-baseline="central" fill="#222" stroke="#222" stroke-width="0.12">IL-17 signaling pathway</text>
<text x="414.5" y="530.9" font-size="7.1" text-anchor="middle" dominant-baseline="central" fill="#222" stroke="#222" stroke-width="0.12">(MMU04657)</text>
<text x="336.2" y="519.2" font-size="12" text-anchor="start" dominant-baseline="alphabetic" fill="#000" font-weight="bold">i</text>
<line x1="542.44" y1="538" x2="542.44" y2="586.4" stroke="#f0f0f0" stroke-width="0.6"/>
<line x1="563.59" y1="538" x2="563.59" y2="586.4" stroke="#f0f0f0" stroke-width="0.6"/>
<line x1="584.73" y1="538" x2="584.73" y2="586.4" stroke="#f0f0f0" stroke-width="0.6"/>
<line x1="605.87" y1="538" x2="605.87" y2="586.4" stroke="#f0f0f0" stroke-width="0.6"/>
<line x1="627.01" y1="538" x2="627.01" y2="586.4" stroke="#f0f0f0" stroke-width="0.6"/>
<line x1="521.3" y1="578.32" x2="639.7" y2="578.32" stroke="#f3f3f3" stroke-width="0.5"/>
<line x1="521.3" y1="570.24" x2="639.7" y2="570.24" stroke="#f3f3f3" stroke-width="0.5"/>
<line x1="521.3" y1="562.16" x2="639.7" y2="562.16" stroke="#f3f3f3" stroke-width="0.5"/>
<line x1="521.3" y1="554.08" x2="639.7" y2="554.08" stroke="#f3f3f3" stroke-width="0.5"/>
<line x1="521.3" y1="546" x2="639.7" y2="546" stroke="#f3f3f3" stroke-width="0.5"/>
<line x1="521.3" y1="537.92" x2="639.7" y2="537.92" stroke="#f3f3f3" stroke-width="0.5"/>
<line x1="521.3" y1="587.2" x2="639.7" y2="587.2" stroke="#c8c8c8" stroke-width="0.7"/>
<rect x="521.7" y="589.9" width="1.2" height="16.1" fill="#5d5d5d"/>
<rect x="522.3" y="589.9" width="0.7" height="16.1" fill="#484848"/>
<rect x="522.9" y="589.9" width="0.5" height="16.1" fill="#494949"/>
<rect x="523.5" y="589.9" width="1.2" height="16.1" fill="#545454"/>
<rect x="524.1" y="589.9" width="0.7" height="16.1" fill="#363636"/>
<rect x="525.26" y="589.9" width="0.9" height="16.1" fill="#808080"/>
<rect x="526.88" y="589.9" width="0.7" height="16.1" fill="#8c8c8c"/>
<rect x="528.4" y="589.9" width="0.5" height="16.1" fill="#cbcbcb"/>
<rect x="530.37" y="589.9" width="1.2" height="16.1" fill="#a5a5a5"/>
<rect x="530.97" y="589.9" width="0.7" height="16.1" fill="#7f7f7f"/>
<rect x="531.57" y="589.9" width="1.2" height="16.1" fill="#505050"/>
<rect x="532.84" y="589.9" width="0.9" height="16.1" fill="#414141"/>
<rect x="533.44" y="589.9" width="1.2" height="16.1" fill="#7c7c7c"/>
<rect x="534.82" y="589.9" width="0.9" height="16.1" fill="#cfcfcf"/>
<rect x="535.42" y="589.9" width="0.7" height="16.1" fill="#535353"/>
<rect x="536.02" y="589.9" width="0.9" height="16.1" fill="#919191"/>
<rect x="537.48" y="589.9" width="0.5" height="16.1" fill="#707070"/>
<rect x="538.08" y="589.9" width="0.9" height="16.1" fill="#808080"/>
<rect x="538.68" y="589.9" width="0.7" height="16.1" fill="#1f1f1f"/>
<rect x="539.28" y="589.9" width="0.9" height="16.1" fill="#1a1a1a"/>
<rect x="539.88" y="589.9" width="1.2" height="16.1" fill="#bebebe"/>
<rect x="540.48" y="589.9" width="1.2" height="16.1" fill="#c4c4c4"/>
<rect x="541.15" y="589.9" width="0.7" height="16.1" fill="#282828"/>
<rect x="542.21" y="589.9" width="1.2" height="16.1" fill="#929292"/>
<rect x="542.81" y="589.9" width="0.5" height="16.1" fill="#757575"/>
<rect x="543.51" y="589.9" width="0.7" height="16.1" fill="#454545"/>
<rect x="544.11" y="589.9" width="1.2" height="16.1" fill="#252525"/>
<rect x="544.71" y="589.9" width="0.9" height="16.1" fill="#545454"/>
<rect x="545.31" y="589.9" width="0.5" height="16.1" fill="#909090"/>
<rect x="545.91" y="589.9" width="0.9" height="16.1" fill="#595959"/>
<rect x="546.51" y="589.9" width="1.2" height="16.1" fill="#3d3d3d"/>
<rect x="547.41" y="589.9" width="0.5" height="16.1" fill="#787878"/>
<rect x="548.01" y="589.9" width="0.9" height="16.1" fill="#232323"/>
<rect x="548.61" y="589.9" width="0.9" height="16.1" fill="#565656"/>
<rect x="549.21" y="589.9" width="1.2" height="16.1" fill="#434343"/>
<rect x="549.96" y="589.9" width="0.5" height="16.1" fill="#141414"/>
<rect x="550.56" y="589.9" width="1.2" height="16.1" fill="#686868"/>
<rect x="551.16" y="589.9" width="0.5" height="16.1" fill="#171717"/>
<rect x="552.24" y="589.9" width="0.7" height="16.1" fill="#595959"/>
<rect x="554.68" y="589.9" width="0.9" height="16.1" fill="#808080"/>
<rect x="557.93" y="589.9" width="0.7" height="16.1" fill="#8b8b8b"/>
<rect x="558.53" y="589.9" width="0.7" height="16.1" fill="#353535"/>
<rect x="559.13" y="589.9" width="1.2" height="16.1" fill="#7a7a7a"/>
<rect x="559.73" y="589.9" width="0.7" height="16.1" fill="#b8b8b8"/>
<rect x="560.75" y="589.9" width="0.7" height="16.1" fill="#8e8e8e"/>
<rect x="561.76" y="589.9" width="0.7" height="16.1" fill="#828282"/>
<rect x="562.36" y="589.9" width="0.7" height="16.1" fill="#949494"/>
<rect x="562.96" y="589.9" width="0.7" height="16.1" fill="#bfbfbf"/>
<rect x="563.88" y="589.9" width="1.2" height="16.1" fill="#404040"/>
<rect x="564.48" y="589.9" width="1.2" height="16.1" fill="#959595"/>
<rect x="566.42" y="589.9" width="0.7" height="16.1" fill="#cecece"/>
<rect x="567.02" y="589.9" width="1.2" height="16.1" fill="#474747"/>
<rect x="567.62" y="589.9" width="0.5" height="16.1" fill="#595959"/>
<rect x="569.01" y="589.9" width="0.9" height="16.1" fill="#2a2a2a"/>
<rect x="569.61" y="589.9" width="0.9" height="16.1" fill="#404040"/>
<rect x="570.21" y="589.9" width="0.9" height="16.1" fill="#686868"/>
<rect x="570.89" y="589.9" width="0.9" height="16.1" fill="#787878"/>
<rect x="571.49" y="589.9" width="0.7" height="16.1" fill="#c4c4c4"/>
<rect x="572.5" y="589.9" width="1.2" height="16.1" fill="#9a9a9a"/>
<rect x="574.17" y="589.9" width="0.9" height="16.1" fill="#343434"/>
<rect x="575.03" y="589.9" width="0.7" height="16.1" fill="#c1c1c1"/>
<rect x="575.63" y="589.9" width="0.7" height="16.1" fill="#909090"/>
<rect x="576.41" y="589.9" width="0.5" height="16.1" fill="#777777"/>
<rect x="577.01" y="589.9" width="1.2" height="16.1" fill="#757575"/>
<rect x="577.61" y="589.9" width="0.9" height="16.1" fill="#aeaeae"/>
<rect x="578.32" y="589.9" width="0.5" height="16.1" fill="#4c4c4c"/>
<rect x="578.92" y="589.9" width="0.9" height="16.1" fill="#cfcfcf"/>
<rect x="579.52" y="589.9" width="0.5" height="16.1" fill="#a0a0a0"/>
<rect x="580.12" y="589.9" width="0.9" height="16.1" fill="#8b8b8b"/>
<rect x="580.72" y="589.9" width="0.9" height="16.1" fill="#575757"/>
<rect x="582" y="589.9" width="0.9" height="16.1" fill="#535353"/>
<rect x="582.77" y="589.9" width="0.5" height="16.1" fill="#7c7c7c"/>
<rect x="583.91" y="589.9" width="0.9" height="16.1" fill="#adadad"/>
<rect x="584.74" y="589.9" width="1.2" height="16.1" fill="#707070"/>
<rect x="588.24" y="589.9" width="0.9" height="16.1" fill="#afafaf"/>
<rect x="589.09" y="589.9" width="0.9" height="16.1" fill="#2f2f2f"/>
<rect x="589.69" y="589.9" width="0.9" height="16.1" fill="#7e7e7e"/>
<rect x="591.1" y="589.9" width="1.2" height="16.1" fill="#a1a1a1"/>
<rect x="591.7" y="589.9" width="0.7" height="16.1" fill="#525252"/>
<rect x="594.21" y="589.9" width="0.5" height="16.1" fill="#8e8e8e"/>
<rect x="595.15" y="589.9" width="0.9" height="16.1" fill="#818181"/>
<rect x="597.39" y="589.9" width="1.2" height="16.1" fill="#afafaf"/>
<rect x="599.54" y="589.9" width="0.9" height="16.1" fill="#393939"/>
<rect x="602.49" y="589.9" width="1.2" height="16.1" fill="#838383"/>
<rect x="606.83" y="589.9" width="0.7" height="16.1" fill="#b1b1b1"/>
<rect x="608.16" y="589.9" width="0.7" height="16.1" fill="#c4c4c4"/>
<rect x="609.82" y="589.9" width="0.7" height="16.1" fill="#222222"/>
<rect x="616.26" y="589.9" width="0.9" height="16.1" fill="#777777"/>
<rect x="619.43" y="589.9" width="0.9" height="16.1" fill="#6a6a6a"/>
<rect x="626.69" y="589.9" width="1.2" height="16.1" fill="#6d6d6d"/>
<rect x="631.69" y="589.9" width="0.5" height="16.1" fill="#3e3e3e"/>
<rect x="521.3" y="606" width="112.3" height="3.9" fill="url(#gcb)"/>
<path d="M521.3 538V610.4H639.7V538Z" fill="none" stroke="#444" stroke-width="0.9"/>
<line x1="521.3" y1="589" x2="639.7" y2="589" stroke="#bbb" stroke-width="0.4"/>
<path d="M521.3 539.11H547.64V586.4" fill="none" stroke="#6cc43c" stroke-width="0.8" stroke-dasharray="2 1.2"/>
<path d="M521.64 585.04 L522.21 575.55 L522.97 569.86 L524.49 566.06 L526.39 562.26 L528.29 553.72 L530.18 552.4 L532.08 548.03 L533.98 547.08 L535.88 547.46 L537.77 548.03 L540.62 544.23 L543.47 541.01 L546.32 541.01 L549.16 541.39 L552.96 543.29 L562.45 548.03 L571.94 553.72 L581.43 559.42 L590.92 564.16 L596.61 567.96 L602.3 569.86 L609.89 573.65 L615.59 577.07 L621.28 580.29 L624.13 581.62 L626.03 580.86 L628.87 582.76 L633.62 586.37" fill="none" stroke="#1de21d" stroke-width="1.1" stroke-linejoin="round"/>
<line x1="519.3" y1="586.4" x2="521.3" y2="586.4" stroke="#333" stroke-width="0.7"/>
<text x="518.9" y="586.4" font-size="7.1" text-anchor="end" dominant-baseline="central" fill="#222" stroke="#222" stroke-width="0.12">0.0</text>
<line x1="519.3" y1="578.32" x2="521.3" y2="578.32" stroke="#333" stroke-width="0.7"/>
<text x="518.9" y="578.32" font-size="7.1" text-anchor="end" dominant-baseline="central" fill="#222" stroke="#222" stroke-width="0.12">0.1</text>
<line x1="519.3" y1="570.24" x2="521.3" y2="570.24" stroke="#333" stroke-width="0.7"/>
<text x="518.9" y="570.24" font-size="7.1" text-anchor="end" dominant-baseline="central" fill="#222" stroke="#222" stroke-width="0.12">0.2</text>
<line x1="519.3" y1="562.16" x2="521.3" y2="562.16" stroke="#333" stroke-width="0.7"/>
<text x="518.9" y="562.16" font-size="7.1" text-anchor="end" dominant-baseline="central" fill="#222" stroke="#222" stroke-width="0.12">0.3</text>
<line x1="519.3" y1="554.08" x2="521.3" y2="554.08" stroke="#333" stroke-width="0.7"/>
<text x="518.9" y="554.08" font-size="7.1" text-anchor="end" dominant-baseline="central" fill="#222" stroke="#222" stroke-width="0.12">0.4</text>
<line x1="519.3" y1="546" x2="521.3" y2="546" stroke="#333" stroke-width="0.7"/>
<text x="518.9" y="546" font-size="7.1" text-anchor="end" dominant-baseline="central" fill="#222" stroke="#222" stroke-width="0.12">0.5</text>
<line x1="519.3" y1="537.92" x2="521.3" y2="537.92" stroke="#333" stroke-width="0.7"/>
<text x="518.9" y="537.92" font-size="7.1" text-anchor="end" dominant-baseline="central" fill="#222" stroke="#222" stroke-width="0.12">0.6</text>
<text x="501.5" y="560.6" font-size="7.1" text-anchor="middle" dominant-baseline="central" fill="#222" stroke="#222" stroke-width="0.12" transform="rotate(-90 501.5 560.6)">Enrichment score (ES)</text>
<text x="549.73" y="547.6" font-size="7.2" text-anchor="start" dominant-baseline="central" fill="#222" stroke="#222" stroke-width="0.12">ES: 0.576</text>
<text x="630.2" y="548.4" font-size="7.2" text-anchor="end" dominant-baseline="central" fill="#222" stroke="#222" stroke-width="0.12">NES: 1.679</text>
<text x="634.2" y="558.1" font-size="7.2" text-anchor="end" dominant-baseline="central" fill="#222" stroke="#222" stroke-width="0.12">FDR = 0.080</text>
<text x="580.5" y="521.8" font-size="7.1" text-anchor="middle" dominant-baseline="central" fill="#222" stroke="#222" stroke-width="0.12">Chemokine signaling pathway</text>
<text x="580.5" y="530.9" font-size="7.1" text-anchor="middle" dominant-baseline="central" fill="#222" stroke="#222" stroke-width="0.12">(MMU04062)</text>
<text x="489" y="519.2" font-size="12" text-anchor="start" dominant-baseline="alphabetic" fill="#000" font-weight="bold">j</text>
</g>
</svg>
</body></html>
